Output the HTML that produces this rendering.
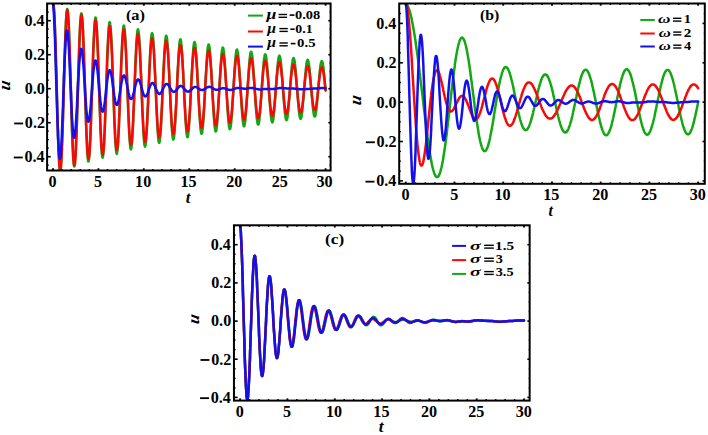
<!DOCTYPE html>
<html><head><meta charset="utf-8"><style>
html,body{margin:0;padding:0;background:#fff;width:708px;height:435px;overflow:hidden}
svg{display:block;font-family:"Liberation Serif",serif}
</style></head><body>
<svg width="708" height="435" viewBox="0 0 708 435">
<defs>
<clipPath id="clipa"><rect x="47.1" y="3.5" width="283.5" height="167.0"/></clipPath>
<clipPath id="clipb"><rect x="399.2" y="3.5" width="305.59999999999997" height="180.3"/></clipPath>
<clipPath id="clipc"><rect x="233.95" y="225.3" width="295.7" height="175.3"/></clipPath>
</defs>
<rect width="708" height="435" fill="#fff"/>
<g clip-path="url(#clipa)">
<polyline points="53.0,3.7 53.1,3.5 53.3,3.8 53.5,4.8 53.7,6.2 53.9,8.2 54.0,10.8 54.2,13.8 54.4,17.3 54.6,21.2 54.8,25.6 55.0,30.4 55.1,35.6 55.3,41.1 55.5,46.9 55.7,53.0 55.9,59.3 56.0,65.7 56.2,72.4 56.4,79.1 56.6,85.8 56.8,92.6 57.0,99.3 57.1,105.9 57.3,112.5 57.5,118.8 57.7,125.0 57.9,130.8 58.0,136.5 58.2,141.8 58.4,146.7 58.6,151.2 58.8,155.4 59.0,159.1 59.1,162.3 59.3,165.0 59.5,167.3 59.7,169.0 59.9,170.2 60.0,170.8 60.2,171.0 60.4,170.5 60.6,169.6 60.8,168.1 61.0,166.1 61.1,163.6 61.3,160.7 61.5,157.2 61.7,153.3 61.9,149.0 62.0,144.3 62.2,139.3 62.4,133.9 62.6,128.3 62.8,122.4 63.0,116.3 63.1,110.0 63.3,103.6 63.5,97.1 63.7,90.5 63.9,84.0 64.0,77.5 64.2,71.1 64.4,64.8 64.6,58.6 64.8,52.7 65.0,47.0 65.1,41.6 65.3,36.5 65.5,31.8 65.7,27.5 65.9,23.5 66.0,20.0 66.2,16.9 66.4,14.3 66.6,12.2 66.8,10.7 67.0,9.6 67.1,9.0 67.3,9.0 67.5,9.4 67.7,10.4 67.9,11.9 68.0,13.9 68.2,16.4 68.4,19.4 68.6,22.8 68.8,26.6 69.0,30.9 69.1,35.5 69.3,40.4 69.5,45.7 69.7,51.2 69.9,57.0 70.0,63.0 70.2,69.1 70.4,75.3 70.6,81.7 70.8,88.0 71.0,94.4 71.1,100.7 71.3,106.9 71.5,113.0 71.7,119.0 71.9,124.7 72.0,130.2 72.2,135.4 72.4,140.3 72.6,144.9 72.8,149.1 73.0,152.9 73.1,156.2 73.3,159.2 73.5,161.6 73.7,163.6 73.9,165.1 74.0,166.1 74.2,166.6 74.4,166.6 74.6,166.1 74.8,165.0 75.0,163.5 75.1,161.5 75.3,159.1 75.5,156.1 75.7,152.8 75.9,149.0 76.0,144.9 76.2,140.3 76.4,135.5 76.6,130.4 76.8,125.0 77.0,119.3 77.1,113.5 77.3,107.6 77.5,101.5 77.7,95.3 77.9,89.1 78.0,83.0 78.2,76.8 78.4,70.8 78.6,64.9 78.8,59.1 79.0,53.6 79.1,48.3 79.3,43.2 79.5,38.5 79.7,34.1 79.9,30.1 80.0,26.4 80.2,23.2 80.4,20.4 80.6,18.1 80.8,16.2 81.0,14.8 81.1,13.8 81.3,13.4 81.5,13.5 81.7,14.0 81.9,15.0 82.0,16.6 82.2,18.5 82.4,21.0 82.6,23.8 82.8,27.1 83.0,30.8 83.1,34.9 83.3,39.3 83.5,44.0 83.7,49.0 83.9,54.3 84.0,59.7 84.2,65.4 84.4,71.2 84.6,77.1 84.8,83.0 85.0,89.0 85.1,95.0 85.3,100.9 85.5,106.7 85.7,112.5 85.9,118.0 86.0,123.3 86.2,128.4 86.4,133.3 86.6,137.8 86.8,142.0 87.0,145.9 87.1,149.4 87.3,152.4 87.5,155.1 87.7,157.3 87.9,159.1 88.0,160.4 88.2,161.2 88.4,161.5 88.6,161.4 88.8,160.8 89.0,159.8 89.1,158.2 89.3,156.2 89.5,153.8 89.7,151.0 89.9,147.7 90.0,144.1 90.2,140.1 90.4,135.8 90.6,131.1 90.8,126.2 91.0,121.1 91.1,115.8 91.3,110.3 91.5,104.6 91.7,98.9 91.9,93.1 92.1,87.3 92.2,81.5 92.4,75.7 92.6,70.0 92.8,64.5 93.0,59.2 93.1,54.0 93.3,49.1 93.5,44.4 93.7,40.0 93.9,36.0 94.1,32.3 94.2,28.9 94.4,26.0 94.6,23.5 94.8,21.4 95.0,19.7 95.1,18.5 95.3,17.7 95.5,17.5 95.7,17.6 95.9,18.3 96.1,19.4 96.2,20.9 96.4,22.9 96.6,25.3 96.8,28.1 97.0,31.3 97.1,34.9 97.3,38.8 97.5,43.1 97.7,47.6 97.9,52.4 98.1,57.4 98.2,62.6 98.4,68.0 98.6,73.5 98.8,79.0 99.0,84.7 99.1,90.4 99.3,96.0 99.5,101.6 99.7,107.1 99.9,112.4 100.1,117.6 100.2,122.6 100.4,127.4 100.6,131.9 100.8,136.1 101.0,140.0 101.1,143.6 101.3,146.8 101.5,149.6 101.7,152.1 101.9,154.1 102.1,155.6 102.2,156.8 102.4,157.5 102.6,157.7 102.8,157.5 103.0,156.8 103.1,155.7 103.3,154.2 103.5,152.2 103.7,149.9 103.9,147.1 104.1,144.0 104.2,140.5 104.4,136.7 104.6,132.5 104.8,128.1 105.0,123.5 105.1,118.6 105.3,113.5 105.5,108.3 105.7,103.0 105.9,97.6 106.1,92.1 106.2,86.6 106.4,81.2 106.6,75.8 106.8,70.5 107.0,65.3 107.1,60.3 107.3,55.5 107.5,50.9 107.7,46.5 107.9,42.5 108.1,38.7 108.2,35.3 108.4,32.3 108.6,29.6 108.8,27.3 109.0,25.4 109.1,24.0 109.3,22.9 109.5,22.3 109.7,22.1 109.9,22.4 110.1,23.1 110.2,24.2 110.4,25.8 110.6,27.7 110.8,30.1 111.0,32.8 111.1,35.9 111.3,39.3 111.5,43.1 111.7,47.1 111.9,51.5 112.1,56.0 112.2,60.8 112.4,65.7 112.6,70.8 112.8,76.0 113.0,81.2 113.1,86.5 113.3,91.9 113.5,97.2 113.7,102.4 113.9,107.5 114.1,112.5 114.2,117.4 114.4,122.0 114.6,126.4 114.8,130.6 115.0,134.5 115.1,138.1 115.3,141.4 115.5,144.3 115.7,146.8 115.9,149.0 116.1,150.8 116.2,152.2 116.4,153.1 116.6,153.7 116.8,153.8 117.0,153.5 117.1,152.7 117.3,151.6 117.5,150.0 117.7,148.1 117.9,145.7 118.1,143.0 118.2,140.0 118.4,136.6 118.6,132.9 118.8,128.9 119.0,124.7 119.1,120.3 119.3,115.6 119.5,110.8 119.7,105.8 119.9,100.8 120.1,95.6 120.2,90.5 120.4,85.3 120.6,80.1 120.8,75.1 121.0,70.1 121.1,65.2 121.3,60.5 121.5,56.0 121.7,51.7 121.9,47.7 122.1,43.9 122.2,40.5 122.4,37.3 122.6,34.5 122.8,32.1 123.0,30.0 123.1,28.3 123.3,27.0 123.5,26.1 123.7,25.6 123.9,25.5 124.1,25.9 124.2,26.6 124.4,27.7 124.6,29.3 124.8,31.2 125.0,33.5 125.1,36.1 125.3,39.1 125.5,42.4 125.7,46.0 125.9,49.9 126.1,54.0 126.2,58.3 126.4,62.9 126.6,67.6 126.8,72.4 127.0,77.3 127.1,82.2 127.3,87.3 127.5,92.3 127.7,97.2 127.9,102.1 128.1,107.0 128.2,111.6 128.4,116.2 128.6,120.5 128.8,124.6 129.0,128.5 129.1,132.1 129.3,135.4 129.5,138.5 129.7,141.1 129.9,143.5 130.1,145.4 130.2,147.0 130.4,148.2 130.6,149.1 130.8,149.5 131.0,149.5 131.2,149.1 131.3,148.4 131.5,147.2 131.7,145.7 131.9,143.7 132.1,141.5 132.2,138.9 132.4,135.9 132.6,132.7 132.8,129.2 133.0,125.4 133.2,121.4 133.3,117.1 133.5,112.7 133.7,108.2 133.9,103.5 134.1,98.7 134.2,93.9 134.4,89.0 134.6,84.2 134.8,79.3 135.0,74.6 135.2,69.9 135.3,65.4 135.5,61.1 135.7,56.9 135.9,52.9 136.1,49.2 136.2,45.7 136.4,42.5 136.6,39.7 136.8,37.1 137.0,34.9 137.2,33.0 137.3,31.5 137.5,30.4 137.7,29.7 137.9,29.3 138.1,29.4 138.2,29.8 138.4,30.6 138.6,31.8 138.8,33.3 139.0,35.2 139.2,37.5 139.3,40.1 139.5,43.0 139.7,46.2 139.9,49.6 140.1,53.3 140.2,57.3 140.4,61.4 140.6,65.7 140.8,70.2 141.0,74.8 141.2,79.4 141.3,84.1 141.5,88.9 141.7,93.6 141.9,98.3 142.1,102.9 142.2,107.4 142.4,111.8 142.6,116.0 142.8,120.1 143.0,123.9 143.2,127.5 143.3,130.9 143.5,133.9 143.7,136.7 143.9,139.2 144.1,141.3 144.2,143.1 144.4,144.5 144.6,145.6 144.8,146.2 145.0,146.6 145.2,146.5 145.3,146.1 145.5,145.3 145.7,144.1 145.9,142.5 146.1,140.7 146.2,138.5 146.4,135.9 146.6,133.1 146.8,130.0 147.0,126.6 147.2,123.0 147.3,119.1 147.5,115.1 147.7,110.9 147.9,106.6 148.1,102.1 148.2,97.6 148.4,93.1 148.6,88.5 148.8,83.9 149.0,79.4 149.2,74.9 149.3,70.5 149.5,66.3 149.7,62.2 149.9,58.3 150.1,54.6 150.2,51.1 150.4,47.9 150.6,45.0 150.8,42.3 151.0,40.0 151.2,38.0 151.3,36.3 151.5,34.9 151.7,33.9 151.9,33.3 152.1,33.1 152.2,33.2 152.4,33.6 152.6,34.5 152.8,35.6 153.0,37.2 153.2,39.0 153.3,41.2 153.5,43.7 153.7,46.5 153.9,49.5 154.1,52.8 154.2,56.4 154.4,60.1 154.6,64.0 154.8,68.1 155.0,72.3 155.2,76.6 155.3,81.0 155.5,85.4 155.7,89.9 155.9,94.3 156.1,98.7 156.2,103.0 156.4,107.2 156.6,111.3 156.8,115.2 157.0,119.0 157.2,122.5 157.3,125.9 157.5,128.9 157.7,131.8 157.9,134.3 158.1,136.5 158.2,138.4 158.4,140.0 158.6,141.3 158.8,142.2 159.0,142.7 159.2,142.9 159.3,142.8 159.5,142.2 159.7,141.4 159.9,140.2 160.1,138.7 160.2,136.8 160.4,134.6 160.6,132.2 160.8,129.4 161.0,126.4 161.2,123.2 161.3,119.7 161.5,116.0 161.7,112.2 161.9,108.2 162.1,104.1 162.2,99.9 162.4,95.6 162.6,91.3 162.8,86.9 163.0,82.6 163.2,78.4 163.3,74.2 163.5,70.1 163.7,66.1 163.9,62.3 164.1,58.7 164.2,55.2 164.4,52.0 164.6,49.0 164.8,46.3 165.0,43.9 165.2,41.8 165.3,39.9 165.5,38.4 165.7,37.2 165.9,36.4 166.1,35.9 166.2,35.7 166.4,35.9 166.6,36.4 166.8,37.3 167.0,38.5 167.2,40.0 167.3,41.8 167.5,43.9 167.7,46.4 167.9,49.0 168.1,52.0 168.3,55.2 168.4,58.5 168.6,62.1 168.8,65.9 169.0,69.7 169.2,73.7 169.3,77.8 169.5,82.0 169.7,86.2 169.9,90.4 170.1,94.5 170.3,98.7 170.4,102.7 170.6,106.7 170.8,110.5 171.0,114.2 171.2,117.7 171.3,121.0 171.5,124.1 171.7,127.0 171.9,129.6 172.1,131.9 172.3,134.0 172.4,135.7 172.6,137.1 172.8,138.3 173.0,139.1 173.2,139.5 173.3,139.6 173.5,139.4 173.7,138.9 173.9,138.0 174.1,136.8 174.3,135.3 174.4,133.5 174.6,131.4 174.8,129.1 175.0,126.5 175.2,123.6 175.3,120.5 175.5,117.2 175.7,113.7 175.9,110.1 176.1,106.3 176.3,102.4 176.4,98.5 176.6,94.4 176.8,90.4 177.0,86.3 177.2,82.3 177.3,78.3 177.5,74.4 177.7,70.6 177.9,66.9 178.1,63.3 178.3,60.0 178.4,56.8 178.6,53.8 178.8,51.1 179.0,48.6 179.2,46.4 179.3,44.5 179.5,42.8 179.7,41.5 179.9,40.4 180.1,39.7 180.3,39.3 180.4,39.3 180.6,39.5 180.8,40.1 181.0,41.0 181.2,42.2 181.3,43.7 181.5,45.5 181.7,47.6 181.9,49.9 182.1,52.5 182.3,55.3 182.4,58.4 182.6,61.6 182.8,65.0 183.0,68.6 183.2,72.3 183.3,76.1 183.5,79.9 183.7,83.9 183.9,87.8 184.1,91.8 184.3,95.7 184.4,99.6 184.6,103.4 184.8,107.1 185.0,110.6 185.2,114.1 185.3,117.3 185.5,120.4 185.7,123.3 185.9,125.9 186.1,128.3 186.3,130.4 186.4,132.3 186.6,133.9 186.8,135.1 187.0,136.1 187.2,136.8 187.3,137.1 187.5,137.2 187.7,136.9 187.9,136.3 188.1,135.4 188.3,134.2 188.4,132.7 188.6,130.9 188.8,128.9 189.0,126.6 189.2,124.1 189.3,121.3 189.5,118.3 189.7,115.1 189.9,111.8 190.1,108.3 190.3,104.8 190.4,101.1 190.6,97.3 190.8,93.5 191.0,89.6 191.2,85.8 191.3,82.0 191.5,78.2 191.7,74.6 191.9,71.0 192.1,67.5 192.3,64.2 192.4,61.0 192.6,58.1 192.8,55.3 193.0,52.8 193.2,50.5 193.3,48.4 193.5,46.6 193.7,45.1 193.9,43.9 194.1,43.0 194.3,42.4 194.4,42.1 194.6,42.1 194.8,42.4 195.0,43.0 195.2,43.8 195.3,45.0 195.5,46.5 195.7,48.2 195.9,50.2 196.1,52.5 196.3,55.0 196.4,57.7 196.6,60.6 196.8,63.6 197.0,66.9 197.2,70.2 197.3,73.7 197.5,77.3 197.7,80.9 197.9,84.6 198.1,88.3 198.3,92.0 198.4,95.7 198.6,99.4 198.8,102.9 199.0,106.4 199.2,109.7 199.3,112.9 199.5,115.9 199.7,118.7 199.9,121.4 200.1,123.8 200.3,126.0 200.4,127.9 200.6,129.6 200.8,131.0 201.0,132.1 201.2,133.0 201.3,133.5 201.5,133.8 201.7,133.8 201.9,133.4 202.1,132.8 202.3,131.9 202.4,130.7 202.6,129.2 202.8,127.5 203.0,125.5 203.2,123.3 203.3,120.8 203.5,118.2 203.7,115.3 203.9,112.3 204.1,109.2 204.3,105.9 204.4,102.5 204.6,99.0 204.8,95.4 205.0,91.8 205.2,88.2 205.3,84.6 205.5,81.0 205.7,77.5 205.9,74.1 206.1,70.7 206.3,67.5 206.4,64.4 206.6,61.5 206.8,58.7 207.0,56.2 207.2,53.9 207.4,51.8 207.5,49.9 207.7,48.3 207.9,47.0 208.1,45.9 208.3,45.1 208.4,44.6 208.6,44.4 208.8,44.5 209.0,44.8 209.2,45.5 209.4,46.4 209.5,47.6 209.7,49.0 209.9,50.7 210.1,52.7 210.3,54.9 210.4,57.3 210.6,59.9 210.8,62.7 211.0,65.6 211.2,68.7 211.4,71.9 211.5,75.2 211.7,78.7 211.9,82.1 212.1,85.6 212.3,89.1 212.4,92.6 212.6,96.1 212.8,99.5 213.0,102.9 213.2,106.1 213.4,109.2 213.5,112.2 213.7,115.0 213.9,117.7 214.1,120.2 214.3,122.4 214.4,124.4 214.6,126.2 214.8,127.8 215.0,129.0 215.2,130.1 215.4,130.8 215.5,131.3 215.7,131.5 215.9,131.4 216.1,131.0 216.3,130.4 216.4,129.5 216.6,128.3 216.8,126.9 217.0,125.2 217.2,123.3 217.4,121.2 217.5,118.8 217.7,116.3 217.9,113.6 218.1,110.7 218.3,107.7 218.4,104.6 218.6,101.4 218.8,98.1 219.0,94.7 219.2,91.4 219.4,88.0 219.5,84.6 219.7,81.2 219.9,77.9 220.1,74.7 220.3,71.6 220.4,68.6 220.6,65.7 220.8,63.0 221.0,60.5 221.2,58.1 221.4,56.0 221.5,54.1 221.7,52.4 221.9,50.9 222.1,49.7 222.3,48.8 222.4,48.1 222.6,47.7 222.8,47.5 223.0,47.6 223.2,48.0 223.4,48.7 223.5,49.6 223.7,50.8 223.9,52.2 224.1,53.9 224.3,55.8 224.4,57.9 224.6,60.2 224.8,62.7 225.0,65.3 225.2,68.1 225.4,71.1 225.5,74.1 225.7,77.3 225.9,80.5 226.1,83.7 226.3,87.0 226.4,90.3 226.6,93.6 226.8,96.9 227.0,100.0 227.2,103.2 227.4,106.2 227.5,109.1 227.7,111.8 227.9,114.5 228.1,116.9 228.3,119.2 228.4,121.2 228.6,123.1 228.8,124.7 229.0,126.1 229.2,127.2 229.4,128.1 229.5,128.7 229.7,129.1 229.9,129.2 230.1,129.0 230.3,128.6 230.4,127.9 230.6,127.0 230.8,125.8 231.0,124.4 231.2,122.7 231.4,120.9 231.5,118.8 231.7,116.5 231.9,114.1 232.1,111.5 232.3,108.8 232.4,105.9 232.6,102.9 232.8,99.8 233.0,96.7 233.2,93.5 233.4,90.3 233.5,87.1 233.7,83.9 233.9,80.7 234.1,77.6 234.3,74.6 234.4,71.7 234.6,68.9 234.8,66.2 235.0,63.6 235.2,61.3 235.4,59.1 235.5,57.1 235.7,55.3 235.9,53.8 236.1,52.4 236.3,51.3 236.4,50.5 236.6,49.9 236.8,49.6 237.0,49.5 237.2,49.6 237.4,50.1 237.5,50.7 237.7,51.6 237.9,52.8 238.1,54.2 238.3,55.8 238.4,57.6 238.6,59.6 238.8,61.8 239.0,64.2 239.2,66.7 239.4,69.4 239.5,72.2 239.7,75.1 239.9,78.0 240.1,81.1 240.3,84.2 240.4,87.3 240.6,90.4 240.8,93.5 241.0,96.5 241.2,99.5 241.4,102.4 241.5,105.2 241.7,107.9 241.9,110.5 242.1,112.9 242.3,115.2 242.4,117.3 242.6,119.2 242.8,120.9 243.0,122.4 243.2,123.6 243.4,124.6 243.5,125.4 243.7,126.0 243.9,126.3 244.1,126.3 244.3,126.1 244.4,125.7 244.6,125.0 244.8,124.1 245.0,122.9 245.2,121.5 245.4,119.9 245.5,118.1 245.7,116.2 245.9,114.0 246.1,111.7 246.3,109.2 246.5,106.6 246.6,103.9 246.8,101.1 247.0,98.2 247.2,95.2 247.4,92.2 247.5,89.2 247.7,86.2 247.9,83.2 248.1,80.3 248.3,77.4 248.5,74.5 248.6,71.8 248.8,69.2 249.0,66.7 249.2,64.4 249.4,62.2 249.5,60.2 249.7,58.4 249.9,56.8 250.1,55.4 250.3,54.2 250.5,53.3 250.6,52.5 250.8,52.1 251.0,51.8 251.2,51.8 251.4,52.0 251.5,52.5 251.7,53.2 251.9,54.1 252.1,55.3 252.3,56.7 252.5,58.2 252.6,60.0 252.8,62.0 253.0,64.1 253.2,66.4 253.4,68.8 253.5,71.4 253.7,74.0 253.9,76.8 254.1,79.6 254.3,82.5 254.5,85.4 254.6,88.4 254.8,91.3 255.0,94.2 255.2,97.1 255.4,99.9 255.5,102.7 255.7,105.3 255.9,107.8 256.1,110.2 256.3,112.5 256.5,114.6 256.6,116.5 256.8,118.3 257.0,119.8 257.2,121.2 257.4,122.3 257.5,123.3 257.7,124.0 257.9,124.4 258.1,124.6 258.3,124.6 258.5,124.4 258.6,123.9 258.8,123.3 259.0,122.3 259.2,121.2 259.4,119.9 259.5,118.3 259.7,116.6 259.9,114.7 260.1,112.6 260.3,110.4 260.5,108.0 260.6,105.5 260.8,103.0 261.0,100.3 261.2,97.6 261.4,94.8 261.5,91.9 261.7,89.1 261.9,86.2 262.1,83.4 262.3,80.7 262.5,77.9 262.6,75.3 262.8,72.8 263.0,70.3 263.2,68.0 263.4,65.8 263.5,63.8 263.7,62.0 263.9,60.3 264.1,58.8 264.3,57.5 264.5,56.4 264.6,55.6 264.8,54.9 265.0,54.5 265.2,54.3 265.4,54.4 265.5,54.6 265.7,55.1 265.9,55.8 266.1,56.7 266.3,57.8 266.5,59.1 266.6,60.7 266.8,62.4 267.0,64.2 267.2,66.3 267.4,68.4 267.5,70.7 267.7,73.1 267.9,75.7 268.1,78.3 268.3,80.9 268.5,83.6 268.6,86.4 268.8,89.1 269.0,91.9 269.2,94.6 269.4,97.3 269.5,99.9 269.7,102.4 269.9,104.9 270.1,107.2 270.3,109.5 270.5,111.5 270.6,113.5 270.8,115.2 271.0,116.8 271.2,118.2 271.4,119.4 271.5,120.4 271.7,121.2 271.9,121.8 272.1,122.2 272.3,122.4 272.5,122.3 272.6,122.0 272.8,121.5 273.0,120.8 273.2,119.9 273.4,118.7 273.5,117.4 273.7,115.9 273.9,114.2 274.1,112.4 274.3,110.4 274.5,108.2 274.6,106.0 274.8,103.6 275.0,101.1 275.2,98.6 275.4,96.0 275.5,93.3 275.7,90.6 275.9,88.0 276.1,85.3 276.3,82.6 276.5,80.0 276.6,77.5 276.8,75.0 277.0,72.6 277.2,70.3 277.4,68.2 277.5,66.1 277.7,64.3 277.9,62.6 278.1,61.0 278.3,59.7 278.5,58.5 278.6,57.5 278.8,56.8 279.0,56.2 279.2,55.9 279.4,55.7 279.5,55.8 279.7,56.1 279.9,56.6 280.1,57.3 280.3,58.2 280.5,59.3 280.6,60.6 280.8,62.1 281.0,63.7 281.2,65.5 281.4,67.5 281.5,69.6 281.7,71.8 281.9,74.1 282.1,76.5 282.3,78.9 282.5,81.5 282.6,84.0 282.8,86.6 283.0,89.2 283.2,91.8 283.4,94.4 283.6,96.9 283.7,99.4 283.9,101.8 284.1,104.1 284.3,106.3 284.5,108.3 284.6,110.3 284.8,112.1 285.0,113.7 285.2,115.2 285.4,116.5 285.6,117.6 285.7,118.5 285.9,119.2 286.1,119.8 286.3,120.1 286.5,120.2 286.6,120.1 286.8,119.8 287.0,119.3 287.2,118.6 287.4,117.7 287.6,116.6 287.7,115.3 287.9,113.9 288.1,112.3 288.3,110.5 288.5,108.6 288.6,106.6 288.8,104.5 289.0,102.2 289.2,99.9 289.4,97.5 289.6,95.0 289.7,92.6 289.9,90.0 290.1,87.5 290.3,85.0 290.5,82.6 290.6,80.1 290.8,77.7 291.0,75.4 291.2,73.2 291.4,71.1 291.6,69.2 291.7,67.3 291.9,65.6 292.1,64.0 292.3,62.6 292.5,61.4 292.6,60.4 292.8,59.5 293.0,58.8 293.2,58.4 293.4,58.1 293.6,58.0 293.7,58.2 293.9,58.5 294.1,59.0 294.3,59.8 294.5,60.7 294.6,61.8 294.8,63.0 295.0,64.5 295.2,66.1 295.4,67.8 295.6,69.7 295.7,71.7 295.9,73.8 296.1,76.0 296.3,78.2 296.5,80.6 296.6,83.0 296.8,85.4 297.0,87.9 297.2,90.3 297.4,92.8 297.6,95.2 297.7,97.6 297.9,99.9 298.1,102.1 298.3,104.2 298.5,106.3 298.6,108.2 298.8,110.0 299.0,111.7 299.2,113.2 299.4,114.5 299.6,115.7 299.7,116.7 299.9,117.5 300.1,118.2 300.3,118.6 300.5,118.8 300.6,118.9 300.8,118.8 301.0,118.4 301.2,117.9 301.4,117.2 301.6,116.3 301.7,115.2 301.9,114.0 302.1,112.6 302.3,111.0 302.5,109.3 302.6,107.5 302.8,105.5 303.0,103.5 303.2,101.3 303.4,99.1 303.6,96.8 303.7,94.5 303.9,92.1 304.1,89.8 304.3,87.4 304.5,85.0 304.6,82.7 304.8,80.4 305.0,78.1 305.2,76.0 305.4,73.9 305.6,71.9 305.7,70.1 305.9,68.3 306.1,66.7 306.3,65.3 306.5,64.0 306.6,62.9 306.8,61.9 307.0,61.1 307.2,60.5 307.4,60.1 307.6,59.9 307.7,59.8 307.9,60.0 308.1,60.3 308.3,60.9 308.5,61.6 308.6,62.4 308.8,63.5 309.0,64.7 309.2,66.1 309.4,67.6 309.6,69.2 309.7,71.0 309.9,72.9 310.1,74.9 310.3,77.0 310.5,79.1 310.6,81.3 310.8,83.6 311.0,85.9 311.2,88.2 311.4,90.5 311.6,92.7 311.7,95.0 311.9,97.2 312.1,99.3 312.3,101.4 312.5,103.4 312.6,105.3 312.8,107.1 313.0,108.7 313.2,110.2 313.4,111.6 313.6,112.8 313.7,113.9 313.9,114.8 314.1,115.5 314.3,116.1 314.5,116.4 314.6,116.6 314.8,116.6 315.0,116.4 315.2,116.1 315.4,115.5 315.6,114.8 315.7,113.9 315.9,112.8 316.1,111.6 316.3,110.3 316.5,108.8 316.6,107.1 316.8,105.4 317.0,103.5 317.2,101.6 317.4,99.5 317.6,97.4 317.7,95.3 317.9,93.1 318.1,90.8 318.3,88.6 318.5,86.4 318.6,84.1 318.8,82.0 319.0,79.8 319.2,77.7 319.4,75.7 319.6,73.8 319.7,71.9 319.9,70.2 320.1,68.6 320.3,67.2 320.5,65.8 320.6,64.7 320.8,63.6 321.0,62.8 321.2,62.1 321.4,61.6 321.6,61.3 321.7,61.1 321.9,61.1 322.1,61.3 322.3,61.7 322.5,62.2 322.7,62.9 322.8,63.8 323.0,64.9 323.2,66.1 323.4,67.4 323.6,68.9 323.7,70.5 323.9,72.2 324.1,74.0 324.3,75.9 324.5,77.9 324.7,79.9 324.8,82.0 325.0,84.2 325.2,86.4 325.4,88.5 325.6,90.7" fill="none" stroke="#12a812" stroke-width="2.5" stroke-linejoin="round" stroke-linecap="round"/>
<polyline points="53.0,3.7 53.1,3.3 53.3,3.5 53.5,4.2 53.7,5.5 53.9,7.4 54.0,9.7 54.2,12.6 54.4,15.9 54.6,19.7 54.8,24.0 55.0,28.7 55.1,33.7 55.3,39.1 55.5,44.8 55.7,50.8 55.9,57.0 56.0,63.4 56.2,70.0 56.4,76.7 56.6,83.4 56.8,90.1 57.0,96.9 57.1,103.5 57.3,110.1 57.5,116.5 57.7,122.7 57.9,128.6 58.0,134.3 58.2,139.7 58.4,144.7 58.6,149.4 58.8,153.6 59.0,157.5 59.1,160.8 59.3,163.7 59.5,166.1 59.7,168.0 59.9,169.3 60.0,170.2 60.2,170.5 60.4,170.2 60.6,169.5 60.8,168.2 61.0,166.4 61.1,164.0 61.3,161.2 61.5,158.0 61.7,154.3 61.9,150.1 62.0,145.6 62.2,140.7 62.4,135.5 62.6,130.0 62.8,124.2 63.0,118.2 63.1,112.0 63.3,105.7 63.5,99.3 63.7,92.8 63.9,86.4 64.0,79.9 64.2,73.5 64.4,67.2 64.6,61.1 64.8,55.2 65.0,49.5 65.1,44.1 65.3,39.0 65.5,34.2 65.7,29.7 65.9,25.7 66.0,22.1 66.2,19.0 66.4,16.3 66.6,14.0 66.8,12.3 67.0,11.1 67.1,10.4 67.3,10.2 67.5,10.5 67.7,11.3 67.9,12.6 68.0,14.5 68.2,16.8 68.4,19.6 68.6,22.8 68.8,26.4 69.0,30.5 69.1,34.9 69.3,39.7 69.5,44.8 69.7,50.2 69.9,55.8 70.0,61.6 70.2,67.6 70.4,73.7 70.6,79.9 70.8,86.1 71.0,92.4 71.1,98.6 71.3,104.8 71.5,110.8 71.7,116.7 71.9,122.4 72.0,127.9 72.2,133.1 72.4,138.0 72.6,142.6 72.8,146.8 73.0,150.6 73.1,154.1 73.3,157.1 73.5,159.6 73.7,161.7 73.9,163.3 74.0,164.4 74.2,165.1 74.4,165.2 74.6,164.8 74.8,164.0 75.0,162.6 75.1,160.8 75.3,158.5 75.5,155.8 75.7,152.6 75.9,149.0 76.0,145.1 76.2,140.7 76.4,136.1 76.6,131.1 76.8,125.9 77.0,120.5 77.1,114.8 77.3,109.0 77.5,103.1 77.7,97.1 77.9,91.1 78.0,85.0 78.2,79.0 78.4,73.1 78.6,67.3 78.8,61.6 79.0,56.1 79.1,50.9 79.3,45.9 79.5,41.2 79.7,36.8 79.9,32.7 80.0,29.1 80.2,25.8 80.4,22.9 80.6,20.5 80.8,18.5 81.0,17.0 81.1,16.0 81.3,15.4 81.5,15.3 81.7,15.7 81.9,16.6 82.0,17.9 82.2,19.7 82.4,21.9 82.6,24.6 82.8,27.7 83.0,31.2 83.1,35.0 83.3,39.2 83.5,43.7 83.7,48.5 83.9,53.5 84.0,58.7 84.2,64.2 84.4,69.8 84.6,75.4 84.8,81.2 85.0,87.0 85.1,92.8 85.3,98.6 85.5,104.3 85.7,109.8 85.9,115.3 86.0,120.5 86.2,125.5 86.4,130.3 86.6,134.8 86.8,138.9 87.0,142.8 87.1,146.2 87.3,149.3 87.5,152.0 87.7,154.3 87.9,156.1 88.0,157.5 88.2,158.4 88.4,158.9 88.6,158.9 88.8,158.4 89.0,157.5 89.1,156.2 89.3,154.4 89.5,152.1 89.7,149.5 89.9,146.5 90.0,143.1 90.2,139.3 90.4,135.2 90.6,130.8 90.8,126.2 91.0,121.3 91.1,116.2 91.3,110.9 91.5,105.5 91.7,100.0 91.9,94.5 92.1,88.9 92.2,83.3 92.4,77.7 92.6,72.2 92.8,66.9 93.0,61.7 93.1,56.6 93.3,51.8 93.5,47.3 93.7,43.0 93.9,39.0 94.1,35.4 94.2,32.1 94.4,29.1 94.6,26.6 94.8,24.5 95.0,22.8 95.1,21.5 95.3,20.7 95.5,20.3 95.7,20.3 95.9,20.8 96.1,21.8 96.2,23.2 96.4,24.9 96.6,27.2 96.8,29.8 97.0,32.7 97.1,36.1 97.3,39.8 97.5,43.7 97.7,48.0 97.9,52.5 98.1,57.3 98.2,62.2 98.4,67.4 98.6,72.6 98.8,77.9 99.0,83.3 99.1,88.8 99.3,94.2 99.5,99.5 99.7,104.8 99.9,110.0 100.1,115.0 100.2,119.8 100.4,124.5 100.6,128.8 100.8,133.0 101.0,136.8 101.1,140.3 101.3,143.4 101.5,146.2 101.7,148.6 101.9,150.7 102.1,152.3 102.2,153.5 102.4,154.3 102.6,154.6 102.8,154.5 103.0,154.0 103.1,153.1 103.3,151.7 103.5,150.0 103.7,147.8 103.9,145.3 104.1,142.4 104.2,139.1 104.4,135.6 104.6,131.7 104.8,127.6 105.0,123.2 105.1,118.6 105.3,113.9 105.5,108.9 105.7,103.9 105.9,98.8 106.1,93.6 106.2,88.4 106.4,83.2 106.6,78.1 106.8,73.0 107.0,68.0 107.1,63.2 107.3,58.6 107.5,54.2 107.7,50.0 107.9,46.1 108.1,42.5 108.2,39.2 108.4,36.2 108.6,33.5 108.8,31.3 109.0,29.4 109.1,27.9 109.3,26.8 109.5,26.1 109.7,25.9 109.9,26.0 110.1,26.6 110.2,27.5 110.4,28.9 110.6,30.6 110.8,32.8 111.0,35.3 111.1,38.1 111.3,41.3 111.5,44.7 111.7,48.5 111.9,52.5 112.1,56.7 112.2,61.2 112.4,65.8 112.6,70.6 112.8,75.4 113.0,80.4 113.1,85.4 113.3,90.4 113.5,95.4 113.7,100.4 113.9,105.2 114.1,110.0 114.2,114.6 114.4,119.0 114.6,123.2 114.8,127.2 115.0,130.9 115.1,134.4 115.3,137.5 115.5,140.4 115.7,142.8 115.9,145.0 116.1,146.7 116.2,148.1 116.4,149.1 116.6,149.7 116.8,149.9 117.0,149.7 117.1,149.1 117.3,148.1 117.5,146.7 117.7,145.0 117.9,142.8 118.1,140.4 118.2,137.6 118.4,134.5 118.6,131.1 118.8,127.4 119.0,123.5 119.1,119.3 119.3,115.0 119.5,110.5 119.7,105.9 119.9,101.2 120.1,96.4 120.2,91.5 120.4,86.7 120.6,81.8 120.8,77.0 121.0,72.3 121.1,67.8 121.3,63.3 121.5,59.1 121.7,55.0 121.9,51.2 122.1,47.6 122.2,44.2 122.4,41.2 122.6,38.5 122.8,36.1 123.0,34.1 123.1,32.4 123.3,31.1 123.5,30.2 123.7,29.7 123.9,29.5 124.1,29.7 124.2,30.3 124.4,31.3 124.6,32.7 124.8,34.4 125.0,36.4 125.1,38.8 125.3,41.5 125.5,44.6 125.7,47.8 125.9,51.4 126.1,55.2 126.2,59.2 126.4,63.4 126.6,67.7 126.8,72.1 127.0,76.7 127.1,81.3 127.3,86.0 127.5,90.6 127.7,95.3 127.9,99.9 128.1,104.4 128.2,108.8 128.4,113.0 128.6,117.1 128.8,121.0 129.0,124.6 129.1,128.0 129.3,131.2 129.5,134.1 129.7,136.6 129.9,138.9 130.1,140.8 130.2,142.3 130.4,143.5 130.6,144.4 130.8,144.9 131.0,145.0 131.2,144.7 131.3,144.1 131.5,143.1 131.7,141.7 131.9,140.1 132.1,138.0 132.2,135.7 132.4,133.0 132.6,130.1 132.8,126.9 133.0,123.4 133.2,119.8 133.3,115.9 133.5,111.9 133.7,107.7 133.9,103.4 134.1,99.0 134.2,94.5 134.4,90.0 134.6,85.6 134.8,81.1 135.0,76.7 135.2,72.4 135.3,68.2 135.5,64.1 135.7,60.2 135.9,56.5 136.1,53.0 136.2,49.8 136.4,46.8 136.6,44.1 136.8,41.7 137.0,39.6 137.2,37.8 137.3,36.4 137.5,35.3 137.7,34.5 137.9,34.1 138.1,34.1 138.2,34.4 138.4,35.1 138.6,36.1 138.8,37.5 139.0,39.1 139.2,41.2 139.3,43.5 139.5,46.1 139.7,49.0 139.9,52.1 140.1,55.5 140.2,59.1 140.4,62.9 140.6,66.8 140.8,70.9 141.0,75.1 141.2,79.3 141.3,83.6 141.5,88.0 141.7,92.3 141.9,96.6 142.1,100.9 142.2,105.1 142.4,109.1 142.6,113.1 142.8,116.8 143.0,120.4 143.2,123.7 143.3,126.8 143.5,129.7 143.7,132.3 143.9,134.6 144.1,136.6 144.2,138.3 144.4,139.7 144.6,140.7 144.8,141.4 145.0,141.8 145.2,141.8 145.3,141.5 145.5,140.8 145.7,139.8 145.9,138.5 146.1,136.8 146.2,134.8 146.4,132.6 146.6,130.0 146.8,127.2 147.0,124.2 147.2,120.9 147.3,117.5 147.5,113.8 147.7,110.0 147.9,106.1 148.1,102.1 148.2,97.9 148.4,93.8 148.6,89.6 148.8,85.4 149.0,81.3 149.2,77.2 149.3,73.2 149.5,69.3 149.7,65.5 149.9,61.9 150.1,58.5 150.2,55.3 150.4,52.4 150.6,49.6 150.8,47.1 151.0,45.0 151.2,43.1 151.3,41.5 151.5,40.2 151.7,39.2 151.9,38.6 152.1,38.3 152.2,38.3 152.4,38.6 152.6,39.3 152.8,40.3 153.0,41.6 153.2,43.3 153.3,45.2 153.5,47.4 153.7,49.9 153.9,52.6 154.1,55.5 154.2,58.7 154.4,62.0 154.6,65.6 154.8,69.2 155.0,73.0 155.2,76.9 155.3,80.9 155.5,84.9 155.7,88.9 155.9,92.9 156.1,96.9 156.2,100.8 156.4,104.6 156.6,108.3 156.8,111.9 157.0,115.3 157.2,118.6 157.3,121.6 157.5,124.4 157.7,127.0 157.9,129.3 158.1,131.4 158.2,133.2 158.4,134.6 158.6,135.8 158.8,136.7 159.0,137.2 159.2,137.5 159.3,137.4 159.5,137.0 159.7,136.3 159.9,135.2 160.1,133.9 160.2,132.3 160.4,130.4 160.6,128.2 160.8,125.7 161.0,123.1 161.2,120.2 161.3,117.1 161.5,113.8 161.7,110.4 161.9,106.8 162.1,103.1 162.2,99.3 162.4,95.5 162.6,91.6 162.8,87.7 163.0,83.8 163.2,80.0 163.3,76.2 163.5,72.5 163.7,68.9 163.9,65.5 164.1,62.2 164.2,59.1 164.4,56.1 164.6,53.4 164.8,50.9 165.0,48.7 165.2,46.7 165.3,45.1 165.5,43.6 165.7,42.5 165.9,41.7 166.1,41.2 166.2,41.0 166.4,41.1 166.6,41.5 166.8,42.3 167.0,43.3 167.2,44.6 167.3,46.2 167.5,48.1 167.7,50.2 167.9,52.5 168.1,55.1 168.3,58.0 168.4,61.0 168.6,64.1 168.8,67.5 169.0,70.9 169.2,74.5 169.3,78.1 169.5,81.8 169.7,85.6 169.9,89.3 170.1,93.1 170.3,96.8 170.4,100.4 170.6,104.0 170.8,107.4 171.0,110.7 171.2,113.9 171.3,116.9 171.5,119.7 171.7,122.3 171.9,124.6 172.1,126.8 172.3,128.6 172.4,130.2 172.6,131.6 172.8,132.6 173.0,133.4 173.2,133.8 173.3,134.0 173.5,133.9 173.7,133.5 173.9,132.7 174.1,131.7 174.3,130.5 174.4,128.9 174.6,127.1 174.8,125.0 175.0,122.7 175.2,120.2 175.3,117.5 175.5,114.6 175.7,111.6 175.9,108.4 176.1,105.0 176.3,101.6 176.4,98.1 176.6,94.5 176.8,91.0 177.0,87.4 177.2,83.8 177.3,80.2 177.5,76.8 177.7,73.4 177.9,70.1 178.1,66.9 178.3,63.9 178.4,61.1 178.6,58.4 178.8,56.0 179.0,53.8 179.2,51.8 179.3,50.0 179.5,48.5 179.7,47.3 179.9,46.3 180.1,45.7 180.3,45.3 180.4,45.2 180.6,45.4 180.8,45.8 181.0,46.6 181.2,47.6 181.3,48.9 181.5,50.4 181.7,52.2 181.9,54.3 182.1,56.5 182.3,59.0 182.4,61.7 182.6,64.5 182.8,67.5 183.0,70.6 183.2,73.8 183.3,77.2 183.5,80.6 183.7,84.0 183.9,87.5 184.1,91.0 184.3,94.5 184.4,97.9 184.6,101.2 184.8,104.5 185.0,107.7 185.2,110.7 185.3,113.6 185.5,116.3 185.7,118.9 185.9,121.2 186.1,123.4 186.3,125.3 186.4,126.9 186.6,128.3 186.8,129.5 187.0,130.4 187.2,131.0 187.3,131.4 187.5,131.4 187.7,131.2 187.9,130.7 188.1,130.0 188.3,129.0 188.4,127.7 188.6,126.2 188.8,124.4 189.0,122.4 189.2,120.2 189.3,117.8 189.5,115.2 189.7,112.5 189.9,109.6 190.1,106.5 190.3,103.4 190.4,100.2 190.6,96.9 190.8,93.5 191.0,90.2 191.2,86.8 191.3,83.5 191.5,80.2 191.7,76.9 191.9,73.8 192.1,70.7 192.3,67.8 192.4,65.0 192.6,62.4 192.8,59.9 193.0,57.7 193.2,55.6 193.3,53.8 193.5,52.2 193.7,50.9 193.9,49.8 194.1,48.9 194.3,48.3 194.4,48.0 194.6,48.0 194.8,48.2 195.0,48.7 195.2,49.4 195.3,50.4 195.5,51.6 195.7,53.1 195.9,54.8 196.1,56.7 196.3,58.9 196.4,61.2 196.6,63.7 196.8,66.3 197.0,69.1 197.2,72.0 197.3,75.1 197.5,78.1 197.7,81.3 197.9,84.5 198.1,87.7 198.3,90.9 198.4,94.1 198.6,97.3 198.8,100.4 199.0,103.4 199.2,106.3 199.3,109.1 199.5,111.7 199.7,114.2 199.9,116.5 200.1,118.6 200.3,120.5 200.4,122.3 200.6,123.7 200.8,125.0 201.0,126.0 201.2,126.8 201.3,127.3 201.5,127.5 201.7,127.5 201.9,127.3 202.1,126.8 202.3,126.0 202.4,125.0 202.6,123.7 202.8,122.3 203.0,120.6 203.2,118.7 203.3,116.6 203.5,114.3 203.7,111.9 203.9,109.3 204.1,106.6 204.3,103.7 204.4,100.8 204.6,97.8 204.8,94.7 205.0,91.6 205.2,88.5 205.3,85.4 205.5,82.3 205.7,79.3 205.9,76.3 206.1,73.4 206.3,70.6 206.4,68.0 206.6,65.4 206.8,63.1 207.0,60.8 207.2,58.8 207.4,57.0 207.5,55.4 207.7,54.0 207.9,52.8 208.1,51.9 208.3,51.2 208.4,50.7 208.6,50.5 208.8,50.5 209.0,50.8 209.2,51.3 209.4,52.1 209.5,53.1 209.7,54.3 209.9,55.8 210.1,57.5 210.3,59.3 210.4,61.4 210.6,63.6 210.8,66.0 211.0,68.5 211.2,71.1 211.4,73.9 211.5,76.7 211.7,79.7 211.9,82.6 212.1,85.6 212.3,88.7 212.4,91.7 212.6,94.7 212.8,97.6 213.0,100.5 213.2,103.3 213.4,106.0 213.5,108.5 213.7,111.0 213.9,113.3 214.1,115.4 214.3,117.4 214.4,119.1 214.6,120.7 214.8,122.0 215.0,123.1 215.2,124.0 215.4,124.7 215.5,125.1 215.7,125.3 215.9,125.3 216.1,125.0 216.3,124.5 216.4,123.8 216.6,122.8 216.8,121.6 217.0,120.2 217.2,118.6 217.4,116.8 217.5,114.8 217.7,112.7 217.9,110.4 218.1,108.0 218.3,105.4 218.4,102.8 218.6,100.0 218.8,97.3 219.0,94.4 219.2,91.5 219.4,88.6 219.5,85.8 219.7,82.9 219.9,80.1 220.1,77.4 220.3,74.7 220.4,72.1 220.6,69.7 220.8,67.4 221.0,65.2 221.2,63.2 221.4,61.3 221.5,59.7 221.7,58.2 221.9,57.0 222.1,55.9 222.3,55.1 222.4,54.5 222.6,54.1 222.8,54.0 223.0,54.1 223.2,54.4 223.4,54.9 223.5,55.7 223.7,56.7 223.9,57.8 224.1,59.2 224.3,60.8 224.4,62.6 224.6,64.5 224.8,66.6 225.0,68.8 225.2,71.2 225.4,73.7 225.5,76.2 225.7,78.9 225.9,81.6 226.1,84.3 226.3,87.1 226.4,89.9 226.6,92.7 226.8,95.4 227.0,98.1 227.2,100.7 227.4,103.3 227.5,105.8 227.7,108.1 227.9,110.3 228.1,112.4 228.3,114.3 228.4,116.0 228.6,117.6 228.8,119.0 229.0,120.2 229.2,121.1 229.4,121.9 229.5,122.4 229.7,122.7 229.9,122.8 230.1,122.7 230.3,122.4 230.4,121.8 230.6,121.1 230.8,120.1 231.0,118.9 231.2,117.5 231.4,116.0 231.5,114.2 231.7,112.3 231.9,110.3 232.1,108.1 232.3,105.8 232.4,103.4 232.6,100.9 232.8,98.3 233.0,95.6 233.2,93.0 233.4,90.3 233.5,87.6 233.7,84.9 233.9,82.2 234.1,79.6 234.3,77.0 234.4,74.6 234.6,72.2 234.8,69.9 235.0,67.8 235.2,65.8 235.4,63.9 235.5,62.3 235.7,60.7 235.9,59.4 236.1,58.3 236.3,57.4 236.4,56.6 236.6,56.1 236.8,55.8 237.0,55.7 237.2,55.8 237.4,56.2 237.5,56.7 237.7,57.4 237.9,58.4 238.1,59.5 238.3,60.9 238.4,62.4 238.6,64.0 238.8,65.9 239.0,67.8 239.2,69.9 239.4,72.1 239.5,74.5 239.7,76.9 239.9,79.3 240.1,81.9 240.3,84.4 240.4,87.0 240.6,89.6 240.8,92.2 241.0,94.7 241.2,97.2 241.4,99.7 241.5,102.0 241.7,104.3 241.9,106.4 242.1,108.5 242.3,110.4 242.4,112.1 242.6,113.7 242.8,115.1 243.0,116.4 243.2,117.4 243.4,118.3 243.5,119.0 243.7,119.4 243.9,119.7 244.1,119.8 244.3,119.6 244.4,119.3 244.6,118.7 244.8,118.0 245.0,117.0 245.2,115.9 245.4,114.6 245.5,113.1 245.7,111.5 245.9,109.7 246.1,107.8 246.3,105.7 246.5,103.6 246.6,101.4 246.8,99.0 247.0,96.6 247.2,94.2 247.4,91.7 247.5,89.2 247.7,86.8 247.9,84.3 248.1,81.8 248.3,79.5 248.5,77.1 248.6,74.9 248.8,72.7 249.0,70.7 249.2,68.7 249.4,66.9 249.5,65.3 249.7,63.8 249.9,62.4 250.1,61.3 250.3,60.3 250.5,59.5 250.6,58.9 250.8,58.5 251.0,58.3 251.2,58.3 251.4,58.5 251.5,58.8 251.7,59.4 251.9,60.2 252.1,61.1 252.3,62.3 252.5,63.6 252.6,65.0 252.8,66.6 253.0,68.4 253.2,70.3 253.4,72.3 253.5,74.4 253.7,76.6 253.9,78.8 254.1,81.2 254.3,83.5 254.5,86.0 254.6,88.4 254.8,90.8 255.0,93.2 255.2,95.6 255.4,97.9 255.5,100.2 255.7,102.3 255.9,104.4 256.1,106.4 256.3,108.3 256.5,110.0 256.6,111.6 256.8,113.1 257.0,114.4 257.2,115.5 257.4,116.4 257.5,117.2 257.7,117.8 257.9,118.2 258.1,118.4 258.3,118.4 258.5,118.2 258.6,117.8 258.8,117.3 259.0,116.5 259.2,115.6 259.4,114.5 259.5,113.3 259.7,111.9 259.9,110.3 260.1,108.6 260.3,106.8 260.5,104.9 260.6,102.9 260.8,100.7 261.0,98.6 261.2,96.3 261.4,94.0 261.5,91.7 261.7,89.4 261.9,87.1 262.1,84.8 262.3,82.5 262.5,80.3 262.6,78.1 262.8,76.0 263.0,74.0 263.2,72.1 263.4,70.4 263.5,68.7 263.7,67.2 263.9,65.8 264.1,64.6 264.3,63.5 264.5,62.7 264.6,61.9 264.8,61.4 265.0,61.0 265.2,60.9 265.4,60.9 265.5,61.1 265.7,61.5 265.9,62.0 266.1,62.7 266.3,63.6 266.5,64.7 266.6,65.9 266.8,67.3 267.0,68.8 267.2,70.4 267.4,72.2 267.5,74.1 267.7,76.0 267.9,78.0 268.1,80.1 268.3,82.3 268.5,84.5 268.6,86.7 268.8,88.9 269.0,91.2 269.2,93.4 269.4,95.5 269.5,97.6 269.7,99.7 269.9,101.7 270.1,103.6 270.3,105.4 270.5,107.1 270.6,108.6 270.8,110.0 271.0,111.3 271.2,112.5 271.4,113.4 271.5,114.3 271.7,114.9 271.9,115.4 272.1,115.7 272.3,115.8 272.5,115.7 272.6,115.5 272.8,115.1 273.0,114.5 273.2,113.8 273.4,112.9 273.5,111.8 273.7,110.6 273.9,109.2 274.1,107.7 274.3,106.1 274.5,104.4 274.6,102.5 274.8,100.6 275.0,98.6 275.2,96.6 275.4,94.5 275.5,92.3 275.7,90.2 275.9,88.0 276.1,85.8 276.3,83.7 276.5,81.6 276.6,79.5 276.8,77.5 277.0,75.6 277.2,73.8 277.4,72.0 277.5,70.4 277.7,68.9 277.9,67.5 278.1,66.3 278.3,65.2 278.5,64.2 278.6,63.5 278.8,62.8 279.0,62.4 279.2,62.1 279.4,62.0 279.5,62.1 279.7,62.3 279.9,62.7 280.1,63.3 280.3,64.0 280.5,64.9 280.6,65.9 280.8,67.1 281.0,68.4 281.2,69.8 281.4,71.4 281.5,73.1 281.7,74.8 281.9,76.7 282.1,78.6 282.3,80.6 282.5,82.6 282.6,84.7 282.8,86.8 283.0,88.8 283.2,90.9 283.4,93.0 283.6,95.0 283.7,97.0 283.9,98.9 284.1,100.7 284.3,102.5 284.5,104.2 284.6,105.7 284.8,107.2 285.0,108.5 285.2,109.7 285.4,110.7 285.6,111.6 285.7,112.4 285.9,112.9 286.1,113.4 286.3,113.6 286.5,113.7 286.6,113.7 286.8,113.4 287.0,113.0 287.2,112.5 287.4,111.8 287.6,110.9 287.7,109.9 287.9,108.8 288.1,107.5 288.3,106.1 288.5,104.6 288.6,103.0 288.8,101.3 289.0,99.5 289.2,97.7 289.4,95.8 289.6,93.8 289.7,91.9 289.9,89.9 290.1,87.9 290.3,85.9 290.5,84.0 290.6,82.0 290.8,80.1 291.0,78.3 291.2,76.6 291.4,74.9 291.6,73.3 291.7,71.9 291.9,70.5 292.1,69.3 292.3,68.2 292.5,67.2 292.6,66.4 292.8,65.7 293.0,65.2 293.2,64.9 293.4,64.6 293.6,64.6 293.7,64.7 293.9,65.0 294.1,65.4 294.3,66.0 294.5,66.7 294.6,67.6 294.8,68.6 295.0,69.7 295.2,71.0 295.4,72.4 295.6,73.8 295.7,75.4 295.9,77.1 296.1,78.8 296.3,80.6 296.5,82.5 296.6,84.4 296.8,86.3 297.0,88.2 297.2,90.2 297.4,92.1 297.6,94.0 297.7,95.9 297.9,97.7 298.1,99.5 298.3,101.2 298.5,102.8 298.6,104.3 298.8,105.7 299.0,107.0 299.2,108.2 299.4,109.2 299.6,110.2 299.7,111.0 299.9,111.6 300.1,112.1 300.3,112.4 300.5,112.6 300.6,112.7 300.8,112.5 301.0,112.3 301.2,111.9 301.4,111.3 301.6,110.6 301.7,109.7 301.9,108.7 302.1,107.6 302.3,106.4 302.5,105.1 302.6,103.6 302.8,102.1 303.0,100.5 303.2,98.8 303.4,97.0 303.6,95.2 303.7,93.4 303.9,91.6 304.1,89.7 304.3,87.8 304.5,85.9 304.6,84.1 304.8,82.3 305.0,80.6 305.2,78.9 305.4,77.2 305.6,75.7 305.7,74.2 305.9,72.8 306.1,71.6 306.3,70.5 306.5,69.4 306.6,68.5 306.8,67.8 307.0,67.2 307.2,66.7 307.4,66.4 307.6,66.2 307.7,66.2 307.9,66.3 308.1,66.5 308.3,66.9 308.5,67.5 308.6,68.2 308.8,69.0 309.0,69.9 309.2,71.0 309.4,72.2 309.6,73.5 309.7,74.8 309.9,76.3 310.1,77.8 310.3,79.5 310.5,81.1 310.6,82.8 310.8,84.6 311.0,86.4 311.2,88.1 311.4,89.9 311.6,91.7 311.7,93.4 311.9,95.1 312.1,96.8 312.3,98.4 312.5,100.0 312.6,101.4 312.8,102.8 313.0,104.1 313.2,105.2 313.4,106.3 313.6,107.2 313.7,108.1 313.9,108.7 314.1,109.3 314.3,109.7 314.5,110.0 314.6,110.1 314.8,110.1 315.0,110.0 315.2,109.7 315.4,109.3 315.6,108.7 315.7,108.0 315.9,107.2 316.1,106.2 316.3,105.2 316.5,104.0 316.6,102.7 316.8,101.4 317.0,99.9 317.2,98.4 317.4,96.8 317.6,95.2 317.7,93.5 317.9,91.8 318.1,90.1 318.3,88.4 318.5,86.6 318.6,84.9 318.8,83.2 319.0,81.6 319.2,80.0 319.4,78.4 319.6,76.9 319.7,75.5 319.9,74.2 320.1,73.0 320.3,71.9 320.5,70.8 320.6,70.0 320.8,69.2 321.0,68.5 321.2,68.0 321.4,67.6 321.6,67.4 321.7,67.2 321.9,67.3 322.1,67.4 322.3,67.7 322.5,68.2 322.7,68.7 322.8,69.4 323.0,70.2 323.2,71.2 323.4,72.2 323.6,73.3 323.7,74.6 323.9,75.9 324.1,77.3 324.3,78.8 324.5,80.3 324.7,81.9 324.8,83.5 325.0,85.2 325.2,86.9 325.4,88.6 325.6,90.2" fill="none" stroke="#f90808" stroke-width="2.5" stroke-linejoin="round" stroke-linecap="round"/>
<polyline points="53.0,3.7 53.1,4.5 53.3,5.8 53.5,7.7 53.7,10.1 53.9,13.0 54.0,16.3 54.2,20.0 54.4,24.2 54.6,28.7 54.8,33.6 55.0,38.7 55.1,44.2 55.3,49.9 55.5,55.7 55.7,61.7 55.9,67.9 56.0,74.1 56.2,80.3 56.4,86.5 56.6,92.7 56.8,98.8 57.0,104.8 57.1,110.6 57.3,116.2 57.5,121.6 57.7,126.7 57.9,131.5 58.0,136.0 58.2,140.1 58.4,143.9 58.6,147.3 58.8,150.2 59.0,152.8 59.1,154.9 59.3,156.5 59.5,157.7 59.7,158.4 59.9,158.7 60.0,158.6 60.2,157.9 60.4,156.9 60.6,155.4 60.8,153.5 61.0,151.2 61.1,148.5 61.3,145.4 61.5,142.0 61.7,138.3 61.9,134.3 62.0,130.1 62.2,125.6 62.4,120.9 62.6,116.1 62.8,111.2 63.0,106.1 63.1,101.0 63.3,95.8 63.5,90.7 63.7,85.5 63.9,80.5 64.0,75.5 64.2,70.7 64.4,66.1 64.6,61.6 64.8,57.3 65.0,53.3 65.1,49.6 65.3,46.1 65.5,43.0 65.7,40.2 65.9,37.7 66.0,35.6 66.2,33.8 66.4,32.4 66.6,31.4 66.8,30.7 67.0,30.5 67.1,30.6 67.3,31.1 67.5,31.9 67.7,33.1 67.9,34.7 68.0,36.6 68.2,38.8 68.4,41.3 68.6,44.1 68.8,47.2 69.0,50.5 69.1,54.0 69.3,57.7 69.5,61.6 69.7,65.6 69.9,69.7 70.0,73.9 70.2,78.2 70.4,82.5 70.6,86.8 70.8,91.1 71.0,95.3 71.1,99.4 71.3,103.5 71.5,107.4 71.7,111.1 71.9,114.7 72.0,118.1 72.2,121.2 72.4,124.2 72.6,126.8 72.8,129.2 73.0,131.3 73.1,133.2 73.3,134.7 73.5,135.9 73.7,136.8 73.9,137.4 74.0,137.7 74.2,137.6 74.4,137.3 74.6,136.6 74.8,135.7 75.0,134.4 75.1,132.9 75.3,131.1 75.5,129.1 75.7,126.8 75.9,124.3 76.0,121.6 76.2,118.7 76.4,115.6 76.6,112.4 76.8,109.1 77.0,105.7 77.1,102.2 77.3,98.7 77.5,95.1 77.7,91.6 77.9,88.0 78.0,84.5 78.2,81.1 78.4,77.7 78.6,74.4 78.8,71.3 79.0,68.3 79.1,65.5 79.3,62.8 79.5,60.4 79.7,58.1 79.9,56.1 80.0,54.3 80.2,52.7 80.4,51.4 80.6,50.4 80.8,49.6 81.0,49.0 81.1,48.7 81.3,48.7 81.5,49.0 81.7,49.5 81.9,50.2 82.0,51.2 82.2,52.4 82.4,53.8 82.6,55.5 82.8,57.3 83.0,59.4 83.1,61.6 83.3,63.9 83.5,66.4 83.7,69.1 83.9,71.8 84.0,74.6 84.2,77.4 84.4,80.3 84.6,83.3 84.8,86.2 85.0,89.1 85.1,92.0 85.3,94.9 85.5,97.7 85.7,100.4 85.9,103.0 86.0,105.4 86.2,107.8 86.4,110.0 86.6,112.0 86.8,113.9 87.0,115.6 87.1,117.1 87.3,118.4 87.5,119.5 87.7,120.3 87.9,121.0 88.0,121.5 88.2,121.7 88.4,121.7 88.6,121.5 88.8,121.1 89.0,120.5 89.1,119.7 89.3,118.7 89.5,117.5 89.7,116.1 89.9,114.6 90.0,112.9 90.2,111.1 90.4,109.1 90.6,107.0 90.8,104.9 91.0,102.6 91.1,100.3 91.3,97.9 91.5,95.4 91.7,93.0 91.9,90.5 92.1,88.1 92.2,85.7 92.4,83.3 92.6,80.9 92.8,78.7 93.0,76.5 93.1,74.4 93.3,72.5 93.5,70.6 93.7,68.9 93.9,67.3 94.1,65.9 94.2,64.6 94.4,63.5 94.6,62.5 94.8,61.8 95.0,61.2 95.1,60.8 95.3,60.6 95.5,60.5 95.7,60.6 95.9,61.0 96.1,61.4 96.2,62.1 96.4,62.9 96.6,63.9 96.8,65.0 97.0,66.2 97.1,67.6 97.3,69.1 97.5,70.7 97.7,72.5 97.9,74.3 98.1,76.1 98.2,78.1 98.4,80.1 98.6,82.1 98.8,84.1 99.0,86.2 99.1,88.2 99.3,90.2 99.5,92.2 99.7,94.2 99.9,96.1 100.1,97.9 100.2,99.6 100.4,101.3 100.6,102.9 100.8,104.3 101.0,105.7 101.1,106.9 101.3,108.0 101.5,109.0 101.7,109.8 101.9,110.4 102.1,111.0 102.2,111.3 102.4,111.6 102.6,111.7 102.8,111.6 103.0,111.4 103.1,111.0 103.3,110.5 103.5,109.9 103.7,109.1 103.9,108.2 104.1,107.2 104.2,106.1 104.4,104.9 104.6,103.6 104.8,102.2 105.0,100.7 105.1,99.2 105.3,97.6 105.5,96.0 105.7,94.4 105.9,92.7 106.1,91.0 106.2,89.4 106.4,87.7 106.6,86.1 106.8,84.5 107.0,82.9 107.1,81.4 107.3,80.0 107.5,78.6 107.7,77.3 107.9,76.1 108.1,75.0 108.2,74.0 108.4,73.1 108.6,72.3 108.8,71.6 109.0,71.1 109.1,70.7 109.3,70.3 109.5,70.2 109.7,70.1 109.9,70.2 110.1,70.3 110.2,70.6 110.4,71.1 110.6,71.6 110.8,72.2 111.0,73.0 111.1,73.8 111.3,74.7 111.5,75.7 111.7,76.8 111.9,78.0 112.1,79.2 112.2,80.5 112.4,81.8 112.6,83.1 112.8,84.5 113.0,85.9 113.1,87.3 113.3,88.7 113.5,90.1 113.7,91.5 113.9,92.8 114.1,94.1 114.2,95.4 114.4,96.6 114.6,97.7 114.8,98.8 115.0,99.8 115.1,100.7 115.3,101.6 115.5,102.3 115.7,103.0 115.9,103.6 116.1,104.1 116.2,104.4 116.4,104.7 116.6,104.9 116.8,104.9 117.0,104.9 117.1,104.7 117.3,104.5 117.5,104.2 117.7,103.7 117.9,103.2 118.1,102.6 118.2,101.9 118.4,101.1 118.6,100.3 118.8,99.4 119.0,98.4 119.1,97.4 119.3,96.3 119.5,95.2 119.7,94.1 119.9,92.9 120.1,91.8 120.2,90.6 120.4,89.4 120.6,88.3 120.8,87.1 121.0,86.0 121.1,84.9 121.3,83.8 121.5,82.8 121.7,81.8 121.9,80.9 122.1,80.0 122.2,79.2 122.4,78.5 122.6,77.8 122.8,77.2 123.0,76.7 123.1,76.3 123.3,75.9 123.5,75.7 123.7,75.5 123.9,75.4 124.1,75.4 124.2,75.5 124.4,75.7 124.6,75.9 124.8,76.2 125.0,76.6 125.1,77.1 125.3,77.6 125.5,78.3 125.7,78.9 125.9,79.6 126.1,80.4 126.2,81.2 126.4,82.1 126.6,83.0 126.8,83.9 127.0,84.8 127.1,85.8 127.3,86.7 127.5,87.7 127.7,88.6 127.9,89.6 128.1,90.5 128.2,91.4 128.4,92.2 128.6,93.1 128.8,93.9 129.0,94.6 129.1,95.3 129.3,96.0 129.5,96.6 129.7,97.1 129.9,97.6 130.1,98.0 130.2,98.4 130.4,98.7 130.6,98.9 130.8,99.0 131.0,99.1 131.2,99.1 131.3,99.0 131.5,98.9 131.7,98.6 131.9,98.4 132.1,98.0 132.2,97.6 132.4,97.2 132.6,96.7 132.8,96.1 133.0,95.5 133.2,94.9 133.3,94.2 133.5,93.5 133.7,92.8 133.9,92.0 134.1,91.2 134.2,90.5 134.4,89.7 134.6,88.9 134.8,88.1 135.0,87.3 135.2,86.5 135.3,85.8 135.5,85.1 135.7,84.4 135.9,83.7 136.1,83.1 136.2,82.5 136.4,81.9 136.6,81.5 136.8,81.0 137.0,80.6 137.2,80.3 137.3,80.0 137.5,79.8 137.7,79.6 137.9,79.5 138.1,79.4 138.2,79.4 138.4,79.5 138.6,79.6 138.8,79.8 139.0,80.0 139.2,80.3 139.3,80.7 139.5,81.0 139.7,81.5 139.9,81.9 140.1,82.5 140.2,83.0 140.4,83.6 140.6,84.2 140.8,84.8 141.0,85.5 141.2,86.1 141.3,86.8 141.5,87.5 141.7,88.1 141.9,88.8 142.1,89.5 142.2,90.2 142.4,90.8 142.6,91.4 142.8,92.0 143.0,92.6 143.2,93.2 143.3,93.7 143.5,94.2 143.7,94.6 143.9,95.0 144.1,95.4 144.2,95.7 144.4,95.9 144.6,96.2 144.8,96.3 145.0,96.4 145.2,96.5 145.3,96.5 145.5,96.5 145.7,96.4 145.9,96.3 146.1,96.2 146.2,96.0 146.4,95.7 146.6,95.4 146.8,95.1 147.0,94.7 147.2,94.3 147.3,93.9 147.5,93.4 147.7,93.0 147.9,92.5 148.1,91.9 148.2,91.4 148.4,90.9 148.6,90.3 148.8,89.8 149.0,89.2 149.2,88.7 149.3,88.2 149.5,87.6 149.7,87.1 149.9,86.7 150.1,86.2 150.2,85.7 150.4,85.3 150.6,84.9 150.8,84.6 151.0,84.2 151.2,83.9 151.3,83.7 151.5,83.5 151.7,83.3 151.9,83.2 152.1,83.1 152.2,83.0 152.4,83.0 152.6,83.0 152.8,83.1 153.0,83.1 153.2,83.3 153.3,83.5 153.5,83.7 153.7,83.9 153.9,84.2 154.1,84.5 154.2,84.8 154.4,85.1 154.6,85.5 154.8,85.9 155.0,86.3 155.2,86.7 155.3,87.2 155.5,87.6 155.7,88.0 155.9,88.5 156.1,88.9 156.2,89.4 156.4,89.8 156.6,90.2 156.8,90.6 157.0,91.0 157.2,91.4 157.3,91.8 157.5,92.1 157.7,92.4 157.9,92.7 158.1,93.0 158.2,93.2 158.4,93.4 158.6,93.6 158.8,93.7 159.0,93.8 159.2,93.9 159.3,93.9 159.5,93.9 159.7,93.9 159.9,93.8 160.1,93.7 160.2,93.6 160.4,93.4 160.6,93.2 160.8,93.0 161.0,92.8 161.2,92.5 161.3,92.2 161.5,91.9 161.7,91.6 161.9,91.2 162.1,90.9 162.2,90.5 162.4,90.1 162.6,89.7 162.8,89.4 163.0,89.0 163.2,88.6 163.3,88.2 163.5,87.8 163.7,87.4 163.9,87.1 164.1,86.7 164.2,86.4 164.4,86.0 164.6,85.7 164.8,85.4 165.0,85.2 165.2,84.9 165.3,84.7 165.5,84.5 165.7,84.4 165.9,84.2 166.1,84.1 166.2,84.0 166.4,84.0 166.6,84.0 166.8,84.0 167.0,84.0 167.2,84.0 167.3,84.1 167.5,84.2 167.7,84.4 167.9,84.5 168.1,84.7 168.3,84.9 168.4,85.1 168.6,85.4 168.8,85.6 169.0,85.9 169.2,86.2 169.3,86.5 169.5,86.8 169.7,87.1 169.9,87.4 170.1,87.7 170.3,88.0 170.4,88.3 170.6,88.7 170.8,89.0 171.0,89.3 171.2,89.5 171.3,89.8 171.5,90.1 171.7,90.3 171.9,90.6 172.1,90.8 172.3,91.0 172.4,91.2 172.6,91.3 172.8,91.5 173.0,91.6 173.2,91.7 173.3,91.8 173.5,91.8 173.7,91.8 173.9,91.9 174.1,91.8 174.3,91.8 174.4,91.7 174.6,91.7 174.8,91.6 175.0,91.4 175.2,91.3 175.3,91.1 175.5,91.0 175.7,90.8 175.9,90.6 176.1,90.4 176.3,90.2 176.4,89.9 176.6,89.7 176.8,89.4 177.0,89.2 177.2,89.0 177.3,88.7 177.5,88.5 177.7,88.2 177.9,88.0 178.1,87.8 178.3,87.5 178.4,87.3 178.6,87.1 178.8,86.9 179.0,86.8 179.2,86.6 179.3,86.4 179.5,86.3 179.7,86.2 179.9,86.1 180.1,86.0 180.3,86.0 180.4,85.9 180.6,85.9 180.8,85.9 181.0,85.9 181.2,85.9 181.3,86.0 181.5,86.1 181.7,86.2 181.9,86.3 182.1,86.4 182.3,86.5 182.4,86.7 182.6,86.8 182.8,87.0 183.0,87.2 183.2,87.4 183.3,87.6 183.5,87.8 183.7,88.0 183.9,88.3 184.1,88.5 184.3,88.7 184.4,88.9 184.6,89.2 184.8,89.4 185.0,89.6 185.2,89.8 185.3,90.0 185.5,90.2 185.7,90.4 185.9,90.6 186.1,90.8 186.3,90.9 186.4,91.1 186.6,91.2 186.8,91.3 187.0,91.4 187.2,91.5 187.3,91.6 187.5,91.6 187.7,91.6 187.9,91.7 188.1,91.7 188.3,91.7 188.4,91.6 188.6,91.6 188.8,91.5 189.0,91.4 189.2,91.4 189.3,91.3 189.5,91.1 189.7,91.0 189.9,90.9 190.1,90.7 190.3,90.6 190.4,90.4 190.6,90.2 190.8,90.1 191.0,89.9 191.2,89.7 191.3,89.5 191.5,89.3 191.7,89.1 191.9,89.0 192.1,88.8 192.3,88.6 192.4,88.4 192.6,88.2 192.8,88.1 193.0,87.9 193.2,87.8 193.3,87.6 193.5,87.5 193.7,87.4 193.9,87.3 194.1,87.2 194.3,87.1 194.4,87.1 194.6,87.0 194.8,87.0 195.0,86.9 195.2,86.9 195.3,86.9 195.5,86.9 195.7,86.9 195.9,87.0 196.1,87.0 196.3,87.1 196.4,87.1 196.6,87.2 196.8,87.3 197.0,87.4 197.2,87.5 197.3,87.6 197.5,87.7 197.7,87.8 197.9,88.0 198.1,88.1 198.3,88.2 198.4,88.4 198.6,88.5 198.8,88.6 199.0,88.8 199.2,88.9 199.3,89.0 199.5,89.1 199.7,89.3 199.9,89.4 200.1,89.5 200.3,89.6 200.4,89.7 200.6,89.8 200.8,89.8 201.0,89.9 201.2,89.9 201.3,90.0 201.5,90.0 201.7,90.0 201.9,90.1 202.1,90.1 202.3,90.1 202.4,90.0 202.6,90.0 202.8,90.0 203.0,89.9 203.2,89.9 203.3,89.8 203.5,89.7 203.7,89.6 203.9,89.5 204.1,89.4 204.3,89.3 204.4,89.2 204.6,89.1 204.8,89.0 205.0,88.9 205.2,88.7 205.3,88.6 205.5,88.5 205.7,88.3 205.9,88.2 206.1,88.1 206.3,88.0 206.4,87.8 206.6,87.7 206.8,87.6 207.0,87.5 207.2,87.4 207.4,87.3 207.5,87.2 207.7,87.1 207.9,87.1 208.1,87.0 208.3,86.9 208.4,86.9 208.6,86.9 208.8,86.8 209.0,86.8 209.2,86.8 209.4,86.8 209.5,86.8 209.7,86.8 209.9,86.9 210.1,86.9 210.3,86.9 210.4,87.0 210.6,87.0 210.8,87.1 211.0,87.2 211.2,87.3 211.4,87.4 211.5,87.5 211.7,87.6 211.9,87.7 212.1,87.8 212.3,87.9 212.4,88.0 212.6,88.1 212.8,88.2 213.0,88.3 213.2,88.5 213.4,88.6 213.5,88.7 213.7,88.8 213.9,88.9 214.1,89.0 214.3,89.1 214.4,89.2 214.6,89.3 214.8,89.4 215.0,89.4 215.2,89.5 215.4,89.6 215.5,89.6 215.7,89.7 215.9,89.7 216.1,89.8 216.3,89.8 216.4,89.8 216.6,89.8 216.8,89.8 217.0,89.8 217.2,89.8 217.4,89.8 217.5,89.8 217.7,89.7 217.9,89.7 218.1,89.7 218.3,89.6 218.4,89.6 218.6,89.5 218.8,89.5 219.0,89.4 219.2,89.3 219.4,89.3 219.5,89.2 219.7,89.1 219.9,89.1 220.1,89.0 220.3,88.9 220.4,88.8 220.6,88.8 220.8,88.7 221.0,88.6 221.2,88.6 221.4,88.5 221.5,88.5 221.7,88.4 221.9,88.4 222.1,88.3 222.3,88.3 222.4,88.3 222.6,88.2 222.8,88.2 223.0,88.2 223.2,88.2 223.4,88.2 223.5,88.2 223.7,88.2 223.9,88.2 224.1,88.2 224.3,88.3 224.4,88.3 224.6,88.3 224.8,88.4 225.0,88.4 225.2,88.5 225.4,88.5 225.5,88.6 225.7,88.6 225.9,88.7 226.1,88.8 226.3,88.8 226.4,88.9 226.6,89.0 226.8,89.0 227.0,89.1 227.2,89.2 227.4,89.3 227.5,89.3 227.7,89.4 227.9,89.4 228.1,89.5 228.3,89.6 228.4,89.6 228.6,89.7 228.8,89.7 229.0,89.8 229.2,89.8 229.4,89.8 229.5,89.9 229.7,89.9 229.9,89.9 230.1,89.9 230.3,89.9 230.4,89.9 230.6,89.9 230.8,89.9 231.0,89.9 231.2,89.9 231.4,89.8 231.5,89.8 231.7,89.8 231.9,89.7 232.1,89.7 232.3,89.6 232.4,89.6 232.6,89.5 232.8,89.5 233.0,89.4 233.2,89.3 233.4,89.3 233.5,89.2 233.7,89.1 233.9,89.1 234.1,89.0 234.3,88.9 234.4,88.8 234.6,88.8 234.8,88.7 235.0,88.6 235.2,88.5 235.4,88.5 235.5,88.4 235.7,88.4 235.9,88.3 236.1,88.2 236.3,88.2 236.4,88.1 236.6,88.1 236.8,88.0 237.0,88.0 237.2,88.0 237.4,87.9 237.5,87.9 237.7,87.9 237.9,87.9 238.1,87.9 238.3,87.9 238.4,87.9 238.6,87.9 238.8,87.9 239.0,87.9 239.2,87.9 239.4,87.9 239.5,87.9 239.7,88.0 239.9,88.0 240.1,88.0 240.3,88.0 240.4,88.1 240.6,88.1 240.8,88.1 241.0,88.2 241.2,88.2 241.4,88.3 241.5,88.3 241.7,88.3 241.9,88.4 242.1,88.4 242.3,88.4 242.4,88.5 242.6,88.5 242.8,88.5 243.0,88.6 243.2,88.6 243.4,88.6 243.5,88.7 243.7,88.7 243.9,88.7 244.1,88.7 244.3,88.7 244.4,88.7 244.6,88.7 244.8,88.7 245.0,88.7 245.2,88.7 245.4,88.7 245.5,88.7 245.7,88.7 245.9,88.7 246.1,88.7 246.3,88.6 246.5,88.6 246.6,88.6 246.8,88.6 247.0,88.5 247.2,88.5 247.4,88.5 247.5,88.4 247.7,88.4 247.9,88.4 248.1,88.3 248.3,88.3 248.5,88.3 248.6,88.2 248.8,88.2 249.0,88.2 249.2,88.1 249.4,88.1 249.5,88.1 249.7,88.1 249.9,88.0 250.1,88.0 250.3,88.0 250.5,88.0 250.6,88.0 250.8,88.0 251.0,88.0 251.2,88.0 251.4,88.0 251.5,88.0 251.7,88.0 251.9,88.0 252.1,88.0 252.3,88.0 252.5,88.0 252.6,88.0 252.8,88.1 253.0,88.1 253.2,88.1 253.4,88.2 253.5,88.2 253.7,88.2 253.9,88.3 254.1,88.3 254.3,88.4 254.5,88.4 254.6,88.4 254.8,88.5 255.0,88.5 255.2,88.6 255.4,88.6 255.5,88.7 255.7,88.7 255.9,88.8 256.1,88.8 256.3,88.9 256.5,88.9 256.6,89.0 256.8,89.0 257.0,89.1 257.2,89.1 257.4,89.1 257.5,89.2 257.7,89.2 257.9,89.2 258.1,89.3 258.3,89.3 258.5,89.3 258.6,89.3 258.8,89.4 259.0,89.4 259.2,89.4 259.4,89.4 259.5,89.4 259.7,89.4 259.9,89.4 260.1,89.4 260.3,89.4 260.5,89.4 260.6,89.4 260.8,89.4 261.0,89.4 261.2,89.4 261.4,89.4 261.5,89.4 261.7,89.3 261.9,89.3 262.1,89.3 262.3,89.3 262.5,89.3 262.6,89.2 262.8,89.2 263.0,89.2 263.2,89.2 263.4,89.1 263.5,89.1 263.7,89.1 263.9,89.1 264.1,89.1 264.3,89.0 264.5,89.0 264.6,89.0 264.8,89.0 265.0,89.0 265.2,88.9 265.4,88.9 265.5,88.9 265.7,88.9 265.9,88.9 266.1,88.9 266.3,88.9 266.5,88.9 266.6,88.9 266.8,88.9 267.0,88.9 267.2,88.9 267.4,88.9 267.5,88.9 267.7,88.9 267.9,88.9 268.1,88.9 268.3,88.9 268.5,88.9 268.6,89.0 268.8,89.0 269.0,89.0 269.2,89.0 269.4,89.0 269.5,89.0 269.7,89.0 269.9,89.0 270.1,89.0 270.3,89.1 270.5,89.1 270.6,89.1 270.8,89.1 271.0,89.1 271.2,89.1 271.4,89.1 271.5,89.1 271.7,89.1 271.9,89.1 272.1,89.1 272.3,89.1 272.5,89.1 272.6,89.1 272.8,89.1 273.0,89.1 273.2,89.1 273.4,89.0 273.5,89.0 273.7,89.0 273.9,89.0 274.1,89.0 274.3,88.9 274.5,88.9 274.6,88.9 274.8,88.9 275.0,88.8 275.2,88.8 275.4,88.8 275.5,88.7 275.7,88.7 275.9,88.7 276.1,88.6 276.3,88.6 276.5,88.6 276.6,88.5 276.8,88.5 277.0,88.5 277.2,88.4 277.4,88.4 277.5,88.4 277.7,88.4 277.9,88.3 278.1,88.3 278.3,88.3 278.5,88.2 278.6,88.2 278.8,88.2 279.0,88.2 279.2,88.1 279.4,88.1 279.5,88.1 279.7,88.1 279.9,88.1 280.1,88.1 280.3,88.0 280.5,88.0 280.6,88.0 280.8,88.0 281.0,88.0 281.2,88.0 281.4,88.0 281.5,88.0 281.7,88.0 281.9,88.0 282.1,88.0 282.3,88.0 282.5,88.0 282.6,88.1 282.8,88.1 283.0,88.1 283.2,88.1 283.4,88.1 283.6,88.1 283.7,88.1 283.9,88.1 284.1,88.2 284.3,88.2 284.5,88.2 284.6,88.2 284.8,88.2 285.0,88.3 285.2,88.3 285.4,88.3 285.6,88.3 285.7,88.3 285.9,88.3 286.1,88.4 286.3,88.4 286.5,88.4 286.6,88.4 286.8,88.4 287.0,88.4 287.2,88.4 287.4,88.4 287.6,88.5 287.7,88.5 287.9,88.5 288.1,88.5 288.3,88.5 288.5,88.5 288.6,88.5 288.8,88.5 289.0,88.5 289.2,88.5 289.4,88.5 289.6,88.5 289.7,88.5 289.9,88.5 290.1,88.5 290.3,88.5 290.5,88.5 290.6,88.5 290.8,88.5 291.0,88.5 291.2,88.5 291.4,88.5 291.6,88.5 291.7,88.5 291.9,88.5 292.1,88.5 292.3,88.6 292.5,88.6 292.6,88.6 292.8,88.6 293.0,88.6 293.2,88.6 293.4,88.6 293.6,88.6 293.7,88.6 293.9,88.6 294.1,88.6 294.3,88.6 294.5,88.7 294.6,88.7 294.8,88.7 295.0,88.7 295.2,88.7 295.4,88.7 295.6,88.8 295.7,88.8 295.9,88.8 296.1,88.8 296.3,88.8 296.5,88.9 296.6,88.9 296.8,88.9 297.0,88.9 297.2,88.9 297.4,89.0 297.6,89.0 297.7,89.0 297.9,89.0 298.1,89.1 298.3,89.1 298.5,89.1 298.6,89.1 298.8,89.1 299.0,89.2 299.2,89.2 299.4,89.2 299.6,89.2 299.7,89.2 299.9,89.2 300.1,89.3 300.3,89.3 300.5,89.3 300.6,89.3 300.8,89.3 301.0,89.3 301.2,89.3 301.4,89.3 301.6,89.3 301.7,89.3 301.9,89.3 302.1,89.3 302.3,89.3 302.5,89.3 302.6,89.3 302.8,89.3 303.0,89.3 303.2,89.3 303.4,89.3 303.6,89.3 303.7,89.3 303.9,89.3 304.1,89.3 304.3,89.3 304.5,89.3 304.6,89.2 304.8,89.2 305.0,89.2 305.2,89.2 305.4,89.2 305.6,89.2 305.7,89.2 305.9,89.1 306.1,89.1 306.3,89.1 306.5,89.1 306.6,89.1 306.8,89.1 307.0,89.0 307.2,89.0 307.4,89.0 307.6,89.0 307.7,89.0 307.9,89.0 308.1,88.9 308.3,88.9 308.5,88.9 308.6,88.9 308.8,88.9 309.0,88.9 309.2,88.9 309.4,88.8 309.6,88.8 309.7,88.8 309.9,88.8 310.1,88.8 310.3,88.8 310.5,88.8 310.6,88.8 310.8,88.8 311.0,88.7 311.2,88.7 311.4,88.7 311.6,88.7 311.7,88.7 311.9,88.7 312.1,88.7 312.3,88.7 312.5,88.7 312.6,88.7 312.8,88.7 313.0,88.7 313.2,88.6 313.4,88.6 313.6,88.6 313.7,88.6 313.9,88.6 314.1,88.6 314.3,88.6 314.5,88.6 314.6,88.6 314.8,88.6 315.0,88.5 315.2,88.5 315.4,88.5 315.6,88.5 315.7,88.5 315.9,88.5 316.1,88.5 316.3,88.5 316.5,88.5 316.6,88.4 316.8,88.4 317.0,88.4 317.2,88.4 317.4,88.4 317.6,88.4 317.7,88.4 317.9,88.3 318.1,88.3 318.3,88.3 318.5,88.3 318.6,88.3 318.8,88.3 319.0,88.3 319.2,88.2 319.4,88.2 319.6,88.2 319.7,88.2 319.9,88.2 320.1,88.2 320.3,88.2 320.5,88.2 320.6,88.2 320.8,88.1 321.0,88.1 321.2,88.1 321.4,88.1 321.6,88.1 321.7,88.1 321.9,88.1 322.1,88.1 322.3,88.1 322.5,88.1 322.7,88.1 322.8,88.1 323.0,88.1 323.2,88.1 323.4,88.1 323.6,88.1 323.7,88.1 323.9,88.1 324.1,88.1 324.3,88.2 324.5,88.2 324.7,88.2 324.8,88.2 325.0,88.2 325.2,88.2 325.4,88.2 325.6,88.2" fill="none" stroke="#1410ec" stroke-width="2.5" stroke-linejoin="round" stroke-linecap="round"/>
</g>
<g clip-path="url(#clipb)">
<polyline points="405.8,3.7 406.0,3.8 406.2,3.9 406.4,4.0 406.6,4.2 406.8,4.4 407.0,4.7 407.2,4.9 407.4,5.2 407.6,5.6 407.8,5.9 407.9,6.3 408.1,6.7 408.3,7.2 408.5,7.7 408.7,8.2 408.9,8.7 409.1,9.3 409.3,9.9 409.5,10.5 409.7,11.2 409.9,11.9 410.1,12.6 410.3,13.3 410.5,14.1 410.7,14.9 410.9,15.7 411.1,16.5 411.3,17.4 411.5,18.2 411.7,19.1 411.8,20.1 412.0,21.0 412.2,22.0 412.4,23.0 412.6,24.0 412.8,25.1 413.0,26.1 413.2,27.2 413.4,28.3 413.6,29.4 413.8,30.6 414.0,31.7 414.2,32.9 414.4,34.1 414.6,35.3 414.8,36.6 415.0,37.8 415.2,39.1 415.4,40.4 415.6,41.7 415.7,43.0 415.9,44.4 416.1,45.7 416.3,47.1 416.5,48.5 416.7,49.9 416.9,51.3 417.1,52.7 417.3,54.2 417.5,55.7 417.7,57.1 417.9,58.6 418.1,60.1 418.3,61.6 418.5,63.1 418.7,64.6 418.9,66.2 419.1,67.7 419.3,69.3 419.5,70.9 419.6,72.4 419.8,74.0 420.0,75.6 420.2,77.2 420.4,78.8 420.6,80.4 420.8,82.0 421.0,83.6 421.2,85.3 421.4,86.9 421.6,88.5 421.8,90.2 422.0,91.8 422.2,93.4 422.4,95.1 422.6,96.7 422.8,98.3 423.0,100.0 423.2,101.6 423.4,103.3 423.5,104.9 423.7,106.5 423.9,108.2 424.1,109.8 424.3,111.4 424.5,113.0 424.7,114.6 424.9,116.2 425.1,117.8 425.3,119.4 425.5,121.0 425.7,122.6 425.9,124.1 426.1,125.7 426.3,127.2 426.5,128.8 426.7,130.3 426.9,131.8 427.1,133.3 427.3,134.7 427.4,136.2 427.6,137.7 427.8,139.1 428.0,140.5 428.2,141.9 428.4,143.3 428.6,144.6 428.8,146.0 429.0,147.3 429.2,148.6 429.4,149.9 429.6,151.1 429.8,152.4 430.0,153.6 430.2,154.8 430.4,155.9 430.6,157.1 430.8,158.2 431.0,159.3 431.2,160.3 431.3,161.3 431.5,162.4 431.7,163.3 431.9,164.3 432.1,165.2 432.3,166.1 432.5,166.9 432.7,167.8 432.9,168.5 433.1,169.3 433.3,170.0 433.5,170.7 433.7,171.4 433.9,172.0 434.1,172.6 434.3,173.2 434.5,173.7 434.7,174.2 434.9,174.6 435.1,175.0 435.2,175.4 435.4,175.8 435.6,176.1 435.8,176.3 436.0,176.6 436.2,176.7 436.4,176.9 436.6,177.0 436.8,177.1 437.0,177.1 437.2,177.1 437.4,177.1 437.6,177.0 437.8,176.9 438.0,176.7 438.2,176.5 438.4,176.3 438.6,176.0 438.8,175.7 439.0,175.3 439.2,175.0 439.3,174.5 439.5,174.1 439.7,173.5 439.9,173.0 440.1,172.4 440.3,171.8 440.5,171.1 440.7,170.4 440.9,169.7 441.1,168.9 441.3,168.1 441.5,167.3 441.7,166.4 441.9,165.5 442.1,164.5 442.3,163.6 442.5,162.6 442.7,161.5 442.9,160.4 443.1,159.3 443.2,158.2 443.4,157.0 443.6,155.8 443.8,154.6 444.0,153.3 444.2,152.0 444.4,150.7 444.6,149.3 444.8,148.0 445.0,146.6 445.2,145.2 445.4,143.7 445.6,142.2 445.8,140.8 446.0,139.2 446.2,137.7 446.4,136.2 446.6,134.6 446.8,133.0 447.0,131.4 447.1,129.8 447.3,128.2 447.5,126.5 447.7,124.9 447.9,123.2 448.1,121.5 448.3,119.8 448.5,118.1 448.7,116.4 448.9,114.7 449.1,113.0 449.3,111.3 449.5,109.6 449.7,107.8 449.9,106.1 450.1,104.4 450.3,102.6 450.5,100.9 450.7,99.2 450.9,97.5 451.0,95.8 451.2,94.1 451.4,92.4 451.6,90.7 451.8,89.0 452.0,87.3 452.2,85.7 452.4,84.0 452.6,82.4 452.8,80.8 453.0,79.2 453.2,77.6 453.4,76.0 453.6,74.5 453.8,73.0 454.0,71.5 454.2,70.0 454.4,68.5 454.6,67.1 454.8,65.7 454.9,64.3 455.1,62.9 455.3,61.6 455.5,60.3 455.7,59.0 455.9,57.8 456.1,56.6 456.3,55.4 456.5,54.2 456.7,53.1 456.9,52.0 457.1,51.0 457.3,50.0 457.5,49.0 457.7,48.1 457.9,47.2 458.1,46.3 458.3,45.5 458.5,44.7 458.7,43.9 458.8,43.2 459.0,42.6 459.2,41.9 459.4,41.4 459.6,40.8 459.8,40.3 460.0,39.8 460.2,39.4 460.4,39.1 460.6,38.7 460.8,38.4 461.0,38.2 461.2,38.0 461.4,37.8 461.6,37.7 461.8,37.6 462.0,37.6 462.2,37.6 462.4,37.7 462.6,37.8 462.7,37.9 462.9,38.1 463.1,38.3 463.3,38.6 463.5,38.9 463.7,39.2 463.9,39.6 464.1,40.1 464.3,40.6 464.5,41.1 464.7,41.6 464.9,42.2 465.1,42.9 465.3,43.5 465.5,44.3 465.7,45.0 465.9,45.8 466.1,46.6 466.3,47.5 466.5,48.4 466.6,49.3 466.8,50.3 467.0,51.3 467.2,52.3 467.4,53.4 467.6,54.4 467.8,55.6 468.0,56.7 468.2,57.9 468.4,59.1 468.6,60.3 468.8,61.6 469.0,62.9 469.2,64.2 469.4,65.5 469.6,66.8 469.8,68.2 470.0,69.6 470.2,71.0 470.4,72.4 470.5,73.8 470.7,75.3 470.9,76.7 471.1,78.2 471.3,79.7 471.5,81.2 471.7,82.7 471.9,84.2 472.1,85.7 472.3,87.3 472.5,88.8 472.7,90.3 472.9,91.9 473.1,93.4 473.3,95.0 473.5,96.5 473.7,98.0 473.9,99.6 474.1,101.1 474.3,102.6 474.5,104.1 474.6,105.7 474.8,107.2 475.0,108.6 475.2,110.1 475.4,111.6 475.6,113.1 475.8,114.5 476.0,115.9 476.2,117.3 476.4,118.7 476.6,120.1 476.8,121.4 477.0,122.8 477.2,124.1 477.4,125.4 477.6,126.7 477.8,127.9 478.0,129.1 478.2,130.3 478.4,131.5 478.5,132.6 478.7,133.7 478.9,134.8 479.1,135.9 479.3,136.9 479.5,137.9 479.7,138.8 479.9,139.8 480.1,140.7 480.3,141.5 480.5,142.4 480.7,143.1 480.9,143.9 481.1,144.6 481.3,145.3 481.5,146.0 481.7,146.6 481.9,147.1 482.1,147.7 482.3,148.2 482.4,148.6 482.6,149.1 482.8,149.5 483.0,149.8 483.2,150.1 483.4,150.4 483.6,150.6 483.8,150.8 484.0,151.0 484.2,151.1 484.4,151.1 484.6,151.2 484.8,151.2 485.0,151.1 485.2,151.1 485.4,150.9 485.6,150.8 485.8,150.6 486.0,150.4 486.2,150.1 486.3,149.8 486.5,149.4 486.7,149.1 486.9,148.7 487.1,148.2 487.3,147.7 487.5,147.2 487.7,146.7 487.9,146.1 488.1,145.5 488.3,144.8 488.5,144.1 488.7,143.4 488.9,142.7 489.1,141.9 489.3,141.1 489.5,140.3 489.7,139.4 489.9,138.6 490.1,137.7 490.2,136.7 490.4,135.8 490.6,134.8 490.8,133.8 491.0,132.8 491.2,131.8 491.4,130.7 491.6,129.7 491.8,128.6 492.0,127.5 492.2,126.3 492.4,125.2 492.6,124.1 492.8,122.9 493.0,121.7 493.2,120.6 493.4,119.4 493.6,118.2 493.8,117.0 494.0,115.8 494.1,114.6 494.3,113.3 494.5,112.1 494.7,110.9 494.9,109.7 495.1,108.5 495.3,107.2 495.5,106.0 495.7,104.8 495.9,103.6 496.1,102.4 496.3,101.2 496.5,100.0 496.7,98.8 496.9,97.6 497.1,96.5 497.3,95.3 497.5,94.2 497.7,93.0 497.9,91.9 498.0,90.8 498.2,89.8 498.4,88.7 498.6,87.6 498.8,86.6 499.0,85.6 499.2,84.6 499.4,83.6 499.6,82.7 499.8,81.8 500.0,80.9 500.2,80.0 500.4,79.1 500.6,78.3 500.8,77.5 501.0,76.7 501.2,76.0 501.4,75.2 501.6,74.6 501.8,73.9 501.9,73.2 502.1,72.6 502.3,72.1 502.5,71.5 502.7,71.0 502.9,70.5 503.1,70.0 503.3,69.6 503.5,69.2 503.7,68.9 503.9,68.5 504.1,68.2 504.3,68.0 504.5,67.7 504.7,67.5 504.9,67.4 505.1,67.2 505.3,67.1 505.5,67.1 505.7,67.0 505.9,67.0 506.0,67.0 506.2,67.1 506.4,67.2 506.6,67.3 506.8,67.5 507.0,67.7 507.2,67.9 507.4,68.1 507.6,68.4 507.8,68.7 508.0,69.0 508.2,69.4 508.4,69.8 508.6,70.2 508.8,70.7 509.0,71.1 509.2,71.6 509.4,72.2 509.6,72.7 509.8,73.3 509.9,73.9 510.1,74.6 510.3,75.2 510.5,75.9 510.7,76.6 510.9,77.3 511.1,78.0 511.3,78.8 511.5,79.6 511.7,80.3 511.9,81.2 512.1,82.0 512.3,82.8 512.5,83.7 512.7,84.6 512.9,85.4 513.1,86.3 513.3,87.2 513.5,88.2 513.7,89.1 513.8,90.0 514.0,91.0 514.2,91.9 514.4,92.9 514.6,93.8 514.8,94.8 515.0,95.7 515.2,96.7 515.4,97.7 515.6,98.7 515.8,99.6 516.0,100.6 516.2,101.6 516.4,102.5 516.6,103.5 516.8,104.4 517.0,105.4 517.2,106.3 517.4,107.3 517.6,108.2 517.7,109.1 517.9,110.0 518.1,110.9 518.3,111.8 518.5,112.6 518.7,113.5 518.9,114.3 519.1,115.2 519.3,116.0 519.5,116.8 519.7,117.5 519.9,118.3 520.1,119.0 520.3,119.8 520.5,120.5 520.7,121.1 520.9,121.8 521.1,122.4 521.3,123.1 521.5,123.7 521.6,124.2 521.8,124.8 522.0,125.3 522.2,125.8 522.4,126.3 522.6,126.7 522.8,127.1 523.0,127.5 523.2,127.9 523.4,128.2 523.6,128.5 523.8,128.8 524.0,129.1 524.2,129.3 524.4,129.5 524.6,129.7 524.8,129.9 525.0,130.0 525.2,130.1 525.4,130.1 525.5,130.2 525.7,130.2 525.9,130.1 526.1,130.1 526.3,130.0 526.5,129.9 526.7,129.8 526.9,129.6 527.1,129.4 527.3,129.2 527.5,129.0 527.7,128.7 527.9,128.4 528.1,128.1 528.3,127.8 528.5,127.4 528.7,127.0 528.9,126.6 529.1,126.1 529.3,125.6 529.4,125.2 529.6,124.6 529.8,124.1 530.0,123.6 530.2,123.0 530.4,122.4 530.6,121.8 530.8,121.1 531.0,120.5 531.2,119.8 531.4,119.1 531.6,118.4 531.8,117.7 532.0,116.9 532.2,116.2 532.4,115.4 532.6,114.6 532.8,113.9 533.0,113.1 533.2,112.2 533.3,111.4 533.5,110.6 533.7,109.8 533.9,108.9 534.1,108.1 534.3,107.2 534.5,106.4 534.7,105.5 534.9,104.6 535.1,103.8 535.3,102.9 535.5,102.0 535.7,101.1 535.9,100.3 536.1,99.4 536.3,98.5 536.5,97.7 536.7,96.8 536.9,96.0 537.1,95.1 537.3,94.3 537.4,93.5 537.6,92.6 537.8,91.8 538.0,91.0 538.2,90.2 538.4,89.5 538.6,88.7 538.8,88.0 539.0,87.2 539.2,86.5 539.4,85.8 539.6,85.1 539.8,84.4 540.0,83.8 540.2,83.1 540.4,82.5 540.6,81.9 540.8,81.3 541.0,80.8 541.2,80.2 541.3,79.7 541.5,79.2 541.7,78.7 541.9,78.3 542.1,77.8 542.3,77.4 542.5,77.0 542.7,76.7 542.9,76.4 543.1,76.1 543.3,75.8 543.5,75.5 543.7,75.3 543.9,75.1 544.1,74.9 544.3,74.8 544.5,74.6 544.7,74.5 544.9,74.5 545.1,74.4 545.2,74.4 545.4,74.4 545.6,74.5 545.8,74.5 546.0,74.6 546.2,74.7 546.4,74.9 546.6,75.0 546.8,75.2 547.0,75.5 547.2,75.7 547.4,76.0 547.6,76.3 547.8,76.6 548.0,77.0 548.2,77.4 548.4,77.8 548.6,78.2 548.8,78.6 549.0,79.1 549.1,79.6 549.3,80.1 549.5,80.7 549.7,81.2 549.9,81.8 550.1,82.4 550.3,83.0 550.5,83.7 550.7,84.3 550.9,85.0 551.1,85.7 551.3,86.4 551.5,87.1 551.7,87.9 551.9,88.7 552.1,89.4 552.3,90.2 552.5,91.0 552.7,91.8 552.9,92.6 553.0,93.5 553.2,94.3 553.4,95.1 553.6,96.0 553.8,96.9 554.0,97.7 554.2,98.6 554.4,99.5 554.6,100.4 554.8,101.3 555.0,102.1 555.2,103.0 555.4,103.9 555.6,104.8 555.8,105.7 556.0,106.6 556.2,107.5 556.4,108.4 556.6,109.2 556.8,110.1 556.9,111.0 557.1,111.8 557.3,112.7 557.5,113.5 557.7,114.3 557.9,115.2 558.1,116.0 558.3,116.8 558.5,117.5 558.7,118.3 558.9,119.1 559.1,119.8 559.3,120.6 559.5,121.3 559.7,122.0 559.9,122.6 560.1,123.3 560.3,123.9 560.5,124.6 560.7,125.2 560.8,125.7 561.0,126.3 561.2,126.8 561.4,127.4 561.6,127.9 561.8,128.3 562.0,128.8 562.2,129.2 562.4,129.6 562.6,130.0 562.8,130.3 563.0,130.6 563.2,130.9 563.4,131.2 563.6,131.5 563.8,131.7 564.0,131.9 564.2,132.0 564.4,132.2 564.6,132.3 564.7,132.4 564.9,132.4 565.1,132.5 565.3,132.5 565.5,132.4 565.7,132.4 565.9,132.3 566.1,132.2 566.3,132.0 566.5,131.9 566.7,131.7 566.9,131.5 567.1,131.2 567.3,130.9 567.5,130.6 567.7,130.3 567.9,130.0 568.1,129.6 568.3,129.2 568.5,128.7 568.7,128.3 568.8,127.8 569.0,127.3 569.2,126.8 569.4,126.2 569.6,125.7 569.8,125.1 570.0,124.4 570.2,123.8 570.4,123.1 570.6,122.5 570.8,121.8 571.0,121.1 571.2,120.3 571.4,119.6 571.6,118.8 571.8,118.0 572.0,117.2 572.2,116.4 572.4,115.6 572.6,114.7 572.7,113.9 572.9,113.0 573.1,112.2 573.3,111.3 573.5,110.4 573.7,109.5 573.9,108.6 574.1,107.6 574.3,106.7 574.5,105.8 574.7,104.9 574.9,103.9 575.1,103.0 575.3,102.0 575.5,101.1 575.7,100.1 575.9,99.2 576.1,98.3 576.3,97.3 576.5,96.4 576.6,95.5 576.8,94.5 577.0,93.6 577.2,92.7 577.4,91.8 577.6,90.9 577.8,90.0 578.0,89.1 578.2,88.3 578.4,87.4 578.6,86.6 578.8,85.7 579.0,84.9 579.2,84.1 579.4,83.3 579.6,82.6 579.8,81.8 580.0,81.1 580.2,80.4 580.4,79.7 580.5,79.0 580.7,78.3 580.9,77.7 581.1,77.1 581.3,76.5 581.5,75.9 581.7,75.3 581.9,74.8 582.1,74.3 582.3,73.8 582.5,73.4 582.7,72.9 582.9,72.5 583.1,72.2 583.3,71.8 583.5,71.5 583.7,71.2 583.9,70.9 584.1,70.7 584.3,70.5 584.4,70.3 584.6,70.1 584.8,70.0 585.0,69.9 585.2,69.8 585.4,69.8 585.6,69.8 585.8,69.8 586.0,69.8 586.2,69.9 586.4,70.0 586.6,70.1 586.8,70.3 587.0,70.5 587.2,70.7 587.4,70.9 587.6,71.2 587.8,71.5 588.0,71.8 588.2,72.1 588.3,72.5 588.5,72.9 588.7,73.4 588.9,73.8 589.1,74.3 589.3,74.8 589.5,75.3 589.7,75.9 589.9,76.5 590.1,77.1 590.3,77.7 590.5,78.4 590.7,79.0 590.9,79.7 591.1,80.4 591.3,81.2 591.5,81.9 591.7,82.7 591.9,83.5 592.1,84.3 592.2,85.1 592.4,85.9 592.6,86.8 592.8,87.6 593.0,88.5 593.2,89.4 593.4,90.3 593.6,91.2 593.8,92.1 594.0,93.1 594.2,94.0 594.4,94.9 594.6,95.9 594.8,96.9 595.0,97.8 595.2,98.8 595.4,99.8 595.6,100.7 595.8,101.7 596.0,102.7 596.1,103.7 596.3,104.6 596.5,105.6 596.7,106.6 596.9,107.6 597.1,108.5 597.3,109.5 597.5,110.4 597.7,111.4 597.9,112.3 598.1,113.2 598.3,114.2 598.5,115.1 598.7,116.0 598.9,116.9 599.1,117.7 599.3,118.6 599.5,119.4 599.7,120.3 599.9,121.1 600.0,121.9 600.2,122.7 600.4,123.4 600.6,124.2 600.8,124.9 601.0,125.6 601.2,126.3 601.4,127.0 601.6,127.6 601.8,128.2 602.0,128.8 602.2,129.4 602.4,129.9 602.6,130.5 602.8,131.0 603.0,131.4 603.2,131.9 603.4,132.3 603.6,132.7 603.8,133.1 604.0,133.4 604.1,133.7 604.3,134.0 604.5,134.3 604.7,134.5 604.9,134.7 605.1,134.9 605.3,135.0 605.5,135.1 605.7,135.2 605.9,135.3 606.1,135.3 606.3,135.3 606.5,135.2 606.7,135.2 606.9,135.1 607.1,135.0 607.3,134.8 607.5,134.6 607.7,134.4 607.9,134.2 608.0,133.9 608.2,133.6 608.4,133.3 608.6,133.0 608.8,132.6 609.0,132.2 609.2,131.8 609.4,131.3 609.6,130.8 609.8,130.3 610.0,129.8 610.2,129.2 610.4,128.7 610.6,128.0 610.8,127.4 611.0,126.8 611.2,126.1 611.4,125.4 611.6,124.7 611.8,124.0 611.9,123.2 612.1,122.4 612.3,121.6 612.5,120.8 612.7,120.0 612.9,119.2 613.1,118.3 613.3,117.5 613.5,116.6 613.7,115.7 613.9,114.8 614.1,113.8 614.3,112.9 614.5,112.0 614.7,111.0 614.9,110.1 615.1,109.1 615.3,108.1 615.5,107.2 615.7,106.2 615.8,105.2 616.0,104.2 616.2,103.2 616.4,102.3 616.6,101.3 616.8,100.3 617.0,99.3 617.2,98.3 617.4,97.3 617.6,96.4 617.8,95.4 618.0,94.4 618.2,93.5 618.4,92.5 618.6,91.6 618.8,90.7 619.0,89.7 619.2,88.8 619.4,87.9 619.6,87.1 619.7,86.2 619.9,85.3 620.1,84.5 620.3,83.7 620.5,82.9 620.7,82.1 620.9,81.3 621.1,80.5 621.3,79.8 621.5,79.1 621.7,78.4 621.9,77.7 622.1,77.1 622.3,76.4 622.5,75.8 622.7,75.3 622.9,74.7 623.1,74.2 623.3,73.7 623.5,73.2 623.6,72.7 623.8,72.3 624.0,71.9 624.2,71.5 624.4,71.1 624.6,70.8 624.8,70.5 625.0,70.3 625.2,70.0 625.4,69.8 625.6,69.6 625.8,69.5 626.0,69.4 626.2,69.3 626.4,69.2 626.6,69.2 626.8,69.2 627.0,69.2 627.2,69.3 627.4,69.3 627.5,69.5 627.7,69.6 627.9,69.8 628.1,70.0 628.3,70.2 628.5,70.5 628.7,70.7 628.9,71.1 629.1,71.4 629.3,71.8 629.5,72.2 629.7,72.6 629.9,73.0 630.1,73.5 630.3,74.0 630.5,74.5 630.7,75.1 630.9,75.7 631.1,76.3 631.3,76.9 631.4,77.5 631.6,78.2 631.8,78.9 632.0,79.6 632.2,80.3 632.4,81.1 632.6,81.8 632.8,82.6 633.0,83.4 633.2,84.2 633.4,85.1 633.6,85.9 633.8,86.8 634.0,87.7 634.2,88.5 634.4,89.4 634.6,90.4 634.8,91.3 635.0,92.2 635.2,93.2 635.4,94.1 635.5,95.1 635.7,96.0 635.9,97.0 636.1,98.0 636.3,98.9 636.5,99.9 636.7,100.9 636.9,101.9 637.1,102.9 637.3,103.8 637.5,104.8 637.7,105.8 637.9,106.8 638.1,107.7 638.3,108.7 638.5,109.7 638.7,110.6 638.9,111.5 639.1,112.5 639.3,113.4 639.4,114.3 639.6,115.2 639.8,116.1 640.0,117.0 640.2,117.9 640.4,118.7 640.6,119.5 640.8,120.4 641.0,121.2 641.2,121.9 641.4,122.7 641.6,123.5 641.8,124.2 642.0,124.9 642.2,125.6 642.4,126.3 642.6,126.9 642.8,127.5 643.0,128.1 643.2,128.7 643.3,129.3 643.5,129.8 643.7,130.3 643.9,130.8 644.1,131.2 644.3,131.7 644.5,132.1 644.7,132.4 644.9,132.8 645.1,133.1 645.3,133.4 645.5,133.6 645.7,133.9 645.9,134.1 646.1,134.3 646.3,134.4 646.5,134.5 646.7,134.6 646.9,134.7 647.1,134.7 647.2,134.7 647.4,134.7 647.6,134.6 647.8,134.5 648.0,134.4 648.2,134.3 648.4,134.1 648.6,133.9 648.8,133.7 649.0,133.4 649.2,133.1 649.4,132.8 649.6,132.5 649.8,132.1 650.0,131.7 650.2,131.3 650.4,130.8 650.6,130.3 650.8,129.8 651.0,129.3 651.1,128.8 651.3,128.2 651.5,127.6 651.7,127.0 651.9,126.3 652.1,125.7 652.3,125.0 652.5,124.3 652.7,123.6 652.9,122.8 653.1,122.1 653.3,121.3 653.5,120.5 653.7,119.7 653.9,118.8 654.1,118.0 654.3,117.1 654.5,116.3 654.7,115.4 654.9,114.5 655.0,113.6 655.2,112.7 655.4,111.7 655.6,110.8 655.8,109.8 656.0,108.9 656.2,107.9 656.4,107.0 656.6,106.0 656.8,105.0 657.0,104.1 657.2,103.1 657.4,102.1 657.6,101.2 657.8,100.2 658.0,99.2 658.2,98.2 658.4,97.3 658.6,96.3 658.8,95.4 658.9,94.4 659.1,93.5 659.3,92.6 659.5,91.6 659.7,90.7 659.9,89.8 660.1,88.9 660.3,88.0 660.5,87.2 660.7,86.3 660.9,85.5 661.1,84.7 661.3,83.8 661.5,83.1 661.7,82.3 661.9,81.5 662.1,80.8 662.3,80.1 662.5,79.4 662.7,78.7 662.8,78.0 663.0,77.4 663.2,76.8 663.4,76.2 663.6,75.6 663.8,75.1 664.0,74.6 664.2,74.1 664.4,73.6 664.6,73.2 664.8,72.8 665.0,72.4 665.2,72.0 665.4,71.7 665.6,71.4 665.8,71.1 666.0,70.9 666.2,70.6 666.4,70.4 666.6,70.3 666.8,70.1 666.9,70.0 667.1,70.0 667.3,69.9 667.5,69.9 667.7,69.9 667.9,69.9 668.1,70.0 668.3,70.1 668.5,70.2 668.7,70.4 668.9,70.6 669.1,70.8 669.3,71.0 669.5,71.3 669.7,71.6 669.9,71.9 670.1,72.2 670.3,72.6 670.5,73.0 670.7,73.5 670.8,73.9 671.0,74.4 671.2,74.9 671.4,75.4 671.6,76.0 671.8,76.6 672.0,77.2 672.2,77.8 672.4,78.4 672.6,79.1 672.8,79.8 673.0,80.5 673.2,81.2 673.4,82.0 673.6,82.8 673.8,83.5 674.0,84.3 674.2,85.2 674.4,86.0 674.6,86.8 674.7,87.7 674.9,88.6 675.1,89.4 675.3,90.3 675.5,91.3 675.7,92.2 675.9,93.1 676.1,94.0 676.3,95.0 676.5,95.9 676.7,96.9 676.9,97.8 677.1,98.8 677.3,99.8 677.5,100.7 677.7,101.7 677.9,102.7 678.1,103.6 678.3,104.6 678.5,105.6 678.6,106.5 678.8,107.5 679.0,108.4 679.2,109.4 679.4,110.3 679.6,111.2 679.8,112.2 680.0,113.1 680.2,114.0 680.4,114.9 680.6,115.8 680.8,116.6 681.0,117.5 681.2,118.3 681.4,119.2 681.6,120.0 681.8,120.8 682.0,121.6 682.2,122.3 682.4,123.1 682.5,123.8 682.7,124.5 682.9,125.2 683.1,125.9 683.3,126.5 683.5,127.1 683.7,127.7 683.9,128.3 684.1,128.8 684.3,129.4 684.5,129.9 684.7,130.4 684.9,130.8 685.1,131.2 685.3,131.6 685.5,132.0 685.7,132.4 685.9,132.7 686.1,133.0 686.3,133.2 686.4,133.5 686.6,133.7 686.8,133.9 687.0,134.0 687.2,134.1 687.4,134.2 687.6,134.3 687.8,134.3 688.0,134.3 688.2,134.3 688.4,134.3 688.6,134.2 688.8,134.1 689.0,133.9 689.2,133.8 689.4,133.6 689.6,133.3 689.8,133.1 690.0,132.8 690.2,132.5 690.3,132.2 690.5,131.8 690.7,131.4 690.9,131.0 691.1,130.6 691.3,130.1 691.5,129.6 691.7,129.1 691.9,128.5 692.1,128.0 692.3,127.4 692.5,126.8 692.7,126.1 692.9,125.5 693.1,124.8 693.3,124.1 693.5,123.4 693.7,122.7 693.9,121.9 694.1,121.1 694.2,120.3 694.4,119.5 694.6,118.7 694.8,117.9 695.0,117.0 695.2,116.2 695.4,115.3 695.6,114.4 695.8,113.5 696.0,112.6 696.2,111.7 696.4,110.7 696.6,109.8 696.8,108.8 697.0,107.9 697.2,106.9 697.4,106.0 697.6,105.0 697.8,104.1 698.0,103.1 698.1,102.1" fill="none" stroke="#12a812" stroke-width="2.5" stroke-linejoin="round" stroke-linecap="round"/>
<polyline points="405.8,3.7 406.0,3.7 406.2,3.9 406.4,4.2 406.6,4.7 406.8,5.3 407.0,6.1 407.2,7.0 407.4,8.1 407.6,9.3 407.8,10.6 407.9,12.0 408.1,13.6 408.3,15.3 408.5,17.1 408.7,19.1 408.9,21.1 409.1,23.2 409.3,25.5 409.5,27.8 409.7,30.3 409.9,32.8 410.1,35.4 410.3,38.1 410.5,40.8 410.7,43.6 410.9,46.5 411.1,49.5 411.3,52.4 411.5,55.5 411.7,58.5 411.8,61.7 412.0,64.8 412.2,68.0 412.4,71.1 412.6,74.3 412.8,77.5 413.0,80.7 413.2,84.0 413.4,87.2 413.6,90.3 413.8,93.5 414.0,96.7 414.2,99.8 414.4,102.9 414.6,105.9 414.8,109.0 415.0,111.9 415.2,114.9 415.4,117.7 415.6,120.6 415.7,123.3 415.9,126.0 416.1,128.6 416.3,131.2 416.5,133.7 416.7,136.1 416.9,138.4 417.1,140.6 417.3,142.8 417.5,144.9 417.7,146.8 417.9,148.7 418.1,150.5 418.3,152.2 418.5,153.8 418.7,155.3 418.9,156.7 419.1,158.0 419.3,159.2 419.5,160.3 419.6,161.3 419.8,162.2 420.0,163.0 420.2,163.7 420.4,164.3 420.6,164.7 420.8,165.1 421.0,165.4 421.2,165.6 421.4,165.6 421.6,165.6 421.8,165.5 422.0,165.3 422.2,165.0 422.4,164.6 422.6,164.1 422.8,163.5 423.0,162.9 423.2,162.1 423.4,161.3 423.5,160.4 423.7,159.4 423.9,158.3 424.1,157.2 424.3,156.0 424.5,154.7 424.7,153.4 424.9,152.0 425.1,150.6 425.3,149.1 425.5,147.5 425.7,145.9 425.9,144.3 426.1,142.6 426.3,140.9 426.5,139.1 426.7,137.4 426.9,135.5 427.1,133.7 427.3,131.9 427.4,130.0 427.6,128.1 427.8,126.2 428.0,124.3 428.2,122.4 428.4,120.5 428.6,118.6 428.8,116.7 429.0,114.8 429.2,112.9 429.4,111.0 429.6,109.1 429.8,107.3 430.0,105.5 430.2,103.7 430.4,102.0 430.6,100.2 430.8,98.5 431.0,96.9 431.2,95.2 431.3,93.6 431.5,92.1 431.7,90.6 431.9,89.1 432.1,87.7 432.3,86.4 432.5,85.0 432.7,83.8 432.9,82.6 433.1,81.4 433.3,80.3 433.5,79.3 433.7,78.3 433.9,77.3 434.1,76.5 434.3,75.6 434.5,74.9 434.7,74.2 434.9,73.5 435.1,72.9 435.2,72.4 435.4,71.9 435.6,71.5 435.8,71.2 436.0,70.9 436.2,70.7 436.4,70.5 436.6,70.4 436.8,70.3 437.0,70.3 437.2,70.3 437.4,70.4 437.6,70.6 437.8,70.7 438.0,71.0 438.2,71.3 438.4,71.6 438.6,72.0 438.8,72.4 439.0,72.9 439.2,73.4 439.3,73.9 439.5,74.5 439.7,75.1 439.9,75.8 440.1,76.4 440.3,77.1 440.5,77.9 440.7,78.6 440.9,79.4 441.1,80.2 441.3,81.0 441.5,81.9 441.7,82.7 441.9,83.6 442.1,84.5 442.3,85.4 442.5,86.2 442.7,87.2 442.9,88.1 443.1,89.0 443.2,89.9 443.4,90.8 443.6,91.7 443.8,92.6 444.0,93.5 444.2,94.4 444.4,95.2 444.6,96.1 444.8,97.0 445.0,97.8 445.2,98.6 445.4,99.4 445.6,100.2 445.8,101.0 446.0,101.7 446.2,102.4 446.4,103.1 446.6,103.8 446.8,104.5 447.0,105.1 447.1,105.7 447.3,106.2 447.5,106.8 447.7,107.3 447.9,107.8 448.1,108.2 448.3,108.7 448.5,109.1 448.7,109.4 448.9,109.8 449.1,110.1 449.3,110.3 449.5,110.6 449.7,110.8 449.9,111.0 450.1,111.1 450.3,111.2 450.5,111.3 450.7,111.4 450.9,111.4 451.0,111.4 451.2,111.4 451.4,111.3 451.6,111.3 451.8,111.1 452.0,111.0 452.2,110.9 452.4,110.7 452.6,110.5 452.8,110.3 453.0,110.0 453.2,109.8 453.4,109.5 453.6,109.2 453.8,108.9 454.0,108.5 454.2,108.2 454.4,107.8 454.6,107.5 454.8,107.1 454.9,106.7 455.1,106.3 455.3,105.9 455.5,105.5 455.7,105.1 455.9,104.6 456.1,104.2 456.3,103.8 456.5,103.4 456.7,103.0 456.9,102.5 457.1,102.1 457.3,101.7 457.5,101.3 457.7,100.9 457.9,100.5 458.1,100.2 458.3,99.8 458.5,99.4 458.7,99.1 458.8,98.8 459.0,98.4 459.2,98.1 459.4,97.9 459.6,97.6 459.8,97.3 460.0,97.1 460.2,96.9 460.4,96.7 460.6,96.5 460.8,96.3 461.0,96.2 461.2,96.1 461.4,96.0 461.6,95.9 461.8,95.9 462.0,95.8 462.2,95.8 462.4,95.8 462.6,95.9 462.7,95.9 462.9,96.0 463.1,96.1 463.3,96.3 463.5,96.4 463.7,96.6 463.9,96.8 464.1,97.0 464.3,97.2 464.5,97.5 464.7,97.7 464.9,98.0 465.1,98.4 465.3,98.7 465.5,99.0 465.7,99.4 465.9,99.8 466.1,100.2 466.3,100.6 466.5,101.0 466.6,101.5 466.8,101.9 467.0,102.4 467.2,102.9 467.4,103.3 467.6,103.8 467.8,104.3 468.0,104.8 468.2,105.3 468.4,105.9 468.6,106.4 468.8,106.9 469.0,107.4 469.2,108.0 469.4,108.5 469.6,109.0 469.8,109.5 470.0,110.0 470.2,110.6 470.4,111.1 470.5,111.6 470.7,112.1 470.9,112.5 471.1,113.0 471.3,113.5 471.5,113.9 471.7,114.4 471.9,114.8 472.1,115.2 472.3,115.6 472.5,116.0 472.7,116.3 472.9,116.7 473.1,117.0 473.3,117.3 473.5,117.6 473.7,117.8 473.9,118.1 474.1,118.3 474.3,118.5 474.5,118.7 474.6,118.8 474.8,118.9 475.0,119.0 475.2,119.1 475.4,119.2 475.6,119.2 475.8,119.2 476.0,119.2 476.2,119.1 476.4,119.0 476.6,118.9 476.8,118.8 477.0,118.6 477.2,118.5 477.4,118.2 477.6,118.0 477.8,117.7 478.0,117.4 478.2,117.1 478.4,116.8 478.5,116.4 478.7,116.0 478.9,115.6 479.1,115.2 479.3,114.7 479.5,114.3 479.7,113.8 479.9,113.2 480.1,112.7 480.3,112.1 480.5,111.5 480.7,110.9 480.9,110.3 481.1,109.7 481.3,109.0 481.5,108.4 481.7,107.7 481.9,107.0 482.1,106.3 482.3,105.6 482.4,104.9 482.6,104.2 482.8,103.4 483.0,102.7 483.2,101.9 483.4,101.2 483.6,100.4 483.8,99.6 484.0,98.9 484.2,98.1 484.4,97.3 484.6,96.6 484.8,95.8 485.0,95.1 485.2,94.3 485.4,93.6 485.6,92.8 485.8,92.1 486.0,91.4 486.2,90.7 486.3,90.0 486.5,89.3 486.7,88.6 486.9,88.0 487.1,87.3 487.3,86.7 487.5,86.1 487.7,85.5 487.9,84.9 488.1,84.4 488.3,83.9 488.5,83.4 488.7,82.9 488.9,82.4 489.1,82.0 489.3,81.5 489.5,81.2 489.7,80.8 489.9,80.4 490.1,80.1 490.2,79.8 490.4,79.6 490.6,79.3 490.8,79.1 491.0,79.0 491.2,78.8 491.4,78.7 491.6,78.6 491.8,78.5 492.0,78.5 492.2,78.5 492.4,78.5 492.6,78.6 492.8,78.7 493.0,78.8 493.2,78.9 493.4,79.1 493.6,79.3 493.8,79.5 494.0,79.8 494.1,80.0 494.3,80.3 494.5,80.7 494.7,81.0 494.9,81.4 495.1,81.8 495.3,82.3 495.5,82.8 495.7,83.2 495.9,83.8 496.1,84.3 496.3,84.8 496.5,85.4 496.7,86.0 496.9,86.6 497.1,87.3 497.3,87.9 497.5,88.6 497.7,89.3 497.9,90.0 498.0,90.7 498.2,91.4 498.4,92.2 498.6,92.9 498.8,93.7 499.0,94.5 499.2,95.3 499.4,96.1 499.6,96.9 499.8,97.7 500.0,98.5 500.2,99.3 500.4,100.1 500.6,100.9 500.8,101.8 501.0,102.6 501.2,103.4 501.4,104.2 501.6,105.0 501.8,105.9 501.9,106.7 502.1,107.5 502.3,108.3 502.5,109.0 502.7,109.8 502.9,110.6 503.1,111.3 503.3,112.1 503.5,112.8 503.7,113.5 503.9,114.2 504.1,114.9 504.3,115.6 504.5,116.3 504.7,116.9 504.9,117.5 505.1,118.1 505.3,118.7 505.5,119.3 505.7,119.8 505.9,120.4 506.0,120.9 506.2,121.3 506.4,121.8 506.6,122.2 506.8,122.6 507.0,123.0 507.2,123.4 507.4,123.7 507.6,124.0 507.8,124.3 508.0,124.6 508.2,124.8 508.4,125.0 508.6,125.2 508.8,125.4 509.0,125.5 509.2,125.6 509.4,125.7 509.6,125.8 509.8,125.8 509.9,125.8 510.1,125.8 510.3,125.7 510.5,125.7 510.7,125.6 510.9,125.4 511.1,125.3 511.3,125.1 511.5,124.9 511.7,124.7 511.9,124.4 512.1,124.2 512.3,123.9 512.5,123.6 512.7,123.2 512.9,122.9 513.1,122.5 513.3,122.1 513.5,121.7 513.7,121.2 513.8,120.8 514.0,120.3 514.2,119.8 514.4,119.3 514.6,118.7 514.8,118.2 515.0,117.6 515.2,117.1 515.4,116.5 515.6,115.9 515.8,115.3 516.0,114.6 516.2,114.0 516.4,113.4 516.6,112.7 516.8,112.1 517.0,111.4 517.2,110.7 517.4,110.0 517.6,109.3 517.7,108.7 517.9,108.0 518.1,107.3 518.3,106.6 518.5,105.9 518.7,105.2 518.9,104.4 519.1,103.7 519.3,103.0 519.5,102.3 519.7,101.7 519.9,101.0 520.1,100.3 520.3,99.6 520.5,98.9 520.7,98.2 520.9,97.6 521.1,96.9 521.3,96.3 521.5,95.6 521.6,95.0 521.8,94.4 522.0,93.8 522.2,93.2 522.4,92.6 522.6,92.0 522.8,91.5 523.0,90.9 523.2,90.4 523.4,89.9 523.6,89.4 523.8,88.9 524.0,88.4 524.2,88.0 524.4,87.5 524.6,87.1 524.8,86.7 525.0,86.3 525.2,85.9 525.4,85.6 525.5,85.2 525.7,84.9 525.9,84.6 526.1,84.3 526.3,84.1 526.5,83.8 526.7,83.6 526.9,83.4 527.1,83.2 527.3,83.0 527.5,82.9 527.7,82.7 527.9,82.6 528.1,82.5 528.3,82.5 528.5,82.4 528.7,82.4 528.9,82.4 529.1,82.4 529.3,82.4 529.4,82.4 529.6,82.5 529.8,82.6 530.0,82.6 530.2,82.8 530.4,82.9 530.6,83.0 530.8,83.2 531.0,83.4 531.2,83.6 531.4,83.8 531.6,84.0 531.8,84.3 532.0,84.5 532.2,84.8 532.4,85.1 532.6,85.4 532.8,85.7 533.0,86.0 533.2,86.4 533.3,86.7 533.5,87.1 533.7,87.5 533.9,87.8 534.1,88.2 534.3,88.7 534.5,89.1 534.7,89.5 534.9,89.9 535.1,90.4 535.3,90.9 535.5,91.3 535.7,91.8 535.9,92.3 536.1,92.7 536.3,93.2 536.5,93.7 536.7,94.2 536.9,94.7 537.1,95.3 537.3,95.8 537.4,96.3 537.6,96.8 537.8,97.3 538.0,97.8 538.2,98.4 538.4,98.9 538.6,99.4 538.8,100.0 539.0,100.5 539.2,101.0 539.4,101.5 539.6,102.1 539.8,102.6 540.0,103.1 540.2,103.6 540.4,104.1 540.6,104.6 540.8,105.1 541.0,105.6 541.2,106.1 541.3,106.6 541.5,107.1 541.7,107.6 541.9,108.0 542.1,108.5 542.3,109.0 542.5,109.4 542.7,109.8 542.9,110.3 543.1,110.7 543.3,111.1 543.5,111.5 543.7,111.9 543.9,112.3 544.1,112.7 544.3,113.1 544.5,113.4 544.7,113.8 544.9,114.1 545.1,114.4 545.2,114.8 545.4,115.1 545.6,115.4 545.8,115.6 546.0,115.9 546.2,116.2 546.4,116.4 546.6,116.7 546.8,116.9 547.0,117.1 547.2,117.3 547.4,117.5 547.6,117.6 547.8,117.8 548.0,117.9 548.2,118.1 548.4,118.2 548.6,118.3 548.8,118.4 549.0,118.5 549.1,118.5 549.3,118.6 549.5,118.6 549.7,118.6 549.9,118.7 550.1,118.7 550.3,118.6 550.5,118.6 550.7,118.6 550.9,118.5 551.1,118.5 551.3,118.4 551.5,118.3 551.7,118.2 551.9,118.1 552.1,117.9 552.3,117.8 552.5,117.6 552.7,117.5 552.9,117.3 553.0,117.1 553.2,116.9 553.4,116.7 553.6,116.5 553.8,116.2 554.0,116.0 554.2,115.7 554.4,115.4 554.6,115.2 554.8,114.9 555.0,114.6 555.2,114.3 555.4,113.9 555.6,113.6 555.8,113.3 556.0,112.9 556.2,112.6 556.4,112.2 556.6,111.8 556.8,111.4 556.9,111.1 557.1,110.7 557.3,110.3 557.5,109.9 557.7,109.4 557.9,109.0 558.1,108.6 558.3,108.2 558.5,107.7 558.7,107.3 558.9,106.9 559.1,106.4 559.3,106.0 559.5,105.5 559.7,105.0 559.9,104.6 560.1,104.1 560.3,103.7 560.5,103.2 560.7,102.7 560.8,102.3 561.0,101.8 561.2,101.3 561.4,100.8 561.6,100.4 561.8,99.9 562.0,99.4 562.2,99.0 562.4,98.5 562.6,98.1 562.8,97.6 563.0,97.2 563.2,96.7 563.4,96.3 563.6,95.8 563.8,95.4 564.0,95.0 564.2,94.5 564.4,94.1 564.6,93.7 564.7,93.3 564.9,92.9 565.1,92.5 565.3,92.1 565.5,91.8 565.7,91.4 565.9,91.0 566.1,90.7 566.3,90.3 566.5,90.0 566.7,89.7 566.9,89.4 567.1,89.1 567.3,88.8 567.5,88.5 567.7,88.2 567.9,88.0 568.1,87.7 568.3,87.5 568.5,87.3 568.7,87.1 568.8,86.9 569.0,86.7 569.2,86.5 569.4,86.3 569.6,86.2 569.8,86.1 570.0,85.9 570.2,85.8 570.4,85.8 570.6,85.7 570.8,85.6 571.0,85.6 571.2,85.5 571.4,85.5 571.6,85.5 571.8,85.5 572.0,85.5 572.2,85.6 572.4,85.6 572.6,85.7 572.7,85.8 572.9,85.9 573.1,86.0 573.3,86.1 573.5,86.2 573.7,86.4 573.9,86.5 574.1,86.7 574.3,86.9 574.5,87.1 574.7,87.3 574.9,87.6 575.1,87.8 575.3,88.1 575.5,88.3 575.7,88.6 575.9,88.9 576.1,89.2 576.3,89.5 576.5,89.9 576.6,90.2 576.8,90.6 577.0,90.9 577.2,91.3 577.4,91.7 577.6,92.1 577.8,92.5 578.0,92.9 578.2,93.4 578.4,93.8 578.6,94.2 578.8,94.7 579.0,95.1 579.2,95.6 579.4,96.1 579.6,96.5 579.8,97.0 580.0,97.5 580.2,98.0 580.4,98.5 580.5,99.0 580.7,99.5 580.9,100.0 581.1,100.5 581.3,101.0 581.5,101.5 581.7,102.1 581.9,102.6 582.1,103.1 582.3,103.6 582.5,104.1 582.7,104.6 582.9,105.2 583.1,105.7 583.3,106.2 583.5,106.7 583.7,107.2 583.9,107.7 584.1,108.2 584.3,108.7 584.4,109.2 584.6,109.6 584.8,110.1 585.0,110.6 585.2,111.0 585.4,111.5 585.6,111.9 585.8,112.4 586.0,112.8 586.2,113.2 586.4,113.6 586.6,114.0 586.8,114.4 587.0,114.8 587.2,115.2 587.4,115.5 587.6,115.9 587.8,116.2 588.0,116.5 588.2,116.8 588.3,117.1 588.5,117.4 588.7,117.7 588.9,117.9 589.1,118.2 589.3,118.4 589.5,118.6 589.7,118.8 589.9,119.0 590.1,119.2 590.3,119.3 590.5,119.4 590.7,119.6 590.9,119.7 591.1,119.7 591.3,119.8 591.5,119.9 591.7,119.9 591.9,119.9 592.1,119.9 592.2,119.9 592.4,119.9 592.6,119.9 592.8,119.8 593.0,119.7 593.2,119.6 593.4,119.5 593.6,119.4 593.8,119.3 594.0,119.1 594.2,118.9 594.4,118.8 594.6,118.5 594.8,118.3 595.0,118.1 595.2,117.8 595.4,117.6 595.6,117.3 595.8,117.0 596.0,116.7 596.1,116.4 596.3,116.1 596.5,115.7 596.7,115.4 596.9,115.0 597.1,114.6 597.3,114.2 597.5,113.8 597.7,113.4 597.9,113.0 598.1,112.5 598.3,112.1 598.5,111.6 598.7,111.1 598.9,110.7 599.1,110.2 599.3,109.7 599.5,109.2 599.7,108.7 599.9,108.2 600.0,107.7 600.2,107.1 600.4,106.6 600.6,106.1 600.8,105.5 601.0,105.0 601.2,104.5 601.4,103.9 601.6,103.4 601.8,102.8 602.0,102.3 602.2,101.7 602.4,101.2 602.6,100.6 602.8,100.1 603.0,99.5 603.2,99.0 603.4,98.4 603.6,97.9 603.8,97.4 604.0,96.8 604.1,96.3 604.3,95.8 604.5,95.3 604.7,94.8 604.9,94.3 605.1,93.8 605.3,93.3 605.5,92.8 605.7,92.4 605.9,91.9 606.1,91.4 606.3,91.0 606.5,90.6 606.7,90.1 606.9,89.7 607.1,89.3 607.3,89.0 607.5,88.6 607.7,88.2 607.9,87.9 608.0,87.5 608.2,87.2 608.4,86.9 608.6,86.6 608.8,86.3 609.0,86.1 609.2,85.8 609.4,85.6 609.6,85.4 609.8,85.1 610.0,85.0 610.2,84.8 610.4,84.6 610.6,84.5 610.8,84.4 611.0,84.3 611.2,84.2 611.4,84.1 611.6,84.0 611.8,84.0 611.9,84.0 612.1,84.0 612.3,84.0 612.5,84.0 612.7,84.0 612.9,84.1 613.1,84.2 613.3,84.3 613.5,84.4 613.7,84.5 613.9,84.6 614.1,84.8 614.3,85.0 614.5,85.1 614.7,85.3 614.9,85.6 615.1,85.8 615.3,86.1 615.5,86.3 615.7,86.6 615.8,86.9 616.0,87.2 616.2,87.5 616.4,87.9 616.6,88.2 616.8,88.6 617.0,88.9 617.2,89.3 617.4,89.7 617.6,90.1 617.8,90.5 618.0,91.0 618.2,91.4 618.4,91.9 618.6,92.3 618.8,92.8 619.0,93.3 619.2,93.8 619.4,94.2 619.6,94.7 619.7,95.2 619.9,95.8 620.1,96.3 620.3,96.8 620.5,97.3 620.7,97.9 620.9,98.4 621.1,98.9 621.3,99.5 621.5,100.0 621.7,100.6 621.9,101.1 622.1,101.7 622.3,102.2 622.5,102.8 622.7,103.3 622.9,103.9 623.1,104.4 623.3,104.9 623.5,105.5 623.6,106.0 623.8,106.5 624.0,107.1 624.2,107.6 624.4,108.1 624.6,108.6 624.8,109.1 625.0,109.6 625.2,110.1 625.4,110.6 625.6,111.1 625.8,111.6 626.0,112.0 626.2,112.5 626.4,112.9 626.6,113.3 626.8,113.8 627.0,114.2 627.2,114.6 627.4,115.0 627.5,115.3 627.7,115.7 627.9,116.1 628.1,116.4 628.3,116.7 628.5,117.0 628.7,117.3 628.9,117.6 629.1,117.9 629.3,118.1 629.5,118.4 629.7,118.6 629.9,118.8 630.1,119.0 630.3,119.2 630.5,119.4 630.7,119.5 630.9,119.7 631.1,119.8 631.3,119.9 631.4,120.0 631.6,120.0 631.8,120.1 632.0,120.1 632.2,120.1 632.4,120.1 632.6,120.1 632.8,120.1 633.0,120.1 633.2,120.0 633.4,119.9 633.6,119.8 633.8,119.7 634.0,119.6 634.2,119.5 634.4,119.3 634.6,119.1 634.8,119.0 635.0,118.8 635.2,118.5 635.4,118.3 635.5,118.1 635.7,117.8 635.9,117.5 636.1,117.2 636.3,116.9 636.5,116.6 636.7,116.3 636.9,116.0 637.1,115.6 637.3,115.2 637.5,114.9 637.7,114.5 637.9,114.1 638.1,113.7 638.3,113.2 638.5,112.8 638.7,112.4 638.9,111.9 639.1,111.5 639.3,111.0 639.4,110.5 639.6,110.1 639.8,109.6 640.0,109.1 640.2,108.6 640.4,108.1 640.6,107.6 640.8,107.1 641.0,106.5 641.2,106.0 641.4,105.5 641.6,105.0 641.8,104.4 642.0,103.9 642.2,103.4 642.4,102.8 642.6,102.3 642.8,101.8 643.0,101.2 643.2,100.7 643.3,100.2 643.5,99.6 643.7,99.1 643.9,98.6 644.1,98.0 644.3,97.5 644.5,97.0 644.7,96.5 644.9,96.0 645.1,95.5 645.3,95.0 645.5,94.5 645.7,94.0 645.9,93.6 646.1,93.1 646.3,92.7 646.5,92.2 646.7,91.8 646.9,91.3 647.1,90.9 647.2,90.5 647.4,90.1 647.6,89.7 647.8,89.4 648.0,89.0 648.2,88.6 648.4,88.3 648.6,88.0 648.8,87.7 649.0,87.4 649.2,87.1 649.4,86.8 649.6,86.5 649.8,86.3 650.0,86.1 650.2,85.8 650.4,85.6 650.6,85.5 650.8,85.3 651.0,85.1 651.1,85.0 651.3,84.9 651.5,84.7 651.7,84.6 651.9,84.6 652.1,84.5 652.3,84.5 652.5,84.4 652.7,84.4 652.9,84.4 653.1,84.4 653.3,84.4 653.5,84.5 653.7,84.6 653.9,84.6 654.1,84.7 654.3,84.8 654.5,85.0 654.7,85.1 654.9,85.3 655.0,85.4 655.2,85.6 655.4,85.8 655.6,86.0 655.8,86.3 656.0,86.5 656.2,86.8 656.4,87.0 656.6,87.3 656.8,87.6 657.0,87.9 657.2,88.2 657.4,88.6 657.6,88.9 657.8,89.3 658.0,89.7 658.2,90.0 658.4,90.4 658.6,90.8 658.8,91.2 658.9,91.7 659.1,92.1 659.3,92.5 659.5,93.0 659.7,93.5 659.9,93.9 660.1,94.4 660.3,94.9 660.5,95.4 660.7,95.9 660.9,96.4 661.1,96.9 661.3,97.4 661.5,97.9 661.7,98.4 661.9,98.9 662.1,99.4 662.3,100.0 662.5,100.5 662.7,101.0 662.8,101.5 663.0,102.1 663.2,102.6 663.4,103.1 663.6,103.7 663.8,104.2 664.0,104.7 664.2,105.2 664.4,105.8 664.6,106.3 664.8,106.8 665.0,107.3 665.2,107.8 665.4,108.3 665.6,108.8 665.8,109.3 666.0,109.8 666.2,110.2 666.4,110.7 666.6,111.2 666.8,111.6 666.9,112.1 667.1,112.5 667.3,112.9 667.5,113.3 667.7,113.7 667.9,114.1 668.1,114.5 668.3,114.9 668.5,115.3 668.7,115.6 668.9,116.0 669.1,116.3 669.3,116.6 669.5,116.9 669.7,117.2 669.9,117.5 670.1,117.7 670.3,118.0 670.5,118.2 670.7,118.4 670.8,118.6 671.0,118.8 671.2,119.0 671.4,119.1 671.6,119.3 671.8,119.4 672.0,119.5 672.2,119.6 672.4,119.7 672.6,119.8 672.8,119.8 673.0,119.8 673.2,119.9 673.4,119.9 673.6,119.8 673.8,119.8 674.0,119.8 674.2,119.7 674.4,119.6 674.6,119.5 674.7,119.4 674.9,119.3 675.1,119.2 675.3,119.0 675.5,118.8 675.7,118.7 675.9,118.5 676.1,118.2 676.3,118.0 676.5,117.8 676.7,117.5 676.9,117.2 677.1,117.0 677.3,116.7 677.5,116.3 677.7,116.0 677.9,115.7 678.1,115.3 678.3,115.0 678.5,114.6 678.6,114.2 678.8,113.8 679.0,113.4 679.2,113.0 679.4,112.6 679.6,112.2 679.8,111.7 680.0,111.3 680.2,110.8 680.4,110.3 680.6,109.9 680.8,109.4 681.0,108.9 681.2,108.4 681.4,107.9 681.6,107.4 681.8,106.9 682.0,106.4 682.2,105.8 682.4,105.3 682.5,104.8 682.7,104.3 682.9,103.7 683.1,103.2 683.3,102.7 683.5,102.1 683.7,101.6 683.9,101.1 684.1,100.6 684.3,100.0 684.5,99.5 684.7,99.0 684.9,98.5 685.1,97.9 685.3,97.4 685.5,96.9 685.7,96.4 685.9,95.9 686.1,95.4 686.3,94.9 686.4,94.4 686.6,94.0 686.8,93.5 687.0,93.0 687.2,92.6 687.4,92.1 687.6,91.7 687.8,91.3 688.0,90.8 688.2,90.4 688.4,90.0 688.6,89.7 688.8,89.3 689.0,88.9 689.2,88.6 689.4,88.2 689.6,87.9 689.8,87.6 690.0,87.3 690.2,87.0 690.3,86.7 690.5,86.5 690.7,86.2 690.9,86.0 691.1,85.8 691.3,85.6 691.5,85.4 691.7,85.2 691.9,85.1 692.1,84.9 692.3,84.8 692.5,84.7 692.7,84.6 692.9,84.5 693.1,84.5 693.3,84.4 693.5,84.4 693.7,84.4 693.9,84.4 694.1,84.4 694.2,84.4 694.4,84.5 694.6,84.5 694.8,84.6 695.0,84.7 695.2,84.8 695.4,85.0 695.6,85.1 695.8,85.3 696.0,85.4 696.2,85.6 696.4,85.8 696.6,86.1 696.8,86.3 697.0,86.5 697.2,86.8 697.4,87.1 697.6,87.4 697.8,87.7 698.0,88.0 698.1,88.3" fill="none" stroke="#f90808" stroke-width="2.5" stroke-linejoin="round" stroke-linecap="round"/>
<polyline points="405.8,3.7 406.0,4.7 406.2,6.2 406.4,8.4 406.6,11.2 406.8,14.5 407.0,18.3 407.2,22.7 407.4,27.5 407.6,32.7 407.8,38.3 407.9,44.3 408.1,50.6 408.3,57.2 408.5,64.0 408.7,70.9 408.9,78.0 409.1,85.2 409.3,92.4 409.5,99.7 409.7,106.8 409.9,113.9 410.1,120.8 410.3,127.5 410.5,134.0 410.7,140.2 410.9,146.1 411.1,151.7 411.3,156.9 411.5,161.7 411.7,166.0 411.8,169.9 412.0,173.4 412.2,176.3 412.4,178.7 412.6,180.6 412.8,182.0 413.0,182.9 413.2,183.2 413.4,183.0 413.6,182.3 413.8,181.1 414.0,179.3 414.2,177.1 414.4,174.4 414.6,171.3 414.8,167.8 415.0,163.9 415.2,159.6 415.4,155.0 415.6,150.1 415.7,144.9 415.9,139.5 416.1,133.9 416.3,128.1 416.5,122.3 416.7,116.3 416.9,110.4 417.1,104.4 417.3,98.5 417.5,92.6 417.7,86.9 417.9,81.3 418.1,75.9 418.3,70.8 418.5,65.9 418.7,61.2 418.9,56.9 419.1,52.9 419.3,49.2 419.5,46.0 419.6,43.1 419.8,40.6 420.0,38.6 420.2,37.0 420.4,35.8 420.6,35.0 420.8,34.7 421.0,34.9 421.2,35.4 421.4,36.4 421.6,37.8 421.8,39.6 422.0,41.8 422.2,44.4 422.4,47.3 422.6,50.5 422.8,54.1 423.0,57.9 423.2,62.0 423.4,66.3 423.5,70.8 423.7,75.4 423.9,80.2 424.1,85.1 424.3,90.0 424.5,95.0 424.7,100.0 424.9,104.9 425.1,109.8 425.3,114.6 425.5,119.3 425.7,123.8 425.9,128.1 426.1,132.3 426.3,136.2 426.5,139.8 426.7,143.2 426.9,146.3 427.1,149.1 427.3,151.5 427.4,153.6 427.6,155.4 427.8,156.8 428.0,157.9 428.2,158.5 428.4,158.9 428.6,158.8 428.8,158.4 429.0,157.6 429.2,156.5 429.4,155.1 429.6,153.3 429.8,151.3 430.0,148.9 430.2,146.2 430.4,143.3 430.6,140.2 430.8,136.9 431.0,133.3 431.2,129.6 431.3,125.8 431.5,121.9 431.7,117.8 431.9,113.7 432.1,109.6 432.3,105.5 432.5,101.4 432.7,97.3 432.9,93.3 433.1,89.4 433.3,85.6 433.5,82.0 433.7,78.5 433.9,75.3 434.1,72.2 434.3,69.3 434.5,66.7 434.7,64.4 434.9,62.3 435.1,60.5 435.2,59.0 435.4,57.8 435.6,56.8 435.8,56.2 436.0,55.9 436.2,55.9 436.4,56.1 436.6,56.7 436.8,57.6 437.0,58.7 437.2,60.1 437.4,61.8 437.6,63.7 437.8,65.9 438.0,68.2 438.2,70.8 438.4,73.5 438.6,76.4 438.8,79.4 439.0,82.6 439.2,85.8 439.3,89.1 439.5,92.5 439.7,95.9 439.9,99.3 440.1,102.7 440.3,106.0 440.5,109.3 440.7,112.5 440.9,115.6 441.1,118.7 441.3,121.5 441.5,124.2 441.7,126.8 441.9,129.1 442.1,131.3 442.3,133.2 442.5,135.0 442.7,136.5 442.9,137.7 443.1,138.8 443.2,139.5 443.4,140.1 443.6,140.3 443.8,140.4 444.0,140.1 444.2,139.7 444.4,139.0 444.6,138.0 444.8,136.9 445.0,135.5 445.2,133.9 445.4,132.1 445.6,130.2 445.8,128.0 446.0,125.8 446.2,123.4 446.4,120.8 446.6,118.2 446.8,115.5 447.0,112.8 447.1,110.0 447.3,107.1 447.5,104.3 447.7,101.4 447.9,98.6 448.1,95.9 448.3,93.2 448.5,90.6 448.7,88.0 448.9,85.6 449.1,83.3 449.3,81.2 449.5,79.2 449.7,77.4 449.9,75.7 450.1,74.2 450.3,73.0 450.5,71.9 450.7,71.0 450.9,70.3 451.0,69.8 451.2,69.6 451.4,69.5 451.6,69.7 451.8,70.0 452.0,70.6 452.2,71.3 452.4,72.3 452.6,73.4 452.8,74.7 453.0,76.1 453.2,77.8 453.4,79.5 453.6,81.4 453.8,83.4 454.0,85.4 454.2,87.6 454.4,89.8 454.6,92.1 454.8,94.5 454.9,96.8 455.1,99.2 455.3,101.6 455.5,103.9 455.7,106.2 455.9,108.5 456.1,110.7 456.3,112.8 456.5,114.8 456.7,116.8 456.9,118.6 457.1,120.3 457.3,121.8 457.5,123.2 457.7,124.5 457.9,125.6 458.1,126.5 458.3,127.3 458.5,127.9 458.7,128.4 458.8,128.6 459.0,128.7 459.2,128.6 459.4,128.4 459.6,128.0 459.8,127.4 460.0,126.7 460.2,125.8 460.4,124.8 460.6,123.6 460.8,122.3 461.0,120.9 461.2,119.4 461.4,117.8 461.6,116.1 461.8,114.3 462.0,112.5 462.2,110.6 462.4,108.7 462.6,106.8 462.7,104.9 462.9,102.9 463.1,101.0 463.3,99.1 463.5,97.3 463.7,95.4 463.9,93.7 464.1,92.0 464.3,90.5 464.5,89.0 464.7,87.6 464.9,86.3 465.1,85.1 465.3,84.1 465.5,83.2 465.7,82.4 465.9,81.8 466.1,81.3 466.3,80.9 466.5,80.7 466.6,80.6 466.8,80.7 467.0,80.9 467.2,81.2 467.4,81.7 467.6,82.3 467.8,83.1 468.0,83.9 468.2,84.9 468.4,86.0 468.6,87.1 468.8,88.4 469.0,89.7 469.2,91.2 469.4,92.6 469.6,94.1 469.8,95.7 470.0,97.3 470.2,98.9 470.4,100.5 470.5,102.2 470.7,103.8 470.9,105.3 471.1,106.9 471.3,108.4 471.5,109.9 471.7,111.3 471.9,112.6 472.1,113.8 472.3,115.0 472.5,116.1 472.7,117.1 472.9,117.9 473.1,118.7 473.3,119.4 473.5,119.9 473.7,120.4 473.9,120.7 474.1,120.9 474.3,120.9 474.5,120.9 474.6,120.7 474.8,120.4 475.0,120.0 475.2,119.5 475.4,118.9 475.6,118.2 475.8,117.4 476.0,116.5 476.2,115.6 476.4,114.5 476.6,113.4 476.8,112.2 477.0,111.0 477.2,109.7 477.4,108.4 477.6,107.1 477.8,105.7 478.0,104.4 478.2,103.0 478.4,101.6 478.5,100.3 478.7,99.0 478.9,97.7 479.1,96.5 479.3,95.3 479.5,94.1 479.7,93.1 479.9,92.1 480.1,91.1 480.3,90.3 480.5,89.5 480.7,88.8 480.9,88.3 481.1,87.8 481.3,87.4 481.5,87.1 481.7,86.9 481.9,86.8 482.1,86.8 482.3,86.9 482.4,87.1 482.6,87.3 482.8,87.7 483.0,88.2 483.2,88.7 483.4,89.4 483.6,90.1 483.8,90.8 484.0,91.7 484.2,92.6 484.4,93.5 484.6,94.5 484.8,95.5 485.0,96.6 485.2,97.6 485.4,98.7 485.6,99.8 485.8,100.9 486.0,102.0 486.2,103.1 486.3,104.2 486.5,105.2 486.7,106.3 486.9,107.2 487.1,108.1 487.3,109.0 487.5,109.8 487.7,110.6 487.9,111.3 488.1,111.9 488.3,112.5 488.5,112.9 488.7,113.3 488.9,113.7 489.1,113.9 489.3,114.1 489.5,114.1 489.7,114.1 489.9,114.1 490.1,113.9 490.2,113.7 490.4,113.3 490.6,113.0 490.8,112.5 491.0,112.0 491.2,111.4 491.4,110.8 491.6,110.1 491.8,109.3 492.0,108.5 492.2,107.7 492.4,106.9 492.6,106.0 492.8,105.1 493.0,104.2 493.2,103.3 493.4,102.3 493.6,101.4 493.8,100.5 494.0,99.6 494.1,98.8 494.3,97.9 494.5,97.1 494.7,96.4 494.9,95.6 495.1,95.0 495.3,94.3 495.5,93.8 495.7,93.2 495.9,92.8 496.1,92.4 496.3,92.1 496.5,91.8 496.7,91.6 496.9,91.5 497.1,91.4 497.3,91.4 497.5,91.5 497.7,91.6 497.9,91.8 498.0,92.1 498.2,92.4 498.4,92.8 498.6,93.3 498.8,93.8 499.0,94.3 499.2,94.9 499.4,95.6 499.6,96.2 499.8,96.9 500.0,97.6 500.2,98.4 500.4,99.2 500.6,99.9 500.8,100.7 501.0,101.5 501.2,102.3 501.4,103.1 501.6,103.8 501.8,104.6 501.9,105.3 502.1,106.0 502.3,106.7 502.5,107.3 502.7,107.9 502.9,108.5 503.1,109.0 503.3,109.4 503.5,109.9 503.7,110.2 503.9,110.5 504.1,110.8 504.3,111.0 504.5,111.1 504.7,111.2 504.9,111.2 505.1,111.2 505.3,111.1 505.5,111.0 505.7,110.8 505.9,110.5 506.0,110.3 506.2,109.9 506.4,109.5 506.6,109.1 506.8,108.7 507.0,108.2 507.2,107.6 507.4,107.1 507.6,106.5 507.8,105.9 508.0,105.3 508.2,104.7 508.4,104.0 508.6,103.4 508.8,102.8 509.0,102.2 509.2,101.5 509.4,100.9 509.6,100.3 509.8,99.8 509.9,99.2 510.1,98.7 510.3,98.2 510.5,97.8 510.7,97.4 510.9,97.0 511.1,96.7 511.3,96.4 511.5,96.1 511.7,95.9 511.9,95.7 512.1,95.6 512.3,95.5 512.5,95.5 512.7,95.5 512.9,95.6 513.1,95.7 513.3,95.9 513.5,96.1 513.7,96.3 513.8,96.6 514.0,96.9 514.2,97.2 514.4,97.6 514.6,98.0 514.8,98.5 515.0,98.9 515.2,99.4 515.4,99.9 515.6,100.4 515.8,100.9 516.0,101.4 516.2,101.9 516.4,102.4 516.6,102.9 516.8,103.4 517.0,103.9 517.2,104.4 517.4,104.9 517.6,105.3 517.7,105.7 517.9,106.1 518.1,106.5 518.3,106.8 518.5,107.1 518.7,107.4 518.9,107.6 519.1,107.8 519.3,107.9 519.5,108.1 519.7,108.1 519.9,108.2 520.1,108.2 520.3,108.1 520.5,108.1 520.7,108.0 520.9,107.8 521.1,107.6 521.3,107.4 521.5,107.2 521.6,106.9 521.8,106.6 522.0,106.2 522.2,105.9 522.4,105.5 522.6,105.1 522.8,104.7 523.0,104.3 523.2,103.8 523.4,103.4 523.6,102.9 523.8,102.5 524.0,102.0 524.2,101.5 524.4,101.1 524.6,100.7 524.8,100.2 525.0,99.8 525.2,99.4 525.4,99.1 525.5,98.7 525.7,98.4 525.9,98.1 526.1,97.8 526.3,97.5 526.5,97.3 526.7,97.1 526.9,97.0 527.1,96.8 527.3,96.7 527.5,96.7 527.7,96.7 527.9,96.7 528.1,96.7 528.3,96.8 528.5,96.9 528.7,97.0 528.9,97.1 529.1,97.3 529.3,97.5 529.4,97.8 529.6,98.0 529.8,98.3 530.0,98.6 530.2,98.9 530.4,99.2 530.6,99.6 530.8,99.9 531.0,100.3 531.2,100.6 531.4,101.0 531.6,101.4 531.8,101.7 532.0,102.1 532.2,102.5 532.4,102.8 532.6,103.1 532.8,103.5 533.0,103.8 533.2,104.1 533.3,104.3 533.5,104.6 533.7,104.8 533.9,105.0 534.1,105.2 534.3,105.4 534.5,105.5 534.7,105.6 534.9,105.7 535.1,105.8 535.3,105.8 535.5,105.8 535.7,105.8 535.9,105.7 536.1,105.7 536.3,105.6 536.5,105.5 536.7,105.3 536.9,105.2 537.1,105.0 537.3,104.8 537.4,104.6 537.6,104.3 537.8,104.1 538.0,103.8 538.2,103.6 538.4,103.3 538.6,103.0 538.8,102.7 539.0,102.4 539.2,102.2 539.4,101.9 539.6,101.6 539.8,101.3 540.0,101.1 540.2,100.8 540.4,100.6 540.6,100.3 540.8,100.1 541.0,99.9 541.2,99.7 541.3,99.5 541.5,99.4 541.7,99.3 541.9,99.1 542.1,99.1 542.3,99.0 542.5,98.9 542.7,98.9 542.9,98.9 543.1,98.9 543.3,99.0 543.5,99.0 543.7,99.1 543.9,99.2 544.1,99.3 544.3,99.5 544.5,99.6 544.7,99.8 544.9,100.0 545.1,100.2 545.2,100.4 545.4,100.6 545.6,100.9 545.8,101.1 546.0,101.4 546.2,101.6 546.4,101.9 546.6,102.2 546.8,102.4 547.0,102.7 547.2,102.9 547.4,103.2 547.6,103.4 547.8,103.7 548.0,103.9 548.2,104.1 548.4,104.3 548.6,104.5 548.8,104.7 549.0,104.9 549.1,105.0 549.3,105.2 549.5,105.3 549.7,105.4 549.9,105.5 550.1,105.5 550.3,105.6 550.5,105.6 550.7,105.6 550.9,105.6 551.1,105.5 551.3,105.5 551.5,105.4 551.7,105.3 551.9,105.2 552.1,105.1 552.3,105.0 552.5,104.8 552.7,104.7 552.9,104.5 553.0,104.3 553.2,104.1 553.4,103.9 553.6,103.7 553.8,103.5 554.0,103.3 554.2,103.1 554.4,102.9 554.6,102.7 554.8,102.4 555.0,102.2 555.2,102.0 555.4,101.8 555.6,101.6 555.8,101.4 556.0,101.3 556.2,101.1 556.4,100.9 556.6,100.8 556.8,100.7 556.9,100.5 557.1,100.4 557.3,100.3 557.5,100.2 557.7,100.2 557.9,100.1 558.1,100.1 558.3,100.1 558.5,100.1 558.7,100.1 558.9,100.1 559.1,100.2 559.3,100.2 559.5,100.3 559.7,100.3 559.9,100.4 560.1,100.5 560.3,100.6 560.5,100.8 560.7,100.9 560.8,101.0 561.0,101.2 561.2,101.3 561.4,101.5 561.6,101.6 561.8,101.8 562.0,101.9 562.2,102.1 562.4,102.2 562.6,102.4 562.8,102.5 563.0,102.7 563.2,102.8 563.4,102.9 563.6,103.1 563.8,103.2 564.0,103.3 564.2,103.4 564.4,103.5 564.6,103.5 564.7,103.6 564.9,103.6 565.1,103.7 565.3,103.7 565.5,103.7 565.7,103.7 565.9,103.7 566.1,103.7 566.3,103.7 566.5,103.6 566.7,103.6 566.9,103.5 567.1,103.4 567.3,103.3 567.5,103.2 567.7,103.1 567.9,103.0 568.1,102.9 568.3,102.8 568.5,102.6 568.7,102.5 568.8,102.3 569.0,102.2 569.2,102.0 569.4,101.9 569.6,101.7 569.8,101.6 570.0,101.4 570.2,101.3 570.4,101.2 570.6,101.0 570.8,100.9 571.0,100.8 571.2,100.6 571.4,100.5 571.6,100.4 571.8,100.3 572.0,100.3 572.2,100.2 572.4,100.1 572.6,100.1 572.7,100.0 572.9,100.0 573.1,100.0 573.3,99.9 573.5,99.9 573.7,100.0 573.9,100.0 574.1,100.0 574.3,100.1 574.5,100.1 574.7,100.2 574.9,100.2 575.1,100.3 575.3,100.4 575.5,100.5 575.7,100.6 575.9,100.7 576.1,100.8 576.3,101.0 576.5,101.1 576.6,101.2 576.8,101.3 577.0,101.5 577.2,101.6 577.4,101.7 577.6,101.9 577.8,102.0 578.0,102.1 578.2,102.2 578.4,102.4 578.6,102.5 578.8,102.6 579.0,102.7 579.2,102.8 579.4,102.9 579.6,103.0 579.8,103.1 580.0,103.2 580.2,103.2 580.4,103.3 580.5,103.3 580.7,103.4 580.9,103.4 581.1,103.4 581.3,103.4 581.5,103.4 581.7,103.4 581.9,103.4 582.1,103.4 582.3,103.4 582.5,103.4 582.7,103.3 582.9,103.3 583.1,103.2 583.3,103.2 583.5,103.1 583.7,103.0 583.9,103.0 584.1,102.9 584.3,102.8 584.4,102.7 584.6,102.6 584.8,102.6 585.0,102.5 585.2,102.4 585.4,102.3 585.6,102.2 585.8,102.2 586.0,102.1 586.2,102.0 586.4,101.9 586.6,101.9 586.8,101.8 587.0,101.8 587.2,101.7 587.4,101.7 587.6,101.6 587.8,101.6 588.0,101.6 588.2,101.6 588.3,101.6 588.5,101.6 588.7,101.6 588.9,101.6 589.1,101.6 589.3,101.6 589.5,101.6 589.7,101.7 589.9,101.7 590.1,101.8 590.3,101.8 590.5,101.9 590.7,101.9 590.9,102.0 591.1,102.1 591.3,102.2 591.5,102.2 591.7,102.3 591.9,102.4 592.1,102.5 592.2,102.5 592.4,102.6 592.6,102.7 592.8,102.8 593.0,102.9 593.2,102.9 593.4,103.0 593.6,103.1 593.8,103.2 594.0,103.2 594.2,103.3 594.4,103.3 594.6,103.4 594.8,103.4 595.0,103.5 595.2,103.5 595.4,103.5 595.6,103.5 595.8,103.6 596.0,103.6 596.1,103.6 596.3,103.6 596.5,103.5 596.7,103.5 596.9,103.5 597.1,103.5 597.3,103.4 597.5,103.4 597.7,103.3 597.9,103.3 598.1,103.2 598.3,103.2 598.5,103.1 598.7,103.0 598.9,103.0 599.1,102.9 599.3,102.8 599.5,102.7 599.7,102.6 599.9,102.6 600.0,102.5 600.2,102.4 600.4,102.3 600.6,102.2 600.8,102.1 601.0,102.1 601.2,102.0 601.4,101.9 601.6,101.8 601.8,101.7 602.0,101.7 602.2,101.6 602.4,101.6 602.6,101.5 602.8,101.4 603.0,101.4 603.2,101.4 603.4,101.3 603.6,101.3 603.8,101.3 604.0,101.2 604.1,101.2 604.3,101.2 604.5,101.2 604.7,101.2 604.9,101.2 605.1,101.2 605.3,101.2 605.5,101.2 605.7,101.2 605.9,101.3 606.1,101.3 606.3,101.3 606.5,101.4 606.7,101.4 606.9,101.4 607.1,101.5 607.3,101.5 607.5,101.6 607.7,101.6 607.9,101.6 608.0,101.7 608.2,101.7 608.4,101.8 608.6,101.8 608.8,101.9 609.0,101.9 609.2,101.9 609.4,102.0 609.6,102.0 609.8,102.0 610.0,102.1 610.2,102.1 610.4,102.1 610.6,102.1 610.8,102.2 611.0,102.2 611.2,102.2 611.4,102.2 611.6,102.2 611.8,102.2 611.9,102.2 612.1,102.2 612.3,102.2 612.5,102.1 612.7,102.1 612.9,102.1 613.1,102.1 613.3,102.1 613.5,102.0 613.7,102.0 613.9,102.0 614.1,101.9 614.3,101.9 614.5,101.8 614.7,101.8 614.9,101.8 615.1,101.7 615.3,101.7 615.5,101.7 615.7,101.6 615.8,101.6 616.0,101.5 616.2,101.5 616.4,101.5 616.6,101.4 616.8,101.4 617.0,101.4 617.2,101.4 617.4,101.3 617.6,101.3 617.8,101.3 618.0,101.3 618.2,101.3 618.4,101.3 618.6,101.3 618.8,101.3 619.0,101.3 619.2,101.3 619.4,101.3 619.6,101.3 619.7,101.4 619.9,101.4 620.1,101.4 620.3,101.4 620.5,101.5 620.7,101.5 620.9,101.6 621.1,101.6 621.3,101.7 621.5,101.7 621.7,101.8 621.9,101.8 622.1,101.9 622.3,101.9 622.5,102.0 622.7,102.0 622.9,102.1 623.1,102.1 623.3,102.2 623.5,102.3 623.6,102.3 623.8,102.4 624.0,102.4 624.2,102.5 624.4,102.5 624.6,102.6 624.8,102.6 625.0,102.7 625.2,102.7 625.4,102.7 625.6,102.8 625.8,102.8 626.0,102.8 626.2,102.9 626.4,102.9 626.6,102.9 626.8,102.9 627.0,103.0 627.2,103.0 627.4,103.0 627.5,103.0 627.7,103.0 627.9,103.0 628.1,103.0 628.3,103.0 628.5,103.0 628.7,103.0 628.9,103.0 629.1,102.9 629.3,102.9 629.5,102.9 629.7,102.9 629.9,102.9 630.1,102.8 630.3,102.8 630.5,102.8 630.7,102.8 630.9,102.7 631.1,102.7 631.3,102.7 631.4,102.7 631.6,102.6 631.8,102.6 632.0,102.6 632.2,102.6 632.4,102.5 632.6,102.5 632.8,102.5 633.0,102.5 633.2,102.5 633.4,102.4 633.6,102.4 633.8,102.4 634.0,102.4 634.2,102.4 634.4,102.4 634.6,102.4 634.8,102.4 635.0,102.4 635.2,102.4 635.4,102.4 635.5,102.4 635.7,102.4 635.9,102.4 636.1,102.4 636.3,102.4 636.5,102.4 636.7,102.4 636.9,102.4 637.1,102.4 637.3,102.5 637.5,102.5 637.7,102.5 637.9,102.5 638.1,102.5 638.3,102.5 638.5,102.5 638.7,102.5 638.9,102.6 639.1,102.6 639.3,102.6 639.4,102.6 639.6,102.6 639.8,102.6 640.0,102.6 640.2,102.6 640.4,102.6 640.6,102.6 640.8,102.6 641.0,102.6 641.2,102.6 641.4,102.6 641.6,102.6 641.8,102.6 642.0,102.6 642.2,102.5 642.4,102.5 642.6,102.5 642.8,102.5 643.0,102.5 643.2,102.4 643.3,102.4 643.5,102.4 643.7,102.3 643.9,102.3 644.1,102.3 644.3,102.2 644.5,102.2 644.7,102.2 644.9,102.1 645.1,102.1 645.3,102.1 645.5,102.0 645.7,102.0 645.9,101.9 646.1,101.9 646.3,101.9 646.5,101.8 646.7,101.8 646.9,101.7 647.1,101.7 647.2,101.7 647.4,101.6 647.6,101.6 647.8,101.6 648.0,101.6 648.2,101.5 648.4,101.5 648.6,101.5 648.8,101.5 649.0,101.4 649.2,101.4 649.4,101.4 649.6,101.4 649.8,101.4 650.0,101.4 650.2,101.4 650.4,101.4 650.6,101.4 650.8,101.4 651.0,101.4 651.1,101.4 651.3,101.4 651.5,101.4 651.7,101.4 651.9,101.4 652.1,101.4 652.3,101.4 652.5,101.4 652.7,101.4 652.9,101.5 653.1,101.5 653.3,101.5 653.5,101.5 653.7,101.5 653.9,101.6 654.1,101.6 654.3,101.6 654.5,101.6 654.7,101.6 654.9,101.7 655.0,101.7 655.2,101.7 655.4,101.7 655.6,101.7 655.8,101.7 656.0,101.8 656.2,101.8 656.4,101.8 656.6,101.8 656.8,101.8 657.0,101.8 657.2,101.9 657.4,101.9 657.6,101.9 657.8,101.9 658.0,101.9 658.2,101.9 658.4,101.9 658.6,101.9 658.8,101.9 658.9,101.9 659.1,101.9 659.3,101.9 659.5,101.9 659.7,101.9 659.9,101.9 660.1,101.9 660.3,101.9 660.5,102.0 660.7,102.0 660.9,102.0 661.1,102.0 661.3,102.0 661.5,102.0 661.7,102.0 661.9,102.0 662.1,102.0 662.3,102.0 662.5,102.0 662.7,102.0 662.8,102.0 663.0,102.0 663.2,102.0 663.4,102.0 663.6,102.0 663.8,102.0 664.0,102.0 664.2,102.1 664.4,102.1 664.6,102.1 664.8,102.1 665.0,102.1 665.2,102.1 665.4,102.2 665.6,102.2 665.8,102.2 666.0,102.2 666.2,102.2 666.4,102.3 666.6,102.3 666.8,102.3 666.9,102.3 667.1,102.4 667.3,102.4 667.5,102.4 667.7,102.4 667.9,102.5 668.1,102.5 668.3,102.5 668.5,102.5 668.7,102.6 668.9,102.6 669.1,102.6 669.3,102.6 669.5,102.7 669.7,102.7 669.9,102.7 670.1,102.7 670.3,102.7 670.5,102.8 670.7,102.8 670.8,102.8 671.0,102.8 671.2,102.8 671.4,102.8 671.6,102.9 671.8,102.9 672.0,102.9 672.2,102.9 672.4,102.9 672.6,102.9 672.8,102.9 673.0,102.9 673.2,102.9 673.4,102.9 673.6,102.9 673.8,102.9 674.0,102.9 674.2,102.9 674.4,102.9 674.6,102.9 674.7,102.8 674.9,102.8 675.1,102.8 675.3,102.8 675.5,102.8 675.7,102.8 675.9,102.8 676.1,102.7 676.3,102.7 676.5,102.7 676.7,102.7 676.9,102.7 677.1,102.7 677.3,102.6 677.5,102.6 677.7,102.6 677.9,102.6 678.1,102.6 678.3,102.5 678.5,102.5 678.6,102.5 678.8,102.5 679.0,102.5 679.2,102.4 679.4,102.4 679.6,102.4 679.8,102.4 680.0,102.4 680.2,102.4 680.4,102.3 680.6,102.3 680.8,102.3 681.0,102.3 681.2,102.3 681.4,102.3 681.6,102.3 681.8,102.2 682.0,102.2 682.2,102.2 682.4,102.2 682.5,102.2 682.7,102.2 682.9,102.2 683.1,102.2 683.3,102.2 683.5,102.2 683.7,102.1 683.9,102.1 684.1,102.1 684.3,102.1 684.5,102.1 684.7,102.1 684.9,102.1 685.1,102.1 685.3,102.1 685.5,102.1 685.7,102.0 685.9,102.0 686.1,102.0 686.3,102.0 686.4,102.0 686.6,102.0 686.8,102.0 687.0,102.0 687.2,101.9 687.4,101.9 687.6,101.9 687.8,101.9 688.0,101.9 688.2,101.9 688.4,101.9 688.6,101.8 688.8,101.8 689.0,101.8 689.2,101.8 689.4,101.8 689.6,101.8 689.8,101.8 690.0,101.7 690.2,101.7 690.3,101.7 690.5,101.7 690.7,101.7 690.9,101.7 691.1,101.6 691.3,101.6 691.5,101.6 691.7,101.6 691.9,101.6 692.1,101.6 692.3,101.6 692.5,101.5 692.7,101.5 692.9,101.5 693.1,101.5 693.3,101.5 693.5,101.5 693.7,101.5 693.9,101.5 694.1,101.5 694.2,101.5 694.4,101.5 694.6,101.5 694.8,101.5 695.0,101.5 695.2,101.5 695.4,101.5 695.6,101.5 695.8,101.5 696.0,101.5 696.2,101.5 696.4,101.5 696.6,101.5 696.8,101.5 697.0,101.5 697.2,101.5 697.4,101.6 697.6,101.6 697.8,101.6 698.0,101.6 698.1,101.6" fill="none" stroke="#1410ec" stroke-width="2.5" stroke-linejoin="round" stroke-linecap="round"/>
</g>
<g clip-path="url(#clipc)">
<polyline points="240.1,225.6 240.3,226.5 240.5,228.1 240.7,230.2 240.9,232.8 241.0,236.1 241.2,239.8 241.4,244.0 241.6,248.6 241.8,253.7 242.0,259.2 242.2,265.0 242.4,271.1 242.6,277.5 242.8,284.0 242.9,290.8 243.1,297.7 243.3,304.6 243.5,311.6 243.7,318.6 243.9,325.6 244.1,332.4 244.3,339.1 244.5,345.6 244.6,351.9 244.8,357.9 245.0,363.7 245.2,369.1 245.4,374.1 245.6,378.8 245.8,383.0 246.0,386.8 246.2,390.1 246.4,392.9 246.5,395.3 246.7,397.2 246.9,398.5 247.1,399.3 247.3,399.6 247.5,399.4 247.7,398.7 247.9,397.6 248.1,395.9 248.2,393.7 248.4,391.1 248.6,388.1 248.8,384.7 249.0,380.9 249.2,376.7 249.4,372.3 249.6,367.5 249.8,362.5 250.0,357.2 250.1,351.8 250.3,346.2 250.5,340.6 250.7,334.8 250.9,329.0 251.1,323.2 251.3,317.5 251.5,311.8 251.7,306.3 251.8,300.9 252.0,295.6 252.2,290.6 252.4,285.9 252.6,281.4 252.8,277.2 253.0,273.3 253.2,269.8 253.4,266.6 253.5,263.8 253.7,261.4 253.9,259.4 254.1,257.8 254.3,256.7 254.5,256.0 254.7,255.7 254.9,255.8 255.1,256.4 255.3,257.3 255.4,258.7 255.6,260.4 255.8,262.6 256.0,265.1 256.2,267.9 256.4,271.0 256.6,274.5 256.8,278.2 257.0,282.1 257.1,286.3 257.3,290.6 257.5,295.1 257.7,299.8 257.9,304.5 258.1,309.3 258.3,314.1 258.5,318.9 258.7,323.7 258.9,328.5 259.0,333.1 259.2,337.6 259.4,342.0 259.6,346.2 259.8,350.2 260.0,354.0 260.2,357.6 260.4,360.8 260.6,363.8 260.7,366.5 260.9,368.9 261.1,371.0 261.3,372.7 261.5,374.0 261.7,375.1 261.9,375.7 262.1,376.0 262.3,376.0 262.5,375.6 262.6,374.9 262.8,373.8 263.0,372.4 263.2,370.7 263.4,368.7 263.6,366.4 263.8,363.8 264.0,361.0 264.2,357.9 264.3,354.7 264.5,351.3 264.7,347.7 264.9,344.0 265.1,340.2 265.3,336.2 265.5,332.3 265.7,328.3 265.9,324.3 266.1,320.3 266.2,316.3 266.4,312.5 266.6,308.7 266.8,305.0 267.0,301.5 267.2,298.2 267.4,295.0 267.6,292.0 267.8,289.2 267.9,286.7 268.1,284.4 268.3,282.4 268.5,280.7 268.7,279.2 268.9,278.0 269.1,277.1 269.3,276.5 269.5,276.2 269.7,276.2 269.8,276.4 270.0,277.0 270.2,277.8 270.4,278.9 270.6,280.3 270.8,281.9 271.0,283.8 271.2,285.9 271.4,288.1 271.5,290.6 271.7,293.3 271.9,296.1 272.1,299.0 272.3,302.0 272.5,305.2 272.7,308.4 272.9,311.7 273.1,315.0 273.2,318.3 273.4,321.5 273.6,324.7 273.8,327.9 274.0,331.0 274.2,334.0 274.4,336.9 274.6,339.7 274.8,342.3 275.0,344.8 275.1,347.0 275.3,349.1 275.5,351.0 275.7,352.7 275.9,354.2 276.1,355.4 276.3,356.4 276.5,357.2 276.7,357.8 276.8,358.1 277.0,358.1 277.2,357.9 277.4,357.5 277.6,356.9 277.8,356.0 278.0,354.9 278.2,353.6 278.4,352.1 278.6,350.5 278.7,348.6 278.9,346.6 279.1,344.5 279.3,342.2 279.5,339.8 279.7,337.3 279.9,334.7 280.1,332.1 280.3,329.4 280.4,326.7 280.6,323.9 280.8,321.2 281.0,318.5 281.2,315.8 281.4,313.2 281.6,310.6 281.8,308.2 282.0,305.8 282.2,303.6 282.3,301.5 282.5,299.5 282.7,297.7 282.9,296.0 283.1,294.5 283.3,293.2 283.5,292.1 283.7,291.2 283.9,290.4 284.0,289.9 284.2,289.6 284.4,289.4 284.6,289.5 284.8,289.7 285.0,290.2 285.2,290.8 285.4,291.6 285.6,292.6 285.8,293.8 285.9,295.1 286.1,296.6 286.3,298.2 286.5,299.9 286.7,301.8 286.9,303.7 287.1,305.8 287.3,307.9 287.5,310.1 287.6,312.3 287.8,314.6 288.0,316.9 288.2,319.1 288.4,321.4 288.6,323.7 288.8,325.9 289.0,328.0 289.2,330.1 289.4,332.1 289.5,334.0 289.7,335.8 289.9,337.5 290.1,339.1 290.3,340.6 290.5,341.9 290.7,343.1 290.9,344.1 291.1,344.9 291.2,345.6 291.4,346.2 291.6,346.6 291.8,346.8 292.0,346.8 292.2,346.7 292.4,346.4 292.6,346.0 292.8,345.4 292.9,344.7 293.1,343.8 293.3,342.8 293.5,341.6 293.7,340.4 293.9,339.0 294.1,337.5 294.3,335.9 294.5,334.3 294.7,332.6 294.8,330.8 295.0,329.0 295.2,327.2 295.4,325.3 295.6,323.5 295.8,321.6 296.0,319.8 296.2,317.9 296.4,316.2 296.5,314.4 296.7,312.8 296.9,311.2 297.1,309.6 297.3,308.2 297.5,306.9 297.7,305.7 297.9,304.5 298.1,303.5 298.3,302.7 298.4,301.9 298.6,301.3 298.8,300.8 299.0,300.5 299.2,300.3 299.4,300.2 299.6,300.2 299.8,300.4 300.0,300.8 300.1,301.2 300.3,301.8 300.5,302.5 300.7,303.3 300.9,304.2 301.1,305.3 301.3,306.4 301.5,307.6 301.7,308.9 301.9,310.2 302.0,311.6 302.2,313.1 302.4,314.6 302.6,316.1 302.8,317.6 303.0,319.2 303.2,320.8 303.4,322.3 303.6,323.8 303.7,325.3 303.9,326.8 304.1,328.2 304.3,329.6 304.5,330.9 304.7,332.1 304.9,333.2 305.1,334.3 305.3,335.3 305.5,336.1 305.6,336.9 305.8,337.6 306.0,338.1 306.2,338.6 306.4,338.9 306.6,339.1 306.8,339.2 307.0,339.2 307.2,339.1 307.3,338.9 307.5,338.5 307.7,338.1 307.9,337.5 308.1,336.9 308.3,336.1 308.5,335.3 308.7,334.4 308.9,333.4 309.1,332.4 309.2,331.3 309.4,330.1 309.6,328.9 309.8,327.7 310.0,326.4 310.2,325.1 310.4,323.8 310.6,322.5 310.8,321.2 310.9,319.9 311.1,318.6 311.3,317.3 311.5,316.1 311.7,314.9 311.9,313.8 312.1,312.7 312.3,311.7 312.5,310.8 312.7,309.9 312.8,309.1 313.0,308.4 313.2,307.8 313.4,307.3 313.6,306.9 313.8,306.5 314.0,306.3 314.2,306.1 314.4,306.1 314.5,306.1 314.7,306.3 314.9,306.5 315.1,306.8 315.3,307.2 315.5,307.7 315.7,308.3 315.9,309.0 316.1,309.7 316.2,310.5 316.4,311.3 316.6,312.2 316.8,313.1 317.0,314.1 317.2,315.1 317.4,316.1 317.6,317.2 317.8,318.3 318.0,319.3 318.1,320.4 318.3,321.5 318.5,322.5 318.7,323.5 318.9,324.5 319.1,325.5 319.3,326.4 319.5,327.3 319.7,328.1 319.8,328.9 320.0,329.6 320.2,330.2 320.4,330.8 320.6,331.3 320.8,331.7 321.0,332.1 321.2,332.3 321.4,332.5 321.6,332.7 321.7,332.7 321.9,332.6 322.1,332.5 322.3,332.3 322.5,332.1 322.7,331.7 322.9,331.3 323.1,330.8 323.3,330.3 323.4,329.7 323.6,329.1 323.8,328.4 324.0,327.6 324.2,326.9 324.4,326.0 324.6,325.2 324.8,324.3 325.0,323.5 325.2,322.6 325.3,321.7 325.5,320.8 325.7,319.9 325.9,319.1 326.1,318.2 326.3,317.4 326.5,316.6 326.7,315.8 326.9,315.1 327.0,314.4 327.2,313.8 327.4,313.2 327.6,312.7 327.8,312.2 328.0,311.8 328.2,311.4 328.4,311.2 328.6,310.9 328.8,310.8 328.9,310.7 329.1,310.7 329.3,310.7 329.5,310.8 329.7,311.0 329.9,311.2 330.1,311.5 330.3,311.9 330.5,312.3 330.6,312.7 330.8,313.2 331.0,313.8 331.2,314.4 331.4,315.0 331.6,315.7 331.8,316.4 332.0,317.1 332.2,317.8 332.4,318.6 332.5,319.3 332.7,320.1 332.9,320.8 333.1,321.6 333.3,322.3 333.5,323.1 333.7,323.8 333.9,324.5 334.1,325.1 334.2,325.8 334.4,326.4 334.6,326.9 334.8,327.4 335.0,327.9 335.2,328.3 335.4,328.7 335.6,329.0 335.8,329.3 335.9,329.5 336.1,329.7 336.3,329.8 336.5,329.9 336.7,329.9 336.9,329.8 337.1,329.7 337.3,329.5 337.5,329.3 337.7,329.1 337.8,328.8 338.0,328.4 338.2,328.0 338.4,327.6 338.6,327.1 338.8,326.6 339.0,326.1 339.2,325.6 339.4,325.0 339.5,324.4 339.7,323.8 339.9,323.2 340.1,322.6 340.3,322.0 340.5,321.4 340.7,320.8 340.9,320.2 341.1,319.6 341.3,319.0 341.4,318.5 341.6,318.0 341.8,317.5 342.0,317.0 342.2,316.6 342.4,316.2 342.6,315.9 342.8,315.6 343.0,315.3 343.1,315.1 343.3,314.9 343.5,314.8 343.7,314.7 343.9,314.6 344.1,314.6 344.3,314.7 344.5,314.8 344.7,314.9 344.9,315.1 345.0,315.3 345.2,315.6 345.4,315.9 345.6,316.2 345.8,316.6 346.0,316.9 346.2,317.3 346.4,317.8 346.6,318.2 346.7,318.7 346.9,319.1 347.1,319.6 347.3,320.1 347.5,320.6 347.7,321.1 347.9,321.5 348.1,322.0 348.3,322.5 348.5,322.9 348.6,323.3 348.8,323.7 349.0,324.1 349.2,324.5 349.4,324.8 349.6,325.1 349.8,325.4 350.0,325.7 350.2,325.9 350.3,326.1 350.5,326.2 350.7,326.4 350.9,326.5 351.1,326.5 351.3,326.5 351.5,326.5 351.7,326.4 351.9,326.4 352.1,326.2 352.2,326.1 352.4,325.9 352.6,325.7 352.8,325.4 353.0,325.2 353.2,324.9 353.4,324.6 353.6,324.2 353.8,323.9 353.9,323.5 354.1,323.1 354.3,322.7 354.5,322.3 354.7,321.9 354.9,321.5 355.1,321.1 355.3,320.7 355.5,320.3 355.7,319.8 355.8,319.5 356.0,319.1 356.2,318.7 356.4,318.3 356.6,318.0 356.8,317.7 357.0,317.4 357.2,317.1 357.4,316.8 357.5,316.6 357.7,316.4 357.9,316.2 358.1,316.1 358.3,315.9 358.5,315.9 358.7,315.8 358.9,315.8 359.1,315.8 359.2,315.8 359.4,315.9 359.6,316.0 359.8,316.1 360.0,316.2 360.2,316.4 360.4,316.6 360.6,316.8 360.8,317.1 361.0,317.4 361.1,317.7 361.3,318.0 361.5,318.3 361.7,318.6 361.9,319.0 362.1,319.4 362.3,319.7 362.5,320.1 362.7,320.5 362.8,320.9 363.0,321.2 363.2,321.6 363.4,322.0 363.6,322.3 363.8,322.7 364.0,323.0 364.2,323.3 364.4,323.6 364.6,323.9 364.7,324.1 364.9,324.4 365.1,324.6 365.3,324.8 365.5,324.9 365.7,325.0 365.9,325.1 366.1,325.2 366.3,325.3 366.4,325.3 366.6,325.2 366.8,325.2 367.0,325.1 367.2,325.0 367.4,324.9 367.6,324.7 367.8,324.5 368.0,324.3 368.2,324.1 368.3,323.9 368.5,323.6 368.7,323.3 368.9,323.0 369.1,322.7 369.3,322.3 369.5,322.0 369.7,321.7 369.9,321.3 370.0,321.0 370.2,320.6 370.4,320.3 370.6,319.9 370.8,319.6 371.0,319.3 371.2,319.0 371.4,318.7 371.6,318.4 371.8,318.1 371.9,317.9 372.1,317.6 372.3,317.5 372.5,317.3 372.7,317.1 372.9,317.0 373.1,316.9 373.3,316.9 373.5,316.8 373.6,316.8 373.8,316.8 374.0,316.9 374.2,317.0 374.4,317.1 374.6,317.2 374.8,317.4 375.0,317.6 375.2,317.8 375.4,318.0 375.5,318.2 375.7,318.5 375.9,318.8 376.1,319.1 376.3,319.4 376.5,319.7 376.7,320.1 376.9,320.4 377.1,320.8 377.2,321.1 377.4,321.4 377.6,321.8 377.8,322.1 378.0,322.4 378.2,322.8 378.4,323.1 378.6,323.4 378.8,323.7 378.9,323.9 379.1,324.2 379.3,324.4 379.5,324.6 379.7,324.8 379.9,324.9 380.1,325.1 380.3,325.2 380.5,325.2 380.7,325.3 380.8,325.3 381.0,325.3 381.2,325.3 381.4,325.3 381.6,325.2 381.8,325.1 382.0,325.0 382.2,324.9 382.4,324.7 382.5,324.6 382.7,324.4 382.9,324.2 383.1,324.0 383.3,323.7 383.5,323.5 383.7,323.2 383.9,323.0 384.1,322.7 384.3,322.4 384.4,322.2 384.6,321.9 384.8,321.7 385.0,321.4 385.2,321.1 385.4,320.9 385.6,320.7 385.8,320.4 386.0,320.2 386.1,320.0 386.3,319.8 386.5,319.6 386.7,319.5 386.9,319.3 387.1,319.2 387.3,319.1 387.5,319.0 387.7,318.9 387.9,318.9 388.0,318.8 388.2,318.8 388.4,318.8 388.6,318.8 388.8,318.8 389.0,318.9 389.2,318.9 389.4,319.0 389.6,319.1 389.7,319.2 389.9,319.3 390.1,319.4 390.3,319.5 390.5,319.6 390.7,319.8 390.9,319.9 391.1,320.0 391.3,320.2 391.5,320.3 391.6,320.5 391.8,320.6 392.0,320.8 392.2,320.9 392.4,321.0 392.6,321.1 392.8,321.3 393.0,321.4 393.2,321.5 393.3,321.6 393.5,321.7 393.7,321.7 393.9,321.8 394.1,321.9 394.3,321.9 394.5,322.0 394.7,322.0 394.9,322.0 395.1,322.0 395.2,322.0 395.4,322.0 395.6,322.0 395.8,322.0 396.0,322.0 396.2,321.9 396.4,321.9 396.6,321.8 396.8,321.8 396.9,321.7 397.1,321.6 397.3,321.6 397.5,321.5 397.7,321.4 397.9,321.3 398.1,321.2 398.3,321.1 398.5,321.1 398.6,321.0 398.8,320.9 399.0,320.8 399.2,320.7 399.4,320.6 399.6,320.5 399.8,320.5 400.0,320.4 400.2,320.3 400.4,320.2 400.5,320.2 400.7,320.1 400.9,320.0 401.1,320.0 401.3,319.9 401.5,319.9 401.7,319.9 401.9,319.8 402.1,319.8 402.2,319.8 402.4,319.8 402.6,319.8 402.8,319.8 403.0,319.8 403.2,319.8 403.4,319.8 403.6,319.8 403.8,319.8 404.0,319.8 404.1,319.9 404.3,319.9 404.5,319.9 404.7,320.0 404.9,320.0 405.1,320.1 405.3,320.1 405.5,320.2 405.7,320.2 405.8,320.3 406.0,320.3 406.2,320.4 406.4,320.5 406.6,320.5 406.8,320.6 407.0,320.6 407.2,320.7 407.4,320.8 407.6,320.8 407.7,320.9 407.9,321.0 408.1,321.0 408.3,321.1 408.5,321.2 408.7,321.2 408.9,321.3 409.1,321.3 409.3,321.4 409.4,321.4 409.6,321.5 409.8,321.5 410.0,321.6 410.2,321.6 410.4,321.6 410.6,321.7 410.8,321.7 411.0,321.7 411.2,321.7 411.3,321.7 411.5,321.8 411.7,321.8 411.9,321.8 412.1,321.8 412.3,321.7 412.5,321.7 412.7,321.7 412.9,321.7 413.0,321.7 413.2,321.6 413.4,321.6 413.6,321.6 413.8,321.5 414.0,321.5 414.2,321.4 414.4,321.4 414.6,321.4 414.8,321.3 414.9,321.3 415.1,321.2 415.3,321.2 415.5,321.1 415.7,321.1 415.9,321.0 416.1,321.0 416.3,320.9 416.5,320.9 416.6,320.8 416.8,320.8 417.0,320.8 417.2,320.7 417.4,320.7 417.6,320.7 417.8,320.7 418.0,320.7 418.2,320.7 418.4,320.7 418.5,320.7 418.7,320.7 418.9,320.7 419.1,320.7 419.3,320.8 419.5,320.8 419.7,320.8 419.9,320.9 420.1,320.9 420.2,321.0 420.4,321.0 420.6,321.1 420.8,321.2 421.0,321.2 421.2,321.3 421.4,321.4 421.6,321.5 421.8,321.5 421.9,321.6 422.1,321.7 422.3,321.8 422.5,321.9 422.7,321.9 422.9,322.0 423.1,322.1 423.3,322.2 423.5,322.2 423.7,322.3 423.8,322.4 424.0,322.4 424.2,322.5 424.4,322.5 424.6,322.5 424.8,322.6 425.0,322.6 425.2,322.6 425.4,322.6 425.5,322.6 425.7,322.6 425.9,322.6 426.1,322.6 426.3,322.5 426.5,322.5 426.7,322.4 426.9,322.4 427.1,322.3 427.3,322.3 427.4,322.2 427.6,322.1 427.8,322.0 428.0,321.9 428.2,321.8 428.4,321.7 428.6,321.6 428.8,321.5 429.0,321.4 429.1,321.3 429.3,321.2 429.5,321.1 429.7,321.0 429.9,320.9 430.1,320.8 430.3,320.7 430.5,320.6 430.7,320.5 430.9,320.4 431.0,320.3 431.2,320.2 431.4,320.1 431.6,320.1 431.8,320.0 432.0,319.9 432.2,319.9 432.4,319.8 432.6,319.8 432.7,319.8 432.9,319.7 433.1,319.7 433.3,319.7 433.5,319.7 433.7,319.7 433.9,319.7 434.1,319.8 434.3,319.8 434.5,319.8 434.6,319.9 434.8,319.9 435.0,319.9 435.2,320.0 435.4,320.1 435.6,320.1 435.8,320.2 436.0,320.3 436.2,320.3 436.3,320.4 436.5,320.5 436.7,320.6 436.9,320.6 437.1,320.7 437.3,320.8 437.5,320.8 437.7,320.9 437.9,321.0 438.1,321.0 438.2,321.1 438.4,321.1 438.6,321.2 438.8,321.2 439.0,321.3 439.2,321.3 439.4,321.3 439.6,321.4 439.8,321.4 439.9,321.4 440.1,321.4 440.3,321.4 440.5,321.4 440.7,321.4 440.9,321.4 441.1,321.3 441.3,321.3 441.5,321.3 441.6,321.2 441.8,321.2 442.0,321.2 442.2,321.1 442.4,321.1 442.6,321.0 442.8,321.0 443.0,320.9 443.2,320.9 443.4,320.8 443.5,320.7 443.7,320.7 443.9,320.6 444.1,320.6 444.3,320.5 444.5,320.5 444.7,320.4 444.9,320.4 445.1,320.3 445.2,320.3 445.4,320.2 445.6,320.2 445.8,320.2 446.0,320.2 446.2,320.1 446.4,320.1 446.6,320.1 446.8,320.1 447.0,320.1 447.1,320.1 447.3,320.1 447.5,320.1 447.7,320.1 447.9,320.2 448.1,320.2 448.3,320.2 448.5,320.3 448.7,320.3 448.8,320.3 449.0,320.4 449.2,320.4 449.4,320.5 449.6,320.5 449.8,320.6 450.0,320.6 450.2,320.7 450.4,320.7 450.6,320.8 450.7,320.9 450.9,320.9 451.1,321.0 451.3,321.0 451.5,321.1 451.7,321.1 451.9,321.2 452.1,321.3 452.3,321.3 452.4,321.4 452.6,321.4 452.8,321.4 453.0,321.5 453.2,321.5 453.4,321.6 453.6,321.6 453.8,321.6 454.0,321.7 454.2,321.7 454.3,321.7 454.5,321.7 454.7,321.7 454.9,321.8 455.1,321.8 455.3,321.8 455.5,321.8 455.7,321.8 455.9,321.8 456.0,321.8 456.2,321.8 456.4,321.8 456.6,321.8 456.8,321.8 457.0,321.8 457.2,321.8 457.4,321.7 457.6,321.7 457.8,321.7 457.9,321.7 458.1,321.7 458.3,321.7 458.5,321.7 458.7,321.6 458.9,321.6 459.1,321.6 459.3,321.6 459.5,321.6 459.6,321.6 459.8,321.6 460.0,321.5 460.2,321.5 460.4,321.5 460.6,321.5 460.8,321.5 461.0,321.5 461.2,321.5 461.3,321.5 461.5,321.5 461.7,321.5 461.9,321.4 462.1,321.4 462.3,321.4 462.5,321.4 462.7,321.4 462.9,321.4 463.1,321.4 463.2,321.4 463.4,321.4 463.6,321.4 463.8,321.4 464.0,321.4 464.2,321.4 464.4,321.4 464.6,321.4 464.8,321.4 464.9,321.4 465.1,321.4 465.3,321.4 465.5,321.4 465.7,321.4 465.9,321.4 466.1,321.4 466.3,321.4 466.5,321.4 466.7,321.4 466.8,321.4 467.0,321.4 467.2,321.4 467.4,321.4 467.6,321.4 467.8,321.4 468.0,321.4 468.2,321.4 468.4,321.4 468.5,321.3 468.7,321.3 468.9,321.3 469.1,321.3 469.3,321.3 469.5,321.3 469.7,321.3 469.9,321.3 470.1,321.2 470.3,321.2 470.4,321.2 470.6,321.2 470.8,321.2 471.0,321.1 471.2,321.1 471.4,321.1 471.6,321.1 471.8,321.1 472.0,321.0 472.1,321.0 472.3,321.0 472.5,321.0 472.7,320.9 472.9,320.9 473.1,320.9 473.3,320.8 473.5,320.8 473.7,320.8 473.9,320.8 474.0,320.7 474.2,320.7 474.4,320.7 474.6,320.7 474.8,320.6 475.0,320.6 475.2,320.6 475.4,320.5 475.6,320.5 475.7,320.5 475.9,320.5 476.1,320.5 476.3,320.4 476.5,320.4 476.7,320.4 476.9,320.4 477.1,320.4 477.3,320.4 477.5,320.4 477.6,320.3 477.8,320.3 478.0,320.3 478.2,320.3 478.4,320.3 478.6,320.3 478.8,320.3 479.0,320.3 479.2,320.3 479.3,320.3 479.5,320.3 479.7,320.3 479.9,320.4 480.1,320.4 480.3,320.4 480.5,320.4 480.7,320.4 480.9,320.4 481.1,320.4 481.2,320.5 481.4,320.5 481.6,320.5 481.8,320.5 482.0,320.5 482.2,320.6 482.4,320.6 482.6,320.6 482.8,320.6 482.9,320.6 483.1,320.7 483.3,320.7 483.5,320.7 483.7,320.7 483.9,320.7 484.1,320.8 484.3,320.8 484.5,320.8 484.6,320.8 484.8,320.8 485.0,320.8 485.2,320.8 485.4,320.9 485.6,320.9 485.8,320.9 486.0,320.9 486.2,320.9 486.4,320.9 486.5,320.9 486.7,320.9 486.9,320.9 487.1,320.9 487.3,320.9 487.5,320.9 487.7,320.9 487.9,320.9 488.1,320.9 488.2,320.9 488.4,320.9 488.6,320.9 488.8,320.9 489.0,320.9 489.2,320.9 489.4,320.9 489.6,320.9 489.8,320.9 490.0,320.9 490.1,320.9 490.3,320.9 490.5,320.9 490.7,320.9 490.9,320.9 491.1,320.9 491.3,320.9 491.5,320.9 491.7,320.9 491.8,320.9 492.0,321.0 492.2,321.0 492.4,321.0 492.6,321.0 492.8,321.0 493.0,321.0 493.2,321.1 493.4,321.1 493.6,321.1 493.7,321.1 493.9,321.2 494.1,321.2 494.3,321.2 494.5,321.3 494.7,321.3 494.9,321.3 495.1,321.3 495.3,321.4 495.4,321.4 495.6,321.4 495.8,321.5 496.0,321.5 496.2,321.5 496.4,321.6 496.6,321.6 496.8,321.6 497.0,321.6 497.2,321.7 497.3,321.7 497.5,321.7 497.7,321.7 497.9,321.8 498.1,321.8 498.3,321.8 498.5,321.8 498.7,321.8 498.9,321.8 499.0,321.8 499.2,321.8 499.4,321.8 499.6,321.8 499.8,321.9 500.0,321.8 500.2,321.8 500.4,321.8 500.6,321.8 500.8,321.8 500.9,321.8 501.1,321.8 501.3,321.8 501.5,321.8 501.7,321.8 501.9,321.7 502.1,321.7 502.3,321.7 502.5,321.7 502.6,321.7 502.8,321.6 503.0,321.6 503.2,321.6 503.4,321.6 503.6,321.6 503.8,321.5 504.0,321.5 504.2,321.5 504.3,321.5 504.5,321.4 504.7,321.4 504.9,321.4 505.1,321.4 505.3,321.3 505.5,321.3 505.7,321.3 505.9,321.3 506.1,321.3 506.2,321.3 506.4,321.2 506.6,321.2 506.8,321.2 507.0,321.2 507.2,321.2 507.4,321.2 507.6,321.1 507.8,321.1 507.9,321.1 508.1,321.1 508.3,321.1 508.5,321.1 508.7,321.1 508.9,321.1 509.1,321.1 509.3,321.1 509.5,321.0 509.7,321.0 509.8,321.0 510.0,321.0 510.2,321.0 510.4,321.0 510.6,321.0 510.8,321.0 511.0,321.0 511.2,321.0 511.4,321.0 511.5,321.0 511.7,320.9 511.9,320.9 512.1,320.9 512.3,320.9 512.5,320.9 512.7,320.9 512.9,320.9 513.1,320.9 513.3,320.9 513.4,320.8 513.6,320.8 513.8,320.8 514.0,320.8 514.2,320.8 514.4,320.8 514.6,320.8 514.8,320.8 515.0,320.7 515.1,320.7 515.3,320.7 515.5,320.7 515.7,320.7 515.9,320.7 516.1,320.6 516.3,320.6 516.5,320.6 516.7,320.6 516.9,320.6 517.0,320.6 517.2,320.6 517.4,320.5 517.6,320.5 517.8,320.5 518.0,320.5 518.2,320.5 518.4,320.5 518.6,320.5 518.7,320.5 518.9,320.5 519.1,320.4 519.3,320.4 519.5,320.4 519.7,320.4 519.9,320.4 520.1,320.4 520.3,320.4 520.5,320.4 520.6,320.4 520.8,320.4 521.0,320.4 521.2,320.4 521.4,320.4 521.6,320.4 521.8,320.4 522.0,320.4 522.2,320.4 522.3,320.5 522.5,320.5 522.7,320.5 522.9,320.5 523.1,320.5 523.3,320.5 523.5,320.5 523.7,320.5 523.9,320.5 524.0,320.5" fill="none" stroke="#12a812" stroke-width="2.5" stroke-linejoin="round" stroke-linecap="round"/>
<polyline points="240.1,225.6 240.3,226.5 240.5,228.1 240.7,230.2 240.9,232.8 241.0,236.1 241.2,239.8 241.4,244.0 241.6,248.6 241.8,253.7 242.0,259.2 242.2,265.0 242.4,271.1 242.6,277.5 242.8,284.0 242.9,290.8 243.1,297.7 243.3,304.6 243.5,311.6 243.7,318.6 243.9,325.6 244.1,332.4 244.3,339.1 244.5,345.6 244.6,351.9 244.8,357.9 245.0,363.7 245.2,369.1 245.4,374.1 245.6,378.8 245.8,383.0 246.0,386.8 246.2,390.1 246.4,392.9 246.5,395.3 246.7,397.2 246.9,398.5 247.1,399.3 247.3,399.6 247.5,399.4 247.7,398.7 247.9,397.6 248.1,395.9 248.2,393.7 248.4,391.1 248.6,388.1 248.8,384.7 249.0,380.9 249.2,376.7 249.4,372.3 249.6,367.5 249.8,362.5 250.0,357.2 250.1,351.8 250.3,346.2 250.5,340.6 250.7,334.8 250.9,329.0 251.1,323.2 251.3,317.5 251.5,311.8 251.7,306.3 251.8,300.9 252.0,295.6 252.2,290.6 252.4,285.9 252.6,281.4 252.8,277.2 253.0,273.3 253.2,269.8 253.4,266.6 253.5,263.8 253.7,261.4 253.9,259.4 254.1,257.8 254.3,256.7 254.5,256.0 254.7,255.7 254.9,255.8 255.1,256.4 255.3,257.3 255.4,258.7 255.6,260.4 255.8,262.6 256.0,265.1 256.2,267.9 256.4,271.0 256.6,274.5 256.8,278.2 257.0,282.1 257.1,286.3 257.3,290.6 257.5,295.1 257.7,299.8 257.9,304.5 258.1,309.3 258.3,314.1 258.5,318.9 258.7,323.7 258.9,328.5 259.0,333.1 259.2,337.6 259.4,342.0 259.6,346.2 259.8,350.2 260.0,354.0 260.2,357.6 260.4,360.8 260.6,363.8 260.7,366.5 260.9,368.9 261.1,371.0 261.3,372.7 261.5,374.0 261.7,375.1 261.9,375.7 262.1,376.0 262.3,376.0 262.5,375.6 262.6,374.9 262.8,373.8 263.0,372.4 263.2,370.7 263.4,368.7 263.6,366.4 263.8,363.8 264.0,361.0 264.2,357.9 264.3,354.7 264.5,351.3 264.7,347.7 264.9,344.0 265.1,340.2 265.3,336.2 265.5,332.3 265.7,328.3 265.9,324.3 266.1,320.3 266.2,316.3 266.4,312.5 266.6,308.7 266.8,305.0 267.0,301.5 267.2,298.2 267.4,295.0 267.6,292.0 267.8,289.2 267.9,286.7 268.1,284.4 268.3,282.4 268.5,280.7 268.7,279.2 268.9,278.0 269.1,277.1 269.3,276.5 269.5,276.2 269.7,276.2 269.8,276.4 270.0,277.0 270.2,277.8 270.4,278.9 270.6,280.3 270.8,281.9 271.0,283.8 271.2,285.9 271.4,288.1 271.5,290.6 271.7,293.3 271.9,296.1 272.1,299.0 272.3,302.0 272.5,305.2 272.7,308.4 272.9,311.7 273.1,315.0 273.2,318.3 273.4,321.6 273.6,324.9 273.8,328.1 274.0,331.3 274.2,334.4 274.4,337.3 274.6,340.1 274.8,342.8 275.0,345.2 275.1,347.5 275.3,349.6 275.5,351.5 275.7,353.2 275.9,354.6 276.1,355.8 276.3,356.8 276.5,357.5 276.7,357.9 276.8,358.1 277.0,358.1 277.2,357.8 277.4,357.2 277.6,356.5 277.8,355.4 278.0,354.2 278.2,352.8 278.4,351.1 278.6,349.3 278.7,347.3 278.9,345.2 279.1,342.9 279.3,340.5 279.5,337.9 279.7,335.3 279.9,332.6 280.1,329.9 280.3,327.1 280.4,324.3 280.6,321.5 280.8,318.7 281.0,316.0 281.2,313.3 281.4,310.7 281.6,308.2 281.8,305.8 282.0,303.5 282.2,301.3 282.3,299.3 282.5,297.5 282.7,295.8 282.9,294.3 283.1,293.0 283.3,291.9 283.5,291.0 283.7,290.3 283.9,289.8 284.0,289.5 284.2,289.4 284.4,289.5 284.6,289.9 284.8,290.4 285.0,291.1 285.2,292.0 285.4,293.1 285.6,294.4 285.8,295.8 285.9,297.4 286.1,299.1 286.3,301.0 286.5,302.9 286.7,305.0 286.9,307.1 287.1,309.3 287.3,311.6 287.5,313.9 287.6,316.2 287.8,318.5 288.0,320.9 288.2,323.2 288.4,325.4 288.6,327.6 288.8,329.8 289.0,331.8 289.2,333.8 289.4,335.7 289.5,337.4 289.7,339.1 289.9,340.5 290.1,341.9 290.3,343.1 290.5,344.1 290.7,345.0 290.9,345.7 291.1,346.2 291.2,346.6 291.4,346.8 291.6,346.8 291.8,346.6 292.0,346.3 292.2,345.8 292.4,345.2 292.6,344.4 292.8,343.4 292.9,342.3 293.1,341.1 293.3,339.8 293.5,338.3 293.7,336.8 293.9,335.1 294.1,333.4 294.3,331.7 294.5,329.8 294.7,328.0 294.8,326.1 295.0,324.2 295.2,322.3 295.4,320.4 295.6,318.5 295.8,316.7 296.0,314.9 296.2,313.1 296.4,311.5 296.5,309.9 296.7,308.4 296.9,307.1 297.1,305.8 297.3,304.6 297.5,303.6 297.7,302.7 297.9,301.9 298.1,301.3 298.3,300.8 298.4,300.4 298.6,300.2 298.8,300.2 299.0,300.2 299.2,300.4 299.4,300.8 299.6,301.3 299.8,301.9 300.0,302.6 300.1,303.5 300.3,304.5 300.5,305.5 300.7,306.7 300.9,308.0 301.1,309.3 301.3,310.7 301.5,312.2 301.7,313.7 301.9,315.2 302.0,316.8 302.2,318.4 302.4,320.0 302.6,321.6 302.8,323.1 303.0,324.7 303.2,326.2 303.4,327.7 303.6,329.1 303.7,330.4 303.9,331.7 304.1,332.9 304.3,334.0 304.5,335.0 304.7,336.0 304.9,336.8 305.1,337.5 305.3,338.1 305.5,338.6 305.6,338.9 305.8,339.1 306.0,339.3 306.2,339.3 306.4,339.2 306.6,338.9 306.8,338.6 307.0,338.1 307.2,337.6 307.3,336.9 307.5,336.1 307.7,335.3 307.9,334.3 308.1,333.3 308.3,332.2 308.5,331.1 308.7,329.9 308.9,328.6 309.1,327.4 309.2,326.1 309.4,324.7 309.6,323.4 309.8,322.0 310.0,320.7 310.2,319.4 310.4,318.1 310.6,316.8 310.8,315.6 310.9,314.5 311.1,313.3 311.3,312.3 311.5,311.3 311.7,310.4 311.9,309.6 312.1,308.9 312.3,308.2 312.5,307.6 312.7,307.2 312.8,306.8 313.0,306.5 313.2,306.3 313.4,306.2 313.6,306.2 313.8,306.3 314.0,306.5 314.2,306.7 314.4,307.1 314.5,307.6 314.7,308.1 314.9,308.7 315.1,309.4 315.3,310.1 315.5,310.9 315.7,311.8 315.9,312.7 316.1,313.7 316.2,314.7 316.4,315.7 316.6,316.7 316.8,317.8 317.0,318.8 317.2,319.9 317.4,321.0 317.6,322.0 317.8,323.1 318.0,324.1 318.1,325.1 318.3,326.0 318.5,326.9 318.7,327.7 318.9,328.5 319.1,329.3 319.3,329.9 319.5,330.5 319.7,331.1 319.8,331.5 320.0,331.9 320.2,332.2 320.4,332.5 320.6,332.6 320.8,332.7 321.0,332.7 321.2,332.6 321.4,332.4 321.6,332.2 321.7,331.9 321.9,331.5 322.1,331.1 322.3,330.6 322.5,330.0 322.7,329.4 322.9,328.7 323.1,328.0 323.3,327.2 323.4,326.4 323.6,325.6 323.8,324.8 324.0,323.9 324.2,323.0 324.4,322.1 324.6,321.2 324.8,320.3 325.0,319.5 325.2,318.6 325.3,317.8 325.5,316.9 325.7,316.2 325.9,315.4 326.1,314.7 326.3,314.0 326.5,313.4 326.7,312.9 326.9,312.4 327.0,311.9 327.2,311.5 327.4,311.2 327.6,311.0 327.8,310.8 328.0,310.7 328.2,310.6 328.4,310.6 328.6,310.7 328.8,310.8 328.9,311.0 329.1,311.3 329.3,311.6 329.5,312.0 329.7,312.4 329.9,312.9 330.1,313.4 330.3,314.0 330.5,314.6 330.6,315.2 330.8,315.9 331.0,316.6 331.2,317.4 331.4,318.1 331.6,318.8 331.8,319.6 332.0,320.4 332.2,321.1 332.4,321.9 332.5,322.6 332.7,323.4 332.9,324.1 333.1,324.7 333.3,325.4 333.5,326.0 333.7,326.6 333.9,327.1 334.1,327.6 334.2,328.1 334.4,328.5 334.6,328.8 334.8,329.1 335.0,329.4 335.2,329.6 335.4,329.7 335.6,329.8 335.8,329.8 335.9,329.8 336.1,329.7 336.3,329.6 336.5,329.4 336.7,329.2 336.9,328.9 337.1,328.5 337.3,328.2 337.5,327.8 337.7,327.3 337.8,326.8 338.0,326.3 338.2,325.8 338.4,325.2 338.6,324.7 338.8,324.1 339.0,323.5 339.2,322.9 339.4,322.3 339.5,321.6 339.7,321.0 339.9,320.4 340.1,319.9 340.3,319.3 340.5,318.7 340.7,318.2 340.9,317.7 341.1,317.3 341.3,316.8 341.4,316.4 341.6,316.0 341.8,315.7 342.0,315.4 342.2,315.2 342.4,315.0 342.6,314.8 342.8,314.7 343.0,314.7 343.1,314.6 343.3,314.7 343.5,314.7 343.7,314.8 343.9,315.0 344.1,315.2 344.3,315.4 344.5,315.7 344.7,316.0 344.9,316.3 345.0,316.6 345.2,317.0 345.4,317.4 345.6,317.9 345.8,318.3 346.0,318.8 346.2,319.3 346.4,319.8 346.6,320.3 346.7,320.8 346.9,321.3 347.1,321.9 347.3,322.4 347.5,322.9 347.7,323.3 347.9,323.8 348.1,324.3 348.3,324.7 348.5,325.1 348.6,325.5 348.8,325.8 349.0,326.1 349.2,326.4 349.4,326.6 349.6,326.8 349.8,327.0 350.0,327.1 350.2,327.2 350.3,327.3 350.5,327.3 350.7,327.3 350.9,327.2 351.1,327.1 351.3,326.9 351.5,326.7 351.7,326.5 351.9,326.3 352.1,326.0 352.2,325.7 352.4,325.3 352.6,325.0 352.8,324.6 353.0,324.2 353.2,323.7 353.4,323.3 353.6,322.8 353.8,322.4 353.9,321.9 354.1,321.4 354.3,321.0 354.5,320.5 354.7,320.0 354.9,319.6 355.1,319.2 355.3,318.7 355.5,318.3 355.7,318.0 355.8,317.6 356.0,317.3 356.2,317.0 356.4,316.7 356.6,316.4 356.8,316.2 357.0,316.0 357.2,315.9 357.4,315.8 357.5,315.7 357.7,315.6 357.9,315.6 358.1,315.6 358.3,315.7 358.5,315.8 358.7,315.9 358.9,316.0 359.1,316.2 359.2,316.4 359.4,316.6 359.6,316.8 359.8,317.1 360.0,317.3 360.2,317.6 360.4,317.9 360.6,318.3 360.8,318.6 361.0,318.9 361.1,319.3 361.3,319.6 361.5,320.0 361.7,320.3 361.9,320.6 362.1,321.0 362.3,321.3 362.5,321.6 362.7,321.9 362.8,322.2 363.0,322.4 363.2,322.7 363.4,322.9 363.6,323.1 363.8,323.3 364.0,323.5 364.2,323.6 364.4,323.7 364.6,323.8 364.7,323.9 364.9,324.0 365.1,324.0 365.3,324.0 365.5,324.0 365.7,324.0 365.9,323.9 366.1,323.8 366.3,323.7 366.4,323.6 366.6,323.5 366.8,323.3 367.0,323.2 367.2,323.0 367.4,322.8 367.6,322.6 367.8,322.4 368.0,322.2 368.2,322.0 368.3,321.8 368.5,321.6 368.7,321.4 368.9,321.2 369.1,321.0 369.3,320.8 369.5,320.6 369.7,320.4 369.9,320.2 370.0,320.0 370.2,319.9 370.4,319.7 370.6,319.6 370.8,319.4 371.0,319.3 371.2,319.2 371.4,319.1 371.6,319.0 371.8,319.0 371.9,318.9 372.1,318.9 372.3,318.9 372.5,318.9 372.7,318.9 372.9,318.9 373.1,319.0 373.3,319.0 373.5,319.1 373.6,319.2 373.8,319.3 374.0,319.4 374.2,319.5 374.4,319.6 374.6,319.8 374.8,319.9 375.0,320.1 375.2,320.2 375.4,320.4 375.5,320.5 375.7,320.7 375.9,320.9 376.1,321.0 376.3,321.2 376.5,321.4 376.7,321.5 376.9,321.7 377.1,321.8 377.2,322.0 377.4,322.1 377.6,322.3 377.8,322.4 378.0,322.6 378.2,322.7 378.4,322.8 378.6,322.9 378.8,323.0 378.9,323.1 379.1,323.2 379.3,323.2 379.5,323.3 379.7,323.3 379.9,323.4 380.1,323.4 380.3,323.4 380.5,323.4 380.7,323.4 380.8,323.4 381.0,323.3 381.2,323.3 381.4,323.2 381.6,323.1 381.8,323.1 382.0,323.0 382.2,322.9 382.4,322.8 382.5,322.7 382.7,322.6 382.9,322.4 383.1,322.3 383.3,322.2 383.5,322.0 383.7,321.9 383.9,321.7 384.1,321.6 384.3,321.4 384.4,321.3 384.6,321.1 384.8,321.0 385.0,320.8 385.2,320.7 385.4,320.5 385.6,320.4 385.8,320.3 386.0,320.1 386.1,320.0 386.3,319.9 386.5,319.8 386.7,319.7 386.9,319.6 387.1,319.6 387.3,319.5 387.5,319.4 387.7,319.4 387.9,319.4 388.0,319.4 388.2,319.4 388.4,319.4 388.6,319.4 388.8,319.4 389.0,319.5 389.2,319.6 389.4,319.6 389.6,319.7 389.7,319.8 389.9,319.9 390.1,320.0 390.3,320.2 390.5,320.3 390.7,320.4 390.9,320.6 391.1,320.7 391.3,320.9 391.5,321.0 391.6,321.2 391.8,321.4 392.0,321.5 392.2,321.7 392.4,321.8 392.6,322.0 392.8,322.1 393.0,322.3 393.2,322.4 393.3,322.5 393.5,322.6 393.7,322.7 393.9,322.8 394.1,322.9 394.3,323.0 394.5,323.0 394.7,323.1 394.9,323.1 395.1,323.1 395.2,323.1 395.4,323.1 395.6,323.0 395.8,323.0 396.0,322.9 396.2,322.8 396.4,322.7 396.6,322.6 396.8,322.5 396.9,322.4 397.1,322.2 397.3,322.1 397.5,321.9 397.7,321.7 397.9,321.5 398.1,321.3 398.3,321.1 398.5,320.9 398.6,320.7 398.8,320.5 399.0,320.3 399.2,320.1 399.4,319.9 399.6,319.7 399.8,319.6 400.0,319.4 400.2,319.2 400.4,319.0 400.5,318.9 400.7,318.7 400.9,318.6 401.1,318.5 401.3,318.4 401.5,318.3 401.7,318.2 401.9,318.2 402.1,318.1 402.2,318.1 402.4,318.1 402.6,318.1 402.8,318.1 403.0,318.2 403.2,318.2 403.4,318.3 403.6,318.4 403.8,318.5 404.0,318.6 404.1,318.7 404.3,318.8 404.5,319.0 404.7,319.1 404.9,319.3 405.1,319.5 405.3,319.6 405.5,319.8 405.7,320.0 405.8,320.2 406.0,320.4 406.2,320.6 406.4,320.8 406.6,321.0 406.8,321.1 407.0,321.3 407.2,321.5 407.4,321.7 407.6,321.8 407.7,322.0 407.9,322.1 408.1,322.2 408.3,322.4 408.5,322.5 408.7,322.6 408.9,322.7 409.1,322.7 409.3,322.8 409.4,322.8 409.6,322.9 409.8,322.9 410.0,322.9 410.2,322.9 410.4,322.9 410.6,322.8 410.8,322.8 411.0,322.7 411.2,322.7 411.3,322.6 411.5,322.5 411.7,322.4 411.9,322.4 412.1,322.3 412.3,322.1 412.5,322.0 412.7,321.9 412.9,321.8 413.0,321.7 413.2,321.6 413.4,321.5 413.6,321.3 413.8,321.2 414.0,321.1 414.2,321.0 414.4,320.9 414.6,320.8 414.8,320.7 414.9,320.6 415.1,320.5 415.3,320.5 415.5,320.4 415.7,320.4 415.9,320.3 416.1,320.3 416.3,320.2 416.5,320.2 416.6,320.2 416.8,320.2 417.0,320.2 417.2,320.2 417.4,320.2 417.6,320.3 417.8,320.3 418.0,320.4 418.2,320.4 418.4,320.5 418.5,320.5 418.7,320.6 418.9,320.7 419.1,320.7 419.3,320.8 419.5,320.9 419.7,321.0 419.9,321.1 420.1,321.2 420.2,321.3 420.4,321.3 420.6,321.4 420.8,321.5 421.0,321.6 421.2,321.7 421.4,321.7 421.6,321.8 421.8,321.9 421.9,322.0 422.1,322.0 422.3,322.1 422.5,322.1 422.7,322.2 422.9,322.2 423.1,322.2 423.3,322.3 423.5,322.3 423.7,322.3 423.8,322.3 424.0,322.3 424.2,322.3 424.4,322.3 424.6,322.3 424.8,322.3 425.0,322.2 425.2,322.2 425.4,322.2 425.5,322.1 425.7,322.1 425.9,322.0 426.1,322.0 426.3,321.9 426.5,321.9 426.7,321.8 426.9,321.8 427.1,321.7 427.3,321.7 427.4,321.6 427.6,321.5 427.8,321.5 428.0,321.4 428.2,321.4 428.4,321.3 428.6,321.3 428.8,321.2 429.0,321.1 429.1,321.1 429.3,321.0 429.5,321.0 429.7,320.9 429.9,320.9 430.1,320.9 430.3,320.8 430.5,320.8 430.7,320.7 430.9,320.7 431.0,320.7 431.2,320.7 431.4,320.6 431.6,320.6 431.8,320.6 432.0,320.6 432.2,320.6 432.4,320.6 432.6,320.5 432.7,320.5 432.9,320.5 433.1,320.5 433.3,320.5 433.5,320.5 433.7,320.5 433.9,320.5 434.1,320.5 434.3,320.5 434.5,320.5 434.6,320.6 434.8,320.6 435.0,320.6 435.2,320.6 435.4,320.6 435.6,320.6 435.8,320.6 436.0,320.6 436.2,320.6 436.3,320.7 436.5,320.7 436.7,320.7 436.9,320.7 437.1,320.7 437.3,320.7 437.5,320.7 437.7,320.7 437.9,320.7 438.1,320.7 438.2,320.8 438.4,320.8 438.6,320.8 438.8,320.8 439.0,320.8 439.2,320.8 439.4,320.8 439.6,320.8 439.8,320.8 439.9,320.8 440.1,320.8 440.3,320.7 440.5,320.7 440.7,320.7 440.9,320.7 441.1,320.7 441.3,320.7 441.5,320.7 441.6,320.7 441.8,320.7 442.0,320.6 442.2,320.6 442.4,320.6 442.6,320.6 442.8,320.6 443.0,320.5 443.2,320.5 443.4,320.5 443.5,320.5 443.7,320.5 443.9,320.4 444.1,320.4 444.3,320.4 444.5,320.4 444.7,320.4 444.9,320.4 445.1,320.4 445.2,320.3 445.4,320.3 445.6,320.3 445.8,320.3 446.0,320.3 446.2,320.3 446.4,320.3 446.6,320.3 446.8,320.3 447.0,320.3 447.1,320.3 447.3,320.4 447.5,320.4 447.7,320.4 447.9,320.4 448.1,320.4 448.3,320.5 448.5,320.5 448.7,320.5 448.8,320.6 449.0,320.6 449.2,320.7 449.4,320.7 449.6,320.7 449.8,320.8 450.0,320.8 450.2,320.9 450.4,320.9 450.6,321.0 450.7,321.0 450.9,321.1 451.1,321.1 451.3,321.2 451.5,321.3 451.7,321.3 451.9,321.4 452.1,321.4 452.3,321.5 452.4,321.5 452.6,321.6 452.8,321.6 453.0,321.6 453.2,321.7 453.4,321.7 453.6,321.7 453.8,321.8 454.0,321.8 454.2,321.8 454.3,321.8 454.5,321.9 454.7,321.9 454.9,321.9 455.1,321.9 455.3,321.9 455.5,321.9 455.7,321.9 455.9,321.9 456.0,321.9 456.2,321.9 456.4,321.9 456.6,321.8 456.8,321.8 457.0,321.8 457.2,321.8 457.4,321.7 457.6,321.7 457.8,321.7 457.9,321.6 458.1,321.6 458.3,321.6 458.5,321.5 458.7,321.5 458.9,321.5 459.1,321.4 459.3,321.4 459.5,321.4 459.6,321.3 459.8,321.3 460.0,321.3 460.2,321.2 460.4,321.2 460.6,321.2 460.8,321.2 461.0,321.2 461.2,321.1 461.3,321.1 461.5,321.1 461.7,321.1 461.9,321.1 462.1,321.1 462.3,321.1 462.5,321.1 462.7,321.1 462.9,321.1 463.1,321.1 463.2,321.2 463.4,321.2 463.6,321.2 463.8,321.2 464.0,321.2 464.2,321.3 464.4,321.3 464.6,321.3 464.8,321.3 464.9,321.4 465.1,321.4 465.3,321.4 465.5,321.5 465.7,321.5 465.9,321.5 466.1,321.5 466.3,321.6 466.5,321.6 466.7,321.6 466.8,321.6 467.0,321.6 467.2,321.7 467.4,321.7 467.6,321.7 467.8,321.7 468.0,321.7 468.2,321.7 468.4,321.7 468.5,321.7 468.7,321.7 468.9,321.7 469.1,321.6 469.3,321.6 469.5,321.6 469.7,321.6 469.9,321.5 470.1,321.5 470.3,321.5 470.4,321.4 470.6,321.4 470.8,321.4 471.0,321.3 471.2,321.3 471.4,321.2 471.6,321.2 471.8,321.1 472.0,321.1 472.1,321.1 472.3,321.0 472.5,321.0 472.7,320.9 472.9,320.9 473.1,320.8 473.3,320.8 473.5,320.7 473.7,320.7 473.9,320.6 474.0,320.6 474.2,320.5 474.4,320.5 474.6,320.5 474.8,320.4 475.0,320.4 475.2,320.4 475.4,320.4 475.6,320.3 475.7,320.3 475.9,320.3 476.1,320.3 476.3,320.3 476.5,320.3 476.7,320.2 476.9,320.2 477.1,320.2 477.3,320.2 477.5,320.2 477.6,320.2 477.8,320.2 478.0,320.3 478.2,320.3 478.4,320.3 478.6,320.3 478.8,320.3 479.0,320.3 479.2,320.3 479.3,320.4 479.5,320.4 479.7,320.4 479.9,320.4 480.1,320.4 480.3,320.4 480.5,320.5 480.7,320.5 480.9,320.5 481.1,320.5 481.2,320.5 481.4,320.6 481.6,320.6 481.8,320.6 482.0,320.6 482.2,320.6 482.4,320.6 482.6,320.7 482.8,320.7 482.9,320.7 483.1,320.7 483.3,320.7 483.5,320.7 483.7,320.7 483.9,320.7 484.1,320.7 484.3,320.7 484.5,320.8 484.6,320.8 484.8,320.8 485.0,320.8 485.2,320.8 485.4,320.8 485.6,320.8 485.8,320.8 486.0,320.8 486.2,320.8 486.4,320.8 486.5,320.8 486.7,320.8 486.9,320.8 487.1,320.8 487.3,320.8 487.5,320.8 487.7,320.8 487.9,320.8 488.1,320.8 488.2,320.8 488.4,320.8 488.6,320.8 488.8,320.9 489.0,320.9 489.2,320.9 489.4,320.9 489.6,320.9 489.8,320.9 490.0,320.9 490.1,320.9 490.3,321.0 490.5,321.0 490.7,321.0 490.9,321.0 491.1,321.0 491.3,321.0 491.5,321.1 491.7,321.1 491.8,321.1 492.0,321.1 492.2,321.1 492.4,321.2 492.6,321.2 492.8,321.2 493.0,321.2 493.2,321.2 493.4,321.3 493.6,321.3 493.7,321.3 493.9,321.3 494.1,321.3 494.3,321.4 494.5,321.4 494.7,321.4 494.9,321.4 495.1,321.4 495.3,321.5 495.4,321.5 495.6,321.5 495.8,321.5 496.0,321.5 496.2,321.5 496.4,321.6 496.6,321.6 496.8,321.6 497.0,321.6 497.2,321.6 497.3,321.6 497.5,321.6 497.7,321.6 497.9,321.7 498.1,321.7 498.3,321.7 498.5,321.7 498.7,321.7 498.9,321.7 499.0,321.7 499.2,321.7 499.4,321.7 499.6,321.7 499.8,321.7 500.0,321.7 500.2,321.7 500.4,321.7 500.6,321.7 500.8,321.7 500.9,321.7 501.1,321.7 501.3,321.7 501.5,321.7 501.7,321.7 501.9,321.6 502.1,321.6 502.3,321.6 502.5,321.6 502.6,321.6 502.8,321.6 503.0,321.6 503.2,321.6 503.4,321.6 503.6,321.5 503.8,321.5 504.0,321.5 504.2,321.5 504.3,321.5 504.5,321.5 504.7,321.4 504.9,321.4 505.1,321.4 505.3,321.4 505.5,321.4 505.7,321.4 505.9,321.4 506.1,321.3 506.2,321.3 506.4,321.3 506.6,321.3 506.8,321.3 507.0,321.3 507.2,321.3 507.4,321.2 507.6,321.2 507.8,321.2 507.9,321.2 508.1,321.2 508.3,321.2 508.5,321.2 508.7,321.1 508.9,321.1 509.1,321.1 509.3,321.1 509.5,321.1 509.7,321.1 509.8,321.1 510.0,321.1 510.2,321.1 510.4,321.0 510.6,321.0 510.8,321.0 511.0,321.0 511.2,321.0 511.4,321.0 511.5,321.0 511.7,321.0 511.9,321.0 512.1,320.9 512.3,320.9 512.5,320.9 512.7,320.9 512.9,320.9 513.1,320.9 513.3,320.9 513.4,320.9 513.6,320.8 513.8,320.8 514.0,320.8 514.2,320.8 514.4,320.8 514.6,320.8 514.8,320.8 515.0,320.7 515.1,320.7 515.3,320.7 515.5,320.7 515.7,320.7 515.9,320.7 516.1,320.6 516.3,320.6 516.5,320.6 516.7,320.6 516.9,320.6 517.0,320.6 517.2,320.5 517.4,320.5 517.6,320.5 517.8,320.5 518.0,320.5 518.2,320.5 518.4,320.4 518.6,320.4 518.7,320.4 518.9,320.4 519.1,320.4 519.3,320.4 519.5,320.4 519.7,320.4 519.9,320.4 520.1,320.4 520.3,320.4 520.5,320.4 520.6,320.4 520.8,320.4 521.0,320.4 521.2,320.4 521.4,320.4 521.6,320.4 521.8,320.4 522.0,320.4 522.2,320.4 522.3,320.4 522.5,320.4 522.7,320.4 522.9,320.4 523.1,320.4 523.3,320.5 523.5,320.5 523.7,320.5 523.9,320.5 524.0,320.5" fill="none" stroke="#f90808" stroke-width="2.5" stroke-linejoin="round" stroke-linecap="round"/>
<polyline points="240.1,225.6 240.3,226.5 240.5,228.1 240.7,230.2 240.9,232.8 241.0,236.1 241.2,239.8 241.4,244.0 241.6,248.6 241.8,253.7 242.0,259.2 242.2,265.0 242.4,271.1 242.6,277.5 242.8,284.0 242.9,290.8 243.1,297.7 243.3,304.6 243.5,311.6 243.7,318.6 243.9,325.6 244.1,332.4 244.3,339.1 244.5,345.6 244.6,351.9 244.8,357.9 245.0,363.7 245.2,369.1 245.4,374.1 245.6,378.8 245.8,383.0 246.0,386.8 246.2,390.1 246.4,392.9 246.5,395.3 246.7,397.2 246.9,398.5 247.1,399.3 247.3,399.6 247.5,399.4 247.7,398.7 247.9,397.6 248.1,395.9 248.2,393.7 248.4,391.1 248.6,388.1 248.8,384.7 249.0,380.9 249.2,376.7 249.4,372.3 249.6,367.5 249.8,362.5 250.0,357.2 250.1,351.8 250.3,346.2 250.5,340.6 250.7,334.8 250.9,329.0 251.1,323.2 251.3,317.5 251.5,311.8 251.7,306.3 251.8,300.9 252.0,295.6 252.2,290.6 252.4,285.9 252.6,281.4 252.8,277.2 253.0,273.3 253.2,269.8 253.4,266.6 253.5,263.8 253.7,261.4 253.9,259.4 254.1,257.8 254.3,256.7 254.5,256.0 254.7,255.7 254.9,255.8 255.1,256.4 255.3,257.3 255.4,258.7 255.6,260.4 255.8,262.6 256.0,265.1 256.2,267.9 256.4,271.0 256.6,274.5 256.8,278.2 257.0,282.1 257.1,286.3 257.3,290.6 257.5,295.1 257.7,299.8 257.9,304.5 258.1,309.3 258.3,314.1 258.5,318.9 258.7,323.7 258.9,328.5 259.0,333.1 259.2,337.6 259.4,342.0 259.6,346.2 259.8,350.2 260.0,354.0 260.2,357.6 260.4,360.8 260.6,363.8 260.7,366.5 260.9,368.9 261.1,371.0 261.3,372.7 261.5,374.0 261.7,375.1 261.9,375.7 262.1,376.0 262.3,376.0 262.5,375.6 262.6,374.9 262.8,373.8 263.0,372.4 263.2,370.7 263.4,368.7 263.6,366.4 263.8,363.8 264.0,361.0 264.2,357.9 264.3,354.7 264.5,351.3 264.7,347.7 264.9,344.0 265.1,340.2 265.3,336.2 265.5,332.3 265.7,328.3 265.9,324.3 266.1,320.3 266.2,316.3 266.4,312.5 266.6,308.7 266.8,305.0 267.0,301.5 267.2,298.2 267.4,295.0 267.6,292.0 267.8,289.2 267.9,286.7 268.1,284.4 268.3,282.4 268.5,280.7 268.7,279.2 268.9,278.0 269.1,277.1 269.3,276.5 269.5,276.2 269.7,276.2 269.8,276.4 270.0,277.0 270.2,277.8 270.4,278.9 270.6,280.3 270.8,281.9 271.0,283.8 271.2,285.9 271.4,288.1 271.5,290.6 271.7,293.3 271.9,296.1 272.1,299.0 272.3,302.0 272.5,305.2 272.7,308.4 272.9,311.7 273.1,315.0 273.2,318.3 273.4,321.5 273.6,324.8 273.8,328.0 274.0,331.1 274.2,334.1 274.4,337.0 274.6,339.8 274.8,342.5 275.0,344.9 275.1,347.2 275.3,349.3 275.5,351.2 275.7,352.9 275.9,354.3 276.1,355.6 276.3,356.6 276.5,357.3 276.7,357.8 276.8,358.1 277.0,358.1 277.2,357.9 277.4,357.4 277.6,356.7 277.8,355.8 278.0,354.7 278.2,353.4 278.4,351.8 278.6,350.1 278.7,348.2 278.9,346.1 279.1,343.9 279.3,341.6 279.5,339.2 279.7,336.6 279.9,334.0 280.1,331.3 280.3,328.6 280.4,325.9 280.6,323.1 280.8,320.4 281.0,317.6 281.2,315.0 281.4,312.3 281.6,309.8 281.8,307.4 282.0,305.0 282.2,302.8 282.3,300.7 282.5,298.8 282.7,297.0 282.9,295.4 283.1,294.0 283.3,292.7 283.5,291.7 283.7,290.8 283.9,290.2 284.0,289.7 284.2,289.5 284.4,289.4 284.6,289.6 284.8,289.9 285.0,290.4 285.2,291.2 285.4,292.1 285.6,293.2 285.8,294.4 285.9,295.8 286.1,297.4 286.3,299.1 286.5,300.9 286.7,302.8 286.9,304.8 287.1,306.9 287.3,309.1 287.5,311.3 287.6,313.6 287.8,315.9 288.0,318.2 288.2,320.5 288.4,322.8 288.6,325.0 288.8,327.2 289.0,329.3 289.2,331.4 289.4,333.3 289.5,335.2 289.7,337.0 289.9,338.6 290.1,340.1 290.3,341.5 290.5,342.7 290.7,343.8 290.9,344.7 291.1,345.5 291.2,346.0 291.4,346.5 291.6,346.7 291.8,346.8 292.0,346.7 292.2,346.5 292.4,346.1 292.6,345.5 292.8,344.8 292.9,344.0 293.1,343.0 293.3,341.8 293.5,340.6 293.7,339.2 293.9,337.8 294.1,336.2 294.3,334.6 294.5,332.9 294.7,331.1 294.8,329.3 295.0,327.4 295.2,325.6 295.4,323.7 295.6,321.8 295.8,319.9 296.0,318.1 296.2,316.3 296.4,314.6 296.5,312.9 296.7,311.2 296.9,309.7 297.1,308.3 297.3,306.9 297.5,305.7 297.7,304.6 297.9,303.5 298.1,302.7 298.3,301.9 298.4,301.3 298.6,300.8 298.8,300.5 299.0,300.2 299.2,300.2 299.4,300.2 299.6,300.4 299.8,300.8 300.0,301.3 300.1,301.8 300.3,302.6 300.5,303.4 300.7,304.3 300.9,305.4 301.1,306.5 301.3,307.7 301.5,309.0 301.7,310.4 301.9,311.8 302.0,313.3 302.2,314.8 302.4,316.3 302.6,317.9 302.8,319.5 303.0,321.1 303.2,322.6 303.4,324.1 303.6,325.6 303.7,327.1 303.9,328.5 304.1,329.9 304.3,331.2 304.5,332.4 304.7,333.5 304.9,334.6 305.1,335.5 305.3,336.4 305.5,337.1 305.6,337.8 305.8,338.3 306.0,338.7 306.2,339.0 306.4,339.2 306.6,339.3 306.8,339.2 307.0,339.0 307.2,338.8 307.3,338.4 307.5,337.9 307.7,337.3 307.9,336.6 308.1,335.9 308.3,335.0 308.5,334.0 308.7,333.0 308.9,331.9 309.1,330.8 309.2,329.6 309.4,328.4 309.6,327.1 309.8,325.8 310.0,324.5 310.2,323.2 310.4,321.9 310.6,320.6 310.8,319.3 310.9,318.0 311.1,316.7 311.3,315.5 311.5,314.4 311.7,313.3 311.9,312.2 312.1,311.3 312.3,310.4 312.5,309.5 312.7,308.8 312.8,308.1 313.0,307.6 313.2,307.1 313.4,306.7 313.6,306.4 313.8,306.2 314.0,306.1 314.2,306.1 314.4,306.2 314.5,306.4 314.7,306.7 314.9,307.1 315.1,307.5 315.3,308.0 315.5,308.6 315.7,309.3 315.9,310.1 316.1,310.9 316.2,311.7 316.4,312.7 316.6,313.6 316.8,314.6 317.0,315.6 317.2,316.7 317.4,317.7 317.6,318.8 317.8,319.9 318.0,321.0 318.1,322.0 318.3,323.0 318.5,324.0 318.7,325.0 318.9,326.0 319.1,326.9 319.3,327.7 319.5,328.5 319.7,329.2 319.8,329.9 320.0,330.5 320.2,331.1 320.4,331.5 320.6,331.9 320.8,332.2 321.0,332.5 321.2,332.6 321.4,332.7 321.6,332.7 321.7,332.6 321.9,332.4 322.1,332.2 322.3,331.9 322.5,331.5 322.7,331.1 322.9,330.6 323.1,330.0 323.3,329.4 323.4,328.7 323.6,328.0 323.8,327.2 324.0,326.4 324.2,325.6 324.4,324.8 324.6,323.9 324.8,323.0 325.0,322.1 325.2,321.2 325.3,320.4 325.5,319.5 325.7,318.6 325.9,317.8 326.1,317.0 326.3,316.2 326.5,315.4 326.7,314.7 326.9,314.1 327.0,313.5 327.2,312.9 327.4,312.4 327.6,312.0 327.8,311.6 328.0,311.3 328.2,311.0 328.4,310.8 328.6,310.7 328.8,310.6 328.9,310.6 329.1,310.7 329.3,310.9 329.5,311.1 329.7,311.3 329.9,311.6 330.1,312.0 330.3,312.5 330.5,312.9 330.6,313.5 330.8,314.0 331.0,314.7 331.2,315.3 331.4,316.0 331.6,316.7 331.8,317.4 332.0,318.1 332.2,318.9 332.4,319.7 332.5,320.4 332.7,321.2 332.9,321.9 333.1,322.7 333.3,323.4 333.5,324.1 333.7,324.8 333.9,325.4 334.1,326.1 334.2,326.6 334.4,327.2 334.6,327.7 334.8,328.1 335.0,328.5 335.2,328.9 335.4,329.2 335.6,329.4 335.8,329.6 335.9,329.7 336.1,329.8 336.3,329.9 336.5,329.8 336.7,329.7 336.9,329.6 337.1,329.4 337.3,329.2 337.5,328.9 337.7,328.6 337.8,328.2 338.0,327.8 338.2,327.4 338.4,326.9 338.6,326.4 338.8,325.8 339.0,325.3 339.2,324.7 339.4,324.1 339.5,323.5 339.7,322.9 339.9,322.3 340.1,321.7 340.3,321.1 340.5,320.5 340.7,319.9 340.9,319.3 341.1,318.7 341.3,318.2 341.4,317.7 341.6,317.3 341.8,316.8 342.0,316.4 342.2,316.0 342.4,315.7 342.6,315.4 342.8,315.2 343.0,315.0 343.1,314.8 343.3,314.7 343.5,314.6 343.7,314.6 343.9,314.6 344.1,314.7 344.3,314.8 344.5,315.0 344.7,315.2 344.9,315.4 345.0,315.7 345.2,316.0 345.4,316.3 345.6,316.7 345.8,317.1 346.0,317.5 346.2,317.9 346.4,318.4 346.6,318.8 346.7,319.3 346.9,319.8 347.1,320.3 347.3,320.8 347.5,321.3 347.7,321.8 347.9,322.3 348.1,322.8 348.3,323.2 348.5,323.7 348.6,324.1 348.8,324.5 349.0,324.9 349.2,325.2 349.4,325.5 349.6,325.8 349.8,326.1 350.0,326.3 350.2,326.5 350.3,326.7 350.5,326.8 350.7,326.9 350.9,326.9 351.1,326.9 351.3,326.9 351.5,326.8 351.7,326.7 351.9,326.5 352.1,326.4 352.2,326.2 352.4,325.9 352.6,325.6 352.8,325.3 353.0,325.0 353.2,324.7 353.4,324.3 353.6,323.9 353.8,323.5 353.9,323.1 354.1,322.7 354.3,322.2 354.5,321.8 354.7,321.3 354.9,320.9 355.1,320.5 355.3,320.0 355.5,319.6 355.7,319.2 355.8,318.8 356.0,318.4 356.2,318.1 356.4,317.7 356.6,317.4 356.8,317.1 357.0,316.8 357.2,316.6 357.4,316.4 357.5,316.2 357.7,316.0 357.9,315.9 358.1,315.8 358.3,315.7 358.5,315.7 358.7,315.7 358.9,315.8 359.1,315.8 359.2,315.9 359.4,316.0 359.6,316.2 359.8,316.4 360.0,316.6 360.2,316.8 360.4,317.0 360.6,317.3 360.8,317.6 361.0,317.9 361.1,318.2 361.3,318.5 361.5,318.9 361.7,319.2 361.9,319.6 362.1,319.9 362.3,320.3 362.5,320.6 362.7,321.0 362.8,321.3 363.0,321.7 363.2,322.0 363.4,322.3 363.6,322.6 363.8,322.9 364.0,323.2 364.2,323.4 364.4,323.6 364.6,323.8 364.7,324.0 364.9,324.2 365.1,324.3 365.3,324.4 365.5,324.5 365.7,324.6 365.9,324.6 366.1,324.6 366.3,324.6 366.4,324.5 366.6,324.5 366.8,324.4 367.0,324.3 367.2,324.1 367.4,324.0 367.6,323.8 367.8,323.6 368.0,323.4 368.2,323.2 368.3,322.9 368.5,322.7 368.7,322.4 368.9,322.2 369.1,321.9 369.3,321.6 369.5,321.3 369.7,321.1 369.9,320.8 370.0,320.5 370.2,320.3 370.4,320.0 370.6,319.7 370.8,319.5 371.0,319.3 371.2,319.1 371.4,318.9 371.6,318.7 371.8,318.5 371.9,318.4 372.1,318.2 372.3,318.1 372.5,318.0 372.7,318.0 372.9,317.9 373.1,317.9 373.3,317.9 373.5,317.9 373.6,318.0 373.8,318.0 374.0,318.1 374.2,318.2 374.4,318.3 374.6,318.5 374.8,318.6 375.0,318.8 375.2,319.0 375.4,319.2 375.5,319.4 375.7,319.6 375.9,319.8 376.1,320.1 376.3,320.3 376.5,320.6 376.7,320.8 376.9,321.1 377.1,321.3 377.2,321.6 377.4,321.8 377.6,322.1 377.8,322.3 378.0,322.5 378.2,322.8 378.4,323.0 378.6,323.2 378.8,323.4 378.9,323.5 379.1,323.7 379.3,323.8 379.5,324.0 379.7,324.1 379.9,324.2 380.1,324.3 380.3,324.3 380.5,324.4 380.7,324.4 380.8,324.4 381.0,324.4 381.2,324.3 381.4,324.3 381.6,324.2 381.8,324.1 382.0,324.0 382.2,323.9 382.4,323.8 382.5,323.6 382.7,323.5 382.9,323.3 383.1,323.2 383.3,323.0 383.5,322.8 383.7,322.6 383.9,322.4 384.1,322.2 384.3,322.0 384.4,321.8 384.6,321.5 384.8,321.3 385.0,321.1 385.2,320.9 385.4,320.7 385.6,320.5 385.8,320.4 386.0,320.2 386.1,320.0 386.3,319.9 386.5,319.7 386.7,319.6 386.9,319.5 387.1,319.4 387.3,319.3 387.5,319.2 387.7,319.1 387.9,319.1 388.0,319.1 388.2,319.0 388.4,319.0 388.6,319.1 388.8,319.1 389.0,319.1 389.2,319.2 389.4,319.2 389.6,319.3 389.7,319.4 389.9,319.5 390.1,319.6 390.3,319.7 390.5,319.8 390.7,320.0 390.9,320.1 391.1,320.2 391.3,320.4 391.5,320.5 391.6,320.7 391.8,320.8 392.0,321.0 392.2,321.1 392.4,321.3 392.6,321.4 392.8,321.6 393.0,321.7 393.2,321.8 393.3,321.9 393.5,322.0 393.7,322.1 393.9,322.2 394.1,322.3 394.3,322.4 394.5,322.4 394.7,322.5 394.9,322.5 395.1,322.6 395.2,322.6 395.4,322.6 395.6,322.6 395.8,322.5 396.0,322.5 396.2,322.5 396.4,322.4 396.6,322.3 396.8,322.3 396.9,322.2 397.1,322.1 397.3,322.0 397.5,321.9 397.7,321.8 397.9,321.6 398.1,321.5 398.3,321.4 398.5,321.2 398.6,321.1 398.8,320.9 399.0,320.8 399.2,320.7 399.4,320.5 399.6,320.4 399.8,320.2 400.0,320.1 400.2,320.0 400.4,319.8 400.5,319.7 400.7,319.6 400.9,319.5 401.1,319.4 401.3,319.3 401.5,319.2 401.7,319.1 401.9,319.1 402.1,319.0 402.2,319.0 402.4,318.9 402.6,318.9 402.8,318.9 403.0,318.9 403.2,318.9 403.4,318.9 403.6,319.0 403.8,319.0 404.0,319.1 404.1,319.1 404.3,319.2 404.5,319.3 404.7,319.4 404.9,319.5 405.1,319.6 405.3,319.7 405.5,319.8 405.7,319.9 405.8,320.0 406.0,320.1 406.2,320.3 406.4,320.4 406.6,320.5 406.8,320.6 407.0,320.8 407.2,320.9 407.4,321.0 407.6,321.1 407.7,321.3 407.9,321.4 408.1,321.5 408.3,321.6 408.5,321.7 408.7,321.8 408.9,321.9 409.1,322.0 409.3,322.0 409.4,322.1 409.6,322.1 409.8,322.2 410.0,322.2 410.2,322.3 410.4,322.3 410.6,322.3 410.8,322.3 411.0,322.3 411.2,322.3 411.3,322.3 411.5,322.3 411.7,322.2 411.9,322.2 412.1,322.1 412.3,322.1 412.5,322.0 412.7,322.0 412.9,321.9 413.0,321.8 413.2,321.8 413.4,321.7 413.6,321.6 413.8,321.5 414.0,321.4 414.2,321.4 414.4,321.3 414.6,321.2 414.8,321.1 414.9,321.1 415.1,321.0 415.3,320.9 415.5,320.9 415.7,320.8 415.9,320.7 416.1,320.7 416.3,320.6 416.5,320.6 416.6,320.6 416.8,320.5 417.0,320.5 417.2,320.5 417.4,320.5 417.6,320.5 417.8,320.5 418.0,320.5 418.2,320.5 418.4,320.5 418.5,320.6 418.7,320.6 418.9,320.6 419.1,320.7 419.3,320.7 419.5,320.8 419.7,320.8 419.9,320.9 420.1,321.0 420.2,321.1 420.4,321.1 420.6,321.2 420.8,321.3 421.0,321.4 421.2,321.4 421.4,321.5 421.6,321.6 421.8,321.7 421.9,321.7 422.1,321.8 422.3,321.9 422.5,322.0 422.7,322.0 422.9,322.1 423.1,322.1 423.3,322.2 423.5,322.2 423.7,322.3 423.8,322.3 424.0,322.4 424.2,322.4 424.4,322.4 424.6,322.4 424.8,322.4 425.0,322.4 425.2,322.4 425.4,322.4 425.5,322.4 425.7,322.4 425.9,322.3 426.1,322.3 426.3,322.3 426.5,322.2 426.7,322.2 426.9,322.1 427.1,322.0 427.3,322.0 427.4,321.9 427.6,321.8 427.8,321.8 428.0,321.7 428.2,321.6 428.4,321.5 428.6,321.4 428.8,321.4 429.0,321.3 429.1,321.2 429.3,321.1 429.5,321.0 429.7,321.0 429.9,320.9 430.1,320.8 430.3,320.7 430.5,320.7 430.7,320.6 430.9,320.5 431.0,320.5 431.2,320.4 431.4,320.4 431.6,320.3 431.8,320.3 432.0,320.2 432.2,320.2 432.4,320.2 432.6,320.2 432.7,320.1 432.9,320.1 433.1,320.1 433.3,320.1 433.5,320.1 433.7,320.1 433.9,320.1 434.1,320.2 434.3,320.2 434.5,320.2 434.6,320.2 434.8,320.2 435.0,320.3 435.2,320.3 435.4,320.4 435.6,320.4 435.8,320.4 436.0,320.5 436.2,320.5 436.3,320.6 436.5,320.6 436.7,320.6 436.9,320.7 437.1,320.7 437.3,320.8 437.5,320.8 437.7,320.8 437.9,320.9 438.1,320.9 438.2,320.9 438.4,321.0 438.6,321.0 438.8,321.0 439.0,321.0 439.2,321.1 439.4,321.1 439.6,321.1 439.8,321.1 439.9,321.1 440.1,321.1 440.3,321.1 440.5,321.1 440.7,321.1 440.9,321.0 441.1,321.0 441.3,321.0 441.5,321.0 441.6,321.0 441.8,320.9 442.0,320.9 442.2,320.9 442.4,320.8 442.6,320.8 442.8,320.8 443.0,320.7 443.2,320.7 443.4,320.6 443.5,320.6 443.7,320.6 443.9,320.5 444.1,320.5 444.3,320.5 444.5,320.4 444.7,320.4 444.9,320.4 445.1,320.3 445.2,320.3 445.4,320.3 445.6,320.3 445.8,320.2 446.0,320.2 446.2,320.2 446.4,320.2 446.6,320.2 446.8,320.2 447.0,320.2 447.1,320.2 447.3,320.2 447.5,320.2 447.7,320.3 447.9,320.3 448.1,320.3 448.3,320.3 448.5,320.4 448.7,320.4 448.8,320.4 449.0,320.5 449.2,320.5 449.4,320.6 449.6,320.6 449.8,320.7 450.0,320.7 450.2,320.8 450.4,320.8 450.6,320.9 450.7,320.9 450.9,321.0 451.1,321.0 451.3,321.1 451.5,321.1 451.7,321.2 451.9,321.3 452.1,321.3 452.3,321.4 452.4,321.4 452.6,321.5 452.8,321.5 453.0,321.5 453.2,321.6 453.4,321.6 453.6,321.7 453.8,321.7 454.0,321.7 454.2,321.8 454.3,321.8 454.5,321.8 454.7,321.8 454.9,321.8 455.1,321.8 455.3,321.9 455.5,321.9 455.7,321.9 455.9,321.9 456.0,321.9 456.2,321.9 456.4,321.9 456.6,321.8 456.8,321.8 457.0,321.8 457.2,321.8 457.4,321.8 457.6,321.8 457.8,321.7 457.9,321.7 458.1,321.7 458.3,321.7 458.5,321.6 458.7,321.6 458.9,321.6 459.1,321.6 459.3,321.5 459.5,321.5 459.6,321.5 459.8,321.5 460.0,321.4 460.2,321.4 460.4,321.4 460.6,321.4 460.8,321.4 461.0,321.3 461.2,321.3 461.3,321.3 461.5,321.3 461.7,321.3 461.9,321.3 462.1,321.3 462.3,321.3 462.5,321.3 462.7,321.3 462.9,321.3 463.1,321.3 463.2,321.3 463.4,321.3 463.6,321.3 463.8,321.3 464.0,321.3 464.2,321.3 464.4,321.3 464.6,321.3 464.8,321.3 464.9,321.3 465.1,321.4 465.3,321.4 465.5,321.4 465.7,321.4 465.9,321.4 466.1,321.4 466.3,321.4 466.5,321.4 466.7,321.5 466.8,321.5 467.0,321.5 467.2,321.5 467.4,321.5 467.6,321.5 467.8,321.5 468.0,321.5 468.2,321.5 468.4,321.5 468.5,321.5 468.7,321.5 468.9,321.5 469.1,321.5 469.3,321.5 469.5,321.4 469.7,321.4 469.9,321.4 470.1,321.4 470.3,321.4 470.4,321.3 470.6,321.3 470.8,321.3 471.0,321.3 471.2,321.2 471.4,321.2 471.6,321.2 471.8,321.1 472.0,321.1 472.1,321.1 472.3,321.0 472.5,321.0 472.7,321.0 472.9,320.9 473.1,320.9 473.3,320.8 473.5,320.8 473.7,320.8 473.9,320.7 474.0,320.7 474.2,320.7 474.4,320.6 474.6,320.6 474.8,320.6 475.0,320.5 475.2,320.5 475.4,320.5 475.6,320.4 475.7,320.4 475.9,320.4 476.1,320.4 476.3,320.4 476.5,320.3 476.7,320.3 476.9,320.3 477.1,320.3 477.3,320.3 477.5,320.3 477.6,320.3 477.8,320.3 478.0,320.3 478.2,320.3 478.4,320.3 478.6,320.3 478.8,320.3 479.0,320.3 479.2,320.3 479.3,320.3 479.5,320.3 479.7,320.3 479.9,320.4 480.1,320.4 480.3,320.4 480.5,320.4 480.7,320.4 480.9,320.4 481.1,320.5 481.2,320.5 481.4,320.5 481.6,320.5 481.8,320.5 482.0,320.6 482.2,320.6 482.4,320.6 482.6,320.6 482.8,320.6 482.9,320.7 483.1,320.7 483.3,320.7 483.5,320.7 483.7,320.7 483.9,320.7 484.1,320.8 484.3,320.8 484.5,320.8 484.6,320.8 484.8,320.8 485.0,320.8 485.2,320.8 485.4,320.8 485.6,320.8 485.8,320.8 486.0,320.8 486.2,320.8 486.4,320.8 486.5,320.8 486.7,320.8 486.9,320.9 487.1,320.9 487.3,320.9 487.5,320.9 487.7,320.9 487.9,320.9 488.1,320.9 488.2,320.9 488.4,320.9 488.6,320.9 488.8,320.9 489.0,320.9 489.2,320.9 489.4,320.9 489.6,320.9 489.8,320.9 490.0,320.9 490.1,320.9 490.3,320.9 490.5,320.9 490.7,320.9 490.9,320.9 491.1,321.0 491.3,321.0 491.5,321.0 491.7,321.0 491.8,321.0 492.0,321.0 492.2,321.1 492.4,321.1 492.6,321.1 492.8,321.1 493.0,321.1 493.2,321.2 493.4,321.2 493.6,321.2 493.7,321.2 493.9,321.2 494.1,321.3 494.3,321.3 494.5,321.3 494.7,321.3 494.9,321.4 495.1,321.4 495.3,321.4 495.4,321.4 495.6,321.5 495.8,321.5 496.0,321.5 496.2,321.5 496.4,321.6 496.6,321.6 496.8,321.6 497.0,321.6 497.2,321.6 497.3,321.7 497.5,321.7 497.7,321.7 497.9,321.7 498.1,321.7 498.3,321.7 498.5,321.7 498.7,321.8 498.9,321.8 499.0,321.8 499.2,321.8 499.4,321.8 499.6,321.8 499.8,321.8 500.0,321.8 500.2,321.8 500.4,321.8 500.6,321.8 500.8,321.8 500.9,321.7 501.1,321.7 501.3,321.7 501.5,321.7 501.7,321.7 501.9,321.7 502.1,321.7 502.3,321.7 502.5,321.6 502.6,321.6 502.8,321.6 503.0,321.6 503.2,321.6 503.4,321.6 503.6,321.5 503.8,321.5 504.0,321.5 504.2,321.5 504.3,321.5 504.5,321.4 504.7,321.4 504.9,321.4 505.1,321.4 505.3,321.4 505.5,321.4 505.7,321.3 505.9,321.3 506.1,321.3 506.2,321.3 506.4,321.3 506.6,321.3 506.8,321.2 507.0,321.2 507.2,321.2 507.4,321.2 507.6,321.2 507.8,321.2 507.9,321.2 508.1,321.1 508.3,321.1 508.5,321.1 508.7,321.1 508.9,321.1 509.1,321.1 509.3,321.1 509.5,321.1 509.7,321.1 509.8,321.1 510.0,321.0 510.2,321.0 510.4,321.0 510.6,321.0 510.8,321.0 511.0,321.0 511.2,321.0 511.4,321.0 511.5,321.0 511.7,321.0 511.9,320.9 512.1,320.9 512.3,320.9 512.5,320.9 512.7,320.9 512.9,320.9 513.1,320.9 513.3,320.9 513.4,320.9 513.6,320.8 513.8,320.8 514.0,320.8 514.2,320.8 514.4,320.8 514.6,320.8 514.8,320.8 515.0,320.7 515.1,320.7 515.3,320.7 515.5,320.7 515.7,320.7 515.9,320.7 516.1,320.6 516.3,320.6 516.5,320.6 516.7,320.6 516.9,320.6 517.0,320.6 517.2,320.6 517.4,320.5 517.6,320.5 517.8,320.5 518.0,320.5 518.2,320.5 518.4,320.5 518.6,320.5 518.7,320.5 518.9,320.4 519.1,320.4 519.3,320.4 519.5,320.4 519.7,320.4 519.9,320.4 520.1,320.4 520.3,320.4 520.5,320.4 520.6,320.4 520.8,320.4 521.0,320.4 521.2,320.4 521.4,320.4 521.6,320.4 521.8,320.4 522.0,320.4 522.2,320.4 522.3,320.4 522.5,320.4 522.7,320.4 522.9,320.4 523.1,320.5 523.3,320.5 523.5,320.5 523.7,320.5 523.9,320.5 524.0,320.5" fill="none" stroke="#1410ec" stroke-width="2.5" stroke-linejoin="round" stroke-linecap="round"/>
</g>
<g stroke="#000" stroke-width="1.2" fill="none">
<line x1="53.0" y1="170.5" x2="53.0" y2="168.3" stroke-width="1.9"/>
<line x1="53.0" y1="3.5" x2="53.0" y2="5.7" stroke-width="1.9"/>
<line x1="62.0" y1="170.5" x2="62.0" y2="169.0" stroke-width="1.5"/>
<line x1="62.0" y1="3.5" x2="62.0" y2="5.0" stroke-width="1.5"/>
<line x1="71.1" y1="170.5" x2="71.1" y2="169.0" stroke-width="1.5"/>
<line x1="71.1" y1="3.5" x2="71.1" y2="5.0" stroke-width="1.5"/>
<line x1="80.2" y1="170.5" x2="80.2" y2="169.0" stroke-width="1.5"/>
<line x1="80.2" y1="3.5" x2="80.2" y2="5.0" stroke-width="1.5"/>
<line x1="89.3" y1="170.5" x2="89.3" y2="169.0" stroke-width="1.5"/>
<line x1="89.3" y1="3.5" x2="89.3" y2="5.0" stroke-width="1.5"/>
<line x1="98.4" y1="170.5" x2="98.4" y2="168.3" stroke-width="1.9"/>
<line x1="98.4" y1="3.5" x2="98.4" y2="5.7" stroke-width="1.9"/>
<line x1="107.5" y1="170.5" x2="107.5" y2="169.0" stroke-width="1.5"/>
<line x1="107.5" y1="3.5" x2="107.5" y2="5.0" stroke-width="1.5"/>
<line x1="116.6" y1="170.5" x2="116.6" y2="169.0" stroke-width="1.5"/>
<line x1="116.6" y1="3.5" x2="116.6" y2="5.0" stroke-width="1.5"/>
<line x1="125.6" y1="170.5" x2="125.6" y2="169.0" stroke-width="1.5"/>
<line x1="125.6" y1="3.5" x2="125.6" y2="5.0" stroke-width="1.5"/>
<line x1="134.7" y1="170.5" x2="134.7" y2="169.0" stroke-width="1.5"/>
<line x1="134.7" y1="3.5" x2="134.7" y2="5.0" stroke-width="1.5"/>
<line x1="143.8" y1="170.5" x2="143.8" y2="168.3" stroke-width="1.9"/>
<line x1="143.8" y1="3.5" x2="143.8" y2="5.7" stroke-width="1.9"/>
<line x1="152.9" y1="170.5" x2="152.9" y2="169.0" stroke-width="1.5"/>
<line x1="152.9" y1="3.5" x2="152.9" y2="5.0" stroke-width="1.5"/>
<line x1="162.0" y1="170.5" x2="162.0" y2="169.0" stroke-width="1.5"/>
<line x1="162.0" y1="3.5" x2="162.0" y2="5.0" stroke-width="1.5"/>
<line x1="171.1" y1="170.5" x2="171.1" y2="169.0" stroke-width="1.5"/>
<line x1="171.1" y1="3.5" x2="171.1" y2="5.0" stroke-width="1.5"/>
<line x1="180.2" y1="170.5" x2="180.2" y2="169.0" stroke-width="1.5"/>
<line x1="180.2" y1="3.5" x2="180.2" y2="5.0" stroke-width="1.5"/>
<line x1="189.3" y1="170.5" x2="189.3" y2="168.3" stroke-width="1.9"/>
<line x1="189.3" y1="3.5" x2="189.3" y2="5.7" stroke-width="1.9"/>
<line x1="198.3" y1="170.5" x2="198.3" y2="169.0" stroke-width="1.5"/>
<line x1="198.3" y1="3.5" x2="198.3" y2="5.0" stroke-width="1.5"/>
<line x1="207.4" y1="170.5" x2="207.4" y2="169.0" stroke-width="1.5"/>
<line x1="207.4" y1="3.5" x2="207.4" y2="5.0" stroke-width="1.5"/>
<line x1="216.5" y1="170.5" x2="216.5" y2="169.0" stroke-width="1.5"/>
<line x1="216.5" y1="3.5" x2="216.5" y2="5.0" stroke-width="1.5"/>
<line x1="225.6" y1="170.5" x2="225.6" y2="169.0" stroke-width="1.5"/>
<line x1="225.6" y1="3.5" x2="225.6" y2="5.0" stroke-width="1.5"/>
<line x1="234.7" y1="170.5" x2="234.7" y2="168.3" stroke-width="1.9"/>
<line x1="234.7" y1="3.5" x2="234.7" y2="5.7" stroke-width="1.9"/>
<line x1="243.8" y1="170.5" x2="243.8" y2="169.0" stroke-width="1.5"/>
<line x1="243.8" y1="3.5" x2="243.8" y2="5.0" stroke-width="1.5"/>
<line x1="252.9" y1="170.5" x2="252.9" y2="169.0" stroke-width="1.5"/>
<line x1="252.9" y1="3.5" x2="252.9" y2="5.0" stroke-width="1.5"/>
<line x1="262.0" y1="170.5" x2="262.0" y2="169.0" stroke-width="1.5"/>
<line x1="262.0" y1="3.5" x2="262.0" y2="5.0" stroke-width="1.5"/>
<line x1="271.0" y1="170.5" x2="271.0" y2="169.0" stroke-width="1.5"/>
<line x1="271.0" y1="3.5" x2="271.0" y2="5.0" stroke-width="1.5"/>
<line x1="280.1" y1="170.5" x2="280.1" y2="168.3" stroke-width="1.9"/>
<line x1="280.1" y1="3.5" x2="280.1" y2="5.7" stroke-width="1.9"/>
<line x1="289.2" y1="170.5" x2="289.2" y2="169.0" stroke-width="1.5"/>
<line x1="289.2" y1="3.5" x2="289.2" y2="5.0" stroke-width="1.5"/>
<line x1="298.3" y1="170.5" x2="298.3" y2="169.0" stroke-width="1.5"/>
<line x1="298.3" y1="3.5" x2="298.3" y2="5.0" stroke-width="1.5"/>
<line x1="307.4" y1="170.5" x2="307.4" y2="169.0" stroke-width="1.5"/>
<line x1="307.4" y1="3.5" x2="307.4" y2="5.0" stroke-width="1.5"/>
<line x1="316.5" y1="170.5" x2="316.5" y2="169.0" stroke-width="1.5"/>
<line x1="316.5" y1="3.5" x2="316.5" y2="5.0" stroke-width="1.5"/>
<line x1="325.6" y1="170.5" x2="325.6" y2="168.3" stroke-width="1.9"/>
<line x1="325.6" y1="3.5" x2="325.6" y2="5.7" stroke-width="1.9"/>
<line x1="47.1" y1="165.2" x2="48.800000000000004" y2="165.2" stroke-width="1.3"/>
<line x1="330.6" y1="165.2" x2="329.6" y2="165.2" stroke-width="1.3"/>
<line x1="47.1" y1="156.7" x2="50.800000000000004" y2="156.7" stroke-width="1.6"/>
<line x1="330.6" y1="156.7" x2="328.3" y2="156.7" stroke-width="1.6"/>
<line x1="47.1" y1="148.2" x2="48.800000000000004" y2="148.2" stroke-width="1.3"/>
<line x1="330.6" y1="148.2" x2="329.6" y2="148.2" stroke-width="1.3"/>
<line x1="47.1" y1="139.7" x2="48.800000000000004" y2="139.7" stroke-width="1.3"/>
<line x1="330.6" y1="139.7" x2="329.6" y2="139.7" stroke-width="1.3"/>
<line x1="47.1" y1="131.2" x2="48.800000000000004" y2="131.2" stroke-width="1.3"/>
<line x1="330.6" y1="131.2" x2="329.6" y2="131.2" stroke-width="1.3"/>
<line x1="47.1" y1="122.7" x2="50.800000000000004" y2="122.7" stroke-width="1.6"/>
<line x1="330.6" y1="122.7" x2="328.3" y2="122.7" stroke-width="1.6"/>
<line x1="47.1" y1="114.2" x2="48.800000000000004" y2="114.2" stroke-width="1.3"/>
<line x1="330.6" y1="114.2" x2="329.6" y2="114.2" stroke-width="1.3"/>
<line x1="47.1" y1="105.7" x2="48.800000000000004" y2="105.7" stroke-width="1.3"/>
<line x1="330.6" y1="105.7" x2="329.6" y2="105.7" stroke-width="1.3"/>
<line x1="47.1" y1="97.2" x2="48.800000000000004" y2="97.2" stroke-width="1.3"/>
<line x1="330.6" y1="97.2" x2="329.6" y2="97.2" stroke-width="1.3"/>
<line x1="47.1" y1="88.7" x2="50.800000000000004" y2="88.7" stroke-width="1.6"/>
<line x1="330.6" y1="88.7" x2="328.3" y2="88.7" stroke-width="1.6"/>
<line x1="47.1" y1="80.2" x2="48.800000000000004" y2="80.2" stroke-width="1.3"/>
<line x1="330.6" y1="80.2" x2="329.6" y2="80.2" stroke-width="1.3"/>
<line x1="47.1" y1="71.7" x2="48.800000000000004" y2="71.7" stroke-width="1.3"/>
<line x1="330.6" y1="71.7" x2="329.6" y2="71.7" stroke-width="1.3"/>
<line x1="47.1" y1="63.2" x2="48.800000000000004" y2="63.2" stroke-width="1.3"/>
<line x1="330.6" y1="63.2" x2="329.6" y2="63.2" stroke-width="1.3"/>
<line x1="47.1" y1="54.7" x2="50.800000000000004" y2="54.7" stroke-width="1.6"/>
<line x1="330.6" y1="54.7" x2="328.3" y2="54.7" stroke-width="1.6"/>
<line x1="47.1" y1="46.2" x2="48.800000000000004" y2="46.2" stroke-width="1.3"/>
<line x1="330.6" y1="46.2" x2="329.6" y2="46.2" stroke-width="1.3"/>
<line x1="47.1" y1="37.7" x2="48.800000000000004" y2="37.7" stroke-width="1.3"/>
<line x1="330.6" y1="37.7" x2="329.6" y2="37.7" stroke-width="1.3"/>
<line x1="47.1" y1="29.2" x2="48.800000000000004" y2="29.2" stroke-width="1.3"/>
<line x1="330.6" y1="29.2" x2="329.6" y2="29.2" stroke-width="1.3"/>
<line x1="47.1" y1="20.7" x2="50.800000000000004" y2="20.7" stroke-width="1.6"/>
<line x1="330.6" y1="20.7" x2="328.3" y2="20.7" stroke-width="1.6"/>
<line x1="47.1" y1="12.2" x2="48.800000000000004" y2="12.2" stroke-width="1.3"/>
<line x1="330.6" y1="12.2" x2="329.6" y2="12.2" stroke-width="1.3"/>
<line x1="47.1" y1="3.7" x2="48.800000000000004" y2="3.7" stroke-width="1.3"/>
<line x1="330.6" y1="3.7" x2="329.6" y2="3.7" stroke-width="1.3"/>
<line x1="405.8" y1="183.8" x2="405.8" y2="181.60000000000002" stroke-width="1.9"/>
<line x1="405.8" y1="3.5" x2="405.8" y2="5.7" stroke-width="1.9"/>
<line x1="415.5" y1="183.8" x2="415.5" y2="182.3" stroke-width="1.5"/>
<line x1="415.5" y1="3.5" x2="415.5" y2="5.0" stroke-width="1.5"/>
<line x1="425.3" y1="183.8" x2="425.3" y2="182.3" stroke-width="1.5"/>
<line x1="425.3" y1="3.5" x2="425.3" y2="5.0" stroke-width="1.5"/>
<line x1="435.0" y1="183.8" x2="435.0" y2="182.3" stroke-width="1.5"/>
<line x1="435.0" y1="3.5" x2="435.0" y2="5.0" stroke-width="1.5"/>
<line x1="444.8" y1="183.8" x2="444.8" y2="182.3" stroke-width="1.5"/>
<line x1="444.8" y1="3.5" x2="444.8" y2="5.0" stroke-width="1.5"/>
<line x1="454.5" y1="183.8" x2="454.5" y2="181.60000000000002" stroke-width="1.9"/>
<line x1="454.5" y1="3.5" x2="454.5" y2="5.7" stroke-width="1.9"/>
<line x1="464.3" y1="183.8" x2="464.3" y2="182.3" stroke-width="1.5"/>
<line x1="464.3" y1="3.5" x2="464.3" y2="5.0" stroke-width="1.5"/>
<line x1="474.0" y1="183.8" x2="474.0" y2="182.3" stroke-width="1.5"/>
<line x1="474.0" y1="3.5" x2="474.0" y2="5.0" stroke-width="1.5"/>
<line x1="483.8" y1="183.8" x2="483.8" y2="182.3" stroke-width="1.5"/>
<line x1="483.8" y1="3.5" x2="483.8" y2="5.0" stroke-width="1.5"/>
<line x1="493.5" y1="183.8" x2="493.5" y2="182.3" stroke-width="1.5"/>
<line x1="493.5" y1="3.5" x2="493.5" y2="5.0" stroke-width="1.5"/>
<line x1="503.2" y1="183.8" x2="503.2" y2="181.60000000000002" stroke-width="1.9"/>
<line x1="503.2" y1="3.5" x2="503.2" y2="5.7" stroke-width="1.9"/>
<line x1="513.0" y1="183.8" x2="513.0" y2="182.3" stroke-width="1.5"/>
<line x1="513.0" y1="3.5" x2="513.0" y2="5.0" stroke-width="1.5"/>
<line x1="522.7" y1="183.8" x2="522.7" y2="182.3" stroke-width="1.5"/>
<line x1="522.7" y1="3.5" x2="522.7" y2="5.0" stroke-width="1.5"/>
<line x1="532.5" y1="183.8" x2="532.5" y2="182.3" stroke-width="1.5"/>
<line x1="532.5" y1="3.5" x2="532.5" y2="5.0" stroke-width="1.5"/>
<line x1="542.2" y1="183.8" x2="542.2" y2="182.3" stroke-width="1.5"/>
<line x1="542.2" y1="3.5" x2="542.2" y2="5.0" stroke-width="1.5"/>
<line x1="552.0" y1="183.8" x2="552.0" y2="181.60000000000002" stroke-width="1.9"/>
<line x1="552.0" y1="3.5" x2="552.0" y2="5.7" stroke-width="1.9"/>
<line x1="561.7" y1="183.8" x2="561.7" y2="182.3" stroke-width="1.5"/>
<line x1="561.7" y1="3.5" x2="561.7" y2="5.0" stroke-width="1.5"/>
<line x1="571.5" y1="183.8" x2="571.5" y2="182.3" stroke-width="1.5"/>
<line x1="571.5" y1="3.5" x2="571.5" y2="5.0" stroke-width="1.5"/>
<line x1="581.2" y1="183.8" x2="581.2" y2="182.3" stroke-width="1.5"/>
<line x1="581.2" y1="3.5" x2="581.2" y2="5.0" stroke-width="1.5"/>
<line x1="591.0" y1="183.8" x2="591.0" y2="182.3" stroke-width="1.5"/>
<line x1="591.0" y1="3.5" x2="591.0" y2="5.0" stroke-width="1.5"/>
<line x1="600.7" y1="183.8" x2="600.7" y2="181.60000000000002" stroke-width="1.9"/>
<line x1="600.7" y1="3.5" x2="600.7" y2="5.7" stroke-width="1.9"/>
<line x1="610.4" y1="183.8" x2="610.4" y2="182.3" stroke-width="1.5"/>
<line x1="610.4" y1="3.5" x2="610.4" y2="5.0" stroke-width="1.5"/>
<line x1="620.2" y1="183.8" x2="620.2" y2="182.3" stroke-width="1.5"/>
<line x1="620.2" y1="3.5" x2="620.2" y2="5.0" stroke-width="1.5"/>
<line x1="629.9" y1="183.8" x2="629.9" y2="182.3" stroke-width="1.5"/>
<line x1="629.9" y1="3.5" x2="629.9" y2="5.0" stroke-width="1.5"/>
<line x1="639.7" y1="183.8" x2="639.7" y2="182.3" stroke-width="1.5"/>
<line x1="639.7" y1="3.5" x2="639.7" y2="5.0" stroke-width="1.5"/>
<line x1="649.4" y1="183.8" x2="649.4" y2="181.60000000000002" stroke-width="1.9"/>
<line x1="649.4" y1="3.5" x2="649.4" y2="5.7" stroke-width="1.9"/>
<line x1="659.2" y1="183.8" x2="659.2" y2="182.3" stroke-width="1.5"/>
<line x1="659.2" y1="3.5" x2="659.2" y2="5.0" stroke-width="1.5"/>
<line x1="668.9" y1="183.8" x2="668.9" y2="182.3" stroke-width="1.5"/>
<line x1="668.9" y1="3.5" x2="668.9" y2="5.0" stroke-width="1.5"/>
<line x1="678.7" y1="183.8" x2="678.7" y2="182.3" stroke-width="1.5"/>
<line x1="678.7" y1="3.5" x2="678.7" y2="5.0" stroke-width="1.5"/>
<line x1="688.4" y1="183.8" x2="688.4" y2="182.3" stroke-width="1.5"/>
<line x1="688.4" y1="3.5" x2="688.4" y2="5.0" stroke-width="1.5"/>
<line x1="698.1" y1="183.8" x2="698.1" y2="181.60000000000002" stroke-width="1.9"/>
<line x1="698.1" y1="3.5" x2="698.1" y2="5.7" stroke-width="1.9"/>
<line x1="399.2" y1="180.9" x2="402.9" y2="180.9" stroke-width="1.6"/>
<line x1="704.8" y1="180.9" x2="702.5" y2="180.9" stroke-width="1.6"/>
<line x1="399.2" y1="171.1" x2="400.9" y2="171.1" stroke-width="1.3"/>
<line x1="704.8" y1="171.1" x2="703.8" y2="171.1" stroke-width="1.3"/>
<line x1="399.2" y1="161.2" x2="400.9" y2="161.2" stroke-width="1.3"/>
<line x1="704.8" y1="161.2" x2="703.8" y2="161.2" stroke-width="1.3"/>
<line x1="399.2" y1="151.4" x2="400.9" y2="151.4" stroke-width="1.3"/>
<line x1="704.8" y1="151.4" x2="703.8" y2="151.4" stroke-width="1.3"/>
<line x1="399.2" y1="141.5" x2="402.9" y2="141.5" stroke-width="1.6"/>
<line x1="704.8" y1="141.5" x2="702.5" y2="141.5" stroke-width="1.6"/>
<line x1="399.2" y1="131.7" x2="400.9" y2="131.7" stroke-width="1.3"/>
<line x1="704.8" y1="131.7" x2="703.8" y2="131.7" stroke-width="1.3"/>
<line x1="399.2" y1="121.8" x2="400.9" y2="121.8" stroke-width="1.3"/>
<line x1="704.8" y1="121.8" x2="703.8" y2="121.8" stroke-width="1.3"/>
<line x1="399.2" y1="112.0" x2="400.9" y2="112.0" stroke-width="1.3"/>
<line x1="704.8" y1="112.0" x2="703.8" y2="112.0" stroke-width="1.3"/>
<line x1="399.2" y1="102.2" x2="402.9" y2="102.2" stroke-width="1.6"/>
<line x1="704.8" y1="102.2" x2="702.5" y2="102.2" stroke-width="1.6"/>
<line x1="399.2" y1="92.3" x2="400.9" y2="92.3" stroke-width="1.3"/>
<line x1="704.8" y1="92.3" x2="703.8" y2="92.3" stroke-width="1.3"/>
<line x1="399.2" y1="82.5" x2="400.9" y2="82.5" stroke-width="1.3"/>
<line x1="704.8" y1="82.5" x2="703.8" y2="82.5" stroke-width="1.3"/>
<line x1="399.2" y1="72.6" x2="400.9" y2="72.6" stroke-width="1.3"/>
<line x1="704.8" y1="72.6" x2="703.8" y2="72.6" stroke-width="1.3"/>
<line x1="399.2" y1="62.8" x2="402.9" y2="62.8" stroke-width="1.6"/>
<line x1="704.8" y1="62.8" x2="702.5" y2="62.8" stroke-width="1.6"/>
<line x1="399.2" y1="52.9" x2="400.9" y2="52.9" stroke-width="1.3"/>
<line x1="704.8" y1="52.9" x2="703.8" y2="52.9" stroke-width="1.3"/>
<line x1="399.2" y1="43.1" x2="400.9" y2="43.1" stroke-width="1.3"/>
<line x1="704.8" y1="43.1" x2="703.8" y2="43.1" stroke-width="1.3"/>
<line x1="399.2" y1="33.2" x2="400.9" y2="33.2" stroke-width="1.3"/>
<line x1="704.8" y1="33.2" x2="703.8" y2="33.2" stroke-width="1.3"/>
<line x1="399.2" y1="23.4" x2="402.9" y2="23.4" stroke-width="1.6"/>
<line x1="704.8" y1="23.4" x2="702.5" y2="23.4" stroke-width="1.6"/>
<line x1="399.2" y1="13.5" x2="400.9" y2="13.5" stroke-width="1.3"/>
<line x1="704.8" y1="13.5" x2="703.8" y2="13.5" stroke-width="1.3"/>
<line x1="399.2" y1="3.7" x2="400.9" y2="3.7" stroke-width="1.3"/>
<line x1="704.8" y1="3.7" x2="703.8" y2="3.7" stroke-width="1.3"/>
<line x1="240.1" y1="400.6" x2="240.1" y2="398.40000000000003" stroke-width="1.9"/>
<line x1="240.1" y1="225.3" x2="240.1" y2="227.5" stroke-width="1.9"/>
<line x1="249.6" y1="400.6" x2="249.6" y2="399.1" stroke-width="1.5"/>
<line x1="249.6" y1="225.3" x2="249.6" y2="226.8" stroke-width="1.5"/>
<line x1="259.0" y1="400.6" x2="259.0" y2="399.1" stroke-width="1.5"/>
<line x1="259.0" y1="225.3" x2="259.0" y2="226.8" stroke-width="1.5"/>
<line x1="268.5" y1="400.6" x2="268.5" y2="399.1" stroke-width="1.5"/>
<line x1="268.5" y1="225.3" x2="268.5" y2="226.8" stroke-width="1.5"/>
<line x1="278.0" y1="400.6" x2="278.0" y2="399.1" stroke-width="1.5"/>
<line x1="278.0" y1="225.3" x2="278.0" y2="226.8" stroke-width="1.5"/>
<line x1="287.4" y1="400.6" x2="287.4" y2="398.40000000000003" stroke-width="1.9"/>
<line x1="287.4" y1="225.3" x2="287.4" y2="227.5" stroke-width="1.9"/>
<line x1="296.9" y1="400.6" x2="296.9" y2="399.1" stroke-width="1.5"/>
<line x1="296.9" y1="225.3" x2="296.9" y2="226.8" stroke-width="1.5"/>
<line x1="306.4" y1="400.6" x2="306.4" y2="399.1" stroke-width="1.5"/>
<line x1="306.4" y1="225.3" x2="306.4" y2="226.8" stroke-width="1.5"/>
<line x1="315.8" y1="400.6" x2="315.8" y2="399.1" stroke-width="1.5"/>
<line x1="315.8" y1="225.3" x2="315.8" y2="226.8" stroke-width="1.5"/>
<line x1="325.3" y1="400.6" x2="325.3" y2="399.1" stroke-width="1.5"/>
<line x1="325.3" y1="225.3" x2="325.3" y2="226.8" stroke-width="1.5"/>
<line x1="334.8" y1="400.6" x2="334.8" y2="398.40000000000003" stroke-width="1.9"/>
<line x1="334.8" y1="225.3" x2="334.8" y2="227.5" stroke-width="1.9"/>
<line x1="344.2" y1="400.6" x2="344.2" y2="399.1" stroke-width="1.5"/>
<line x1="344.2" y1="225.3" x2="344.2" y2="226.8" stroke-width="1.5"/>
<line x1="353.7" y1="400.6" x2="353.7" y2="399.1" stroke-width="1.5"/>
<line x1="353.7" y1="225.3" x2="353.7" y2="226.8" stroke-width="1.5"/>
<line x1="363.1" y1="400.6" x2="363.1" y2="399.1" stroke-width="1.5"/>
<line x1="363.1" y1="225.3" x2="363.1" y2="226.8" stroke-width="1.5"/>
<line x1="372.6" y1="400.6" x2="372.6" y2="399.1" stroke-width="1.5"/>
<line x1="372.6" y1="225.3" x2="372.6" y2="226.8" stroke-width="1.5"/>
<line x1="382.1" y1="400.6" x2="382.1" y2="398.40000000000003" stroke-width="1.9"/>
<line x1="382.1" y1="225.3" x2="382.1" y2="227.5" stroke-width="1.9"/>
<line x1="391.5" y1="400.6" x2="391.5" y2="399.1" stroke-width="1.5"/>
<line x1="391.5" y1="225.3" x2="391.5" y2="226.8" stroke-width="1.5"/>
<line x1="401.0" y1="400.6" x2="401.0" y2="399.1" stroke-width="1.5"/>
<line x1="401.0" y1="225.3" x2="401.0" y2="226.8" stroke-width="1.5"/>
<line x1="410.5" y1="400.6" x2="410.5" y2="399.1" stroke-width="1.5"/>
<line x1="410.5" y1="225.3" x2="410.5" y2="226.8" stroke-width="1.5"/>
<line x1="419.9" y1="400.6" x2="419.9" y2="399.1" stroke-width="1.5"/>
<line x1="419.9" y1="225.3" x2="419.9" y2="226.8" stroke-width="1.5"/>
<line x1="429.4" y1="400.6" x2="429.4" y2="398.40000000000003" stroke-width="1.9"/>
<line x1="429.4" y1="225.3" x2="429.4" y2="227.5" stroke-width="1.9"/>
<line x1="438.9" y1="400.6" x2="438.9" y2="399.1" stroke-width="1.5"/>
<line x1="438.9" y1="225.3" x2="438.9" y2="226.8" stroke-width="1.5"/>
<line x1="448.3" y1="400.6" x2="448.3" y2="399.1" stroke-width="1.5"/>
<line x1="448.3" y1="225.3" x2="448.3" y2="226.8" stroke-width="1.5"/>
<line x1="457.8" y1="400.6" x2="457.8" y2="399.1" stroke-width="1.5"/>
<line x1="457.8" y1="225.3" x2="457.8" y2="226.8" stroke-width="1.5"/>
<line x1="467.3" y1="400.6" x2="467.3" y2="399.1" stroke-width="1.5"/>
<line x1="467.3" y1="225.3" x2="467.3" y2="226.8" stroke-width="1.5"/>
<line x1="476.7" y1="400.6" x2="476.7" y2="398.40000000000003" stroke-width="1.9"/>
<line x1="476.7" y1="225.3" x2="476.7" y2="227.5" stroke-width="1.9"/>
<line x1="486.2" y1="400.6" x2="486.2" y2="399.1" stroke-width="1.5"/>
<line x1="486.2" y1="225.3" x2="486.2" y2="226.8" stroke-width="1.5"/>
<line x1="495.7" y1="400.6" x2="495.7" y2="399.1" stroke-width="1.5"/>
<line x1="495.7" y1="225.3" x2="495.7" y2="226.8" stroke-width="1.5"/>
<line x1="505.1" y1="400.6" x2="505.1" y2="399.1" stroke-width="1.5"/>
<line x1="505.1" y1="225.3" x2="505.1" y2="226.8" stroke-width="1.5"/>
<line x1="514.6" y1="400.6" x2="514.6" y2="399.1" stroke-width="1.5"/>
<line x1="514.6" y1="225.3" x2="514.6" y2="226.8" stroke-width="1.5"/>
<line x1="524.0" y1="400.6" x2="524.0" y2="398.40000000000003" stroke-width="1.9"/>
<line x1="524.0" y1="225.3" x2="524.0" y2="227.5" stroke-width="1.9"/>
<line x1="233.95" y1="397.4" x2="237.64999999999998" y2="397.4" stroke-width="1.6"/>
<line x1="529.65" y1="397.4" x2="527.35" y2="397.4" stroke-width="1.6"/>
<line x1="233.95" y1="387.9" x2="235.64999999999998" y2="387.9" stroke-width="1.3"/>
<line x1="529.65" y1="387.9" x2="528.65" y2="387.9" stroke-width="1.3"/>
<line x1="233.95" y1="378.3" x2="235.64999999999998" y2="378.3" stroke-width="1.3"/>
<line x1="529.65" y1="378.3" x2="528.65" y2="378.3" stroke-width="1.3"/>
<line x1="233.95" y1="368.8" x2="235.64999999999998" y2="368.8" stroke-width="1.3"/>
<line x1="529.65" y1="368.8" x2="528.65" y2="368.8" stroke-width="1.3"/>
<line x1="233.95" y1="359.2" x2="237.64999999999998" y2="359.2" stroke-width="1.6"/>
<line x1="529.65" y1="359.2" x2="527.35" y2="359.2" stroke-width="1.6"/>
<line x1="233.95" y1="349.7" x2="235.64999999999998" y2="349.7" stroke-width="1.3"/>
<line x1="529.65" y1="349.7" x2="528.65" y2="349.7" stroke-width="1.3"/>
<line x1="233.95" y1="340.1" x2="235.64999999999998" y2="340.1" stroke-width="1.3"/>
<line x1="529.65" y1="340.1" x2="528.65" y2="340.1" stroke-width="1.3"/>
<line x1="233.95" y1="330.6" x2="235.64999999999998" y2="330.6" stroke-width="1.3"/>
<line x1="529.65" y1="330.6" x2="528.65" y2="330.6" stroke-width="1.3"/>
<line x1="233.95" y1="321.1" x2="237.64999999999998" y2="321.1" stroke-width="1.6"/>
<line x1="529.65" y1="321.1" x2="527.35" y2="321.1" stroke-width="1.6"/>
<line x1="233.95" y1="311.5" x2="235.64999999999998" y2="311.5" stroke-width="1.3"/>
<line x1="529.65" y1="311.5" x2="528.65" y2="311.5" stroke-width="1.3"/>
<line x1="233.95" y1="302.0" x2="235.64999999999998" y2="302.0" stroke-width="1.3"/>
<line x1="529.65" y1="302.0" x2="528.65" y2="302.0" stroke-width="1.3"/>
<line x1="233.95" y1="292.4" x2="235.64999999999998" y2="292.4" stroke-width="1.3"/>
<line x1="529.65" y1="292.4" x2="528.65" y2="292.4" stroke-width="1.3"/>
<line x1="233.95" y1="282.9" x2="237.64999999999998" y2="282.9" stroke-width="1.6"/>
<line x1="529.65" y1="282.9" x2="527.35" y2="282.9" stroke-width="1.6"/>
<line x1="233.95" y1="273.3" x2="235.64999999999998" y2="273.3" stroke-width="1.3"/>
<line x1="529.65" y1="273.3" x2="528.65" y2="273.3" stroke-width="1.3"/>
<line x1="233.95" y1="263.8" x2="235.64999999999998" y2="263.8" stroke-width="1.3"/>
<line x1="529.65" y1="263.8" x2="528.65" y2="263.8" stroke-width="1.3"/>
<line x1="233.95" y1="254.2" x2="235.64999999999998" y2="254.2" stroke-width="1.3"/>
<line x1="529.65" y1="254.2" x2="528.65" y2="254.2" stroke-width="1.3"/>
<line x1="233.95" y1="244.7" x2="237.64999999999998" y2="244.7" stroke-width="1.6"/>
<line x1="529.65" y1="244.7" x2="527.35" y2="244.7" stroke-width="1.6"/>
<line x1="233.95" y1="235.1" x2="235.64999999999998" y2="235.1" stroke-width="1.3"/>
<line x1="529.65" y1="235.1" x2="528.65" y2="235.1" stroke-width="1.3"/>
<line x1="233.95" y1="225.6" x2="235.64999999999998" y2="225.6" stroke-width="1.3"/>
<line x1="529.65" y1="225.6" x2="528.65" y2="225.6" stroke-width="1.3"/>
</g>
<g stroke="#000" stroke-width="2" fill="none">
<rect x="47.1" y="3.5" width="283.5" height="167.0"/>
<rect x="399.2" y="3.5" width="305.6" height="180.3"/>
<rect x="233.95" y="225.3" width="295.7" height="175.3"/>
</g>
<g font-family="Liberation Serif" font-weight="bold" fill="#000" style="font-kerning:none">
<text font-size="16.5" transform="translate(24.45,26.01) scale(0.977,1)">0.4</text>
<text font-size="16.5" transform="translate(24.84,60.03) scale(0.977,1)">0.2</text>
<text font-size="16.5" transform="translate(24.76,94.05) scale(0.977,1)">0.0</text>
<text font-size="16.5" transform="translate(24.84,128.07) scale(0.977,1)">0.2</text>
<rect x="14.16" y="122.57" width="9" height="1.8"/>
<text font-size="16.5" transform="translate(24.45,162.09) scale(0.977,1)">0.4</text>
<rect x="13.76" y="156.59" width="9" height="1.8"/>
<text font-size="16.5" transform="translate(48.62,186.85) scale(0.977,1)">0</text>
<text font-size="16.5" transform="translate(94.03,186.85) scale(0.977,1)">5</text>
<text font-size="16.5" transform="translate(135.12,186.85) scale(0.977,1)">10</text>
<text font-size="16.5" transform="translate(180.54,186.85) scale(0.977,1)">15</text>
<text font-size="16.5" transform="translate(226.30,186.85) scale(0.977,1)">20</text>
<text font-size="16.5" transform="translate(271.72,186.85) scale(0.977,1)">25</text>
<text font-size="16.5" transform="translate(316.50,186.85) scale(0.977,1)">30</text>
<text font-size="16.5" transform="translate(376.15,28.74) scale(0.977,1)">0.4</text>
<text font-size="16.5" transform="translate(376.54,68.12) scale(0.977,1)">0.2</text>
<text font-size="16.5" transform="translate(376.46,107.5) scale(0.977,1)">0.0</text>
<text font-size="16.5" transform="translate(376.54,146.88) scale(0.977,1)">0.2</text>
<rect x="365.86" y="141.38" width="9" height="1.8"/>
<text font-size="16.5" transform="translate(376.15,186.26) scale(0.977,1)">0.4</text>
<rect x="365.46" y="180.76" width="9" height="1.8"/>
<text font-size="16.5" transform="translate(401.47,199.95) scale(0.977,1)">0</text>
<text font-size="16.5" transform="translate(450.17,199.95) scale(0.977,1)">5</text>
<text font-size="16.5" transform="translate(494.55,199.95) scale(0.977,1)">10</text>
<text font-size="16.5" transform="translate(543.26,199.95) scale(0.977,1)">15</text>
<text font-size="16.5" transform="translate(592.31,199.95) scale(0.977,1)">20</text>
<text font-size="16.5" transform="translate(641.02,199.95) scale(0.977,1)">25</text>
<text font-size="16.5" transform="translate(689.79,199.95) scale(0.977,1)">30</text>
<text font-size="16.5" transform="translate(210.75,250.04) scale(0.977,1)">0.4</text>
<text font-size="16.5" transform="translate(211.14,288.22) scale(0.977,1)">0.2</text>
<text font-size="16.5" transform="translate(211.06,326.4) scale(0.977,1)">0.0</text>
<text font-size="16.5" transform="translate(211.14,364.58) scale(0.977,1)">0.2</text>
<rect x="200.46" y="359.08" width="9" height="1.8"/>
<text font-size="16.5" transform="translate(210.75,402.76) scale(0.977,1)">0.4</text>
<rect x="200.06" y="397.26" width="9" height="1.8"/>
<text font-size="16.5" transform="translate(235.77,416.75) scale(0.977,1)">0</text>
<text font-size="16.5" transform="translate(283.07,416.75) scale(0.977,1)">5</text>
<text font-size="16.5" transform="translate(326.05,416.75) scale(0.977,1)">10</text>
<text font-size="16.5" transform="translate(373.36,416.75) scale(0.977,1)">15</text>
<text font-size="16.5" transform="translate(421.01,416.75) scale(0.977,1)">20</text>
<text font-size="16.5" transform="translate(468.32,416.75) scale(0.977,1)">25</text>
<text font-size="16.5" transform="translate(515.69,416.75) scale(0.977,1)">30</text>
<text font-size="17.5" font-style="italic" transform="translate(10.4,91.0) rotate(-90) skewX(-10)">u</text>
<text font-size="17.5" font-style="italic" transform="translate(360.5,105.7) rotate(-90) skewX(-10)">u</text>
<text font-size="16.8" font-style="italic" transform="translate(198.9,324.6) rotate(-90) skewX(-10)">u</text>
<text font-size="17.2" font-style="italic" transform="translate(185.79,202.9) scale(0.982,1)">t</text>
<text font-size="17.2" font-style="italic" transform="translate(548.52,215.5) scale(0.918,1)">t</text>
<text font-size="17.2" font-style="italic" transform="translate(378.78,431.6) scale(1.003,1)">t</text>
<text font-size="14.3" transform="translate(125.88,19.9) scale(1.148,1)">(a)</text>
<text font-size="14.3" transform="translate(479.91,20.4) scale(1.104,1)">(b)</text>
<text font-size="14.3" transform="translate(325.04,244.0) scale(1.204,1)">(c)</text>
<line x1="248.0" y1="15.6" x2="262.9" y2="15.6" stroke="#12a812" stroke-width="2"/>
<line x1="248.0" y1="31.5" x2="262.9" y2="31.5" stroke="#f90808" stroke-width="2"/>
<line x1="248.0" y1="46.6" x2="262.9" y2="46.6" stroke="#1410ec" stroke-width="2"/>
<text font-size="14.5" font-style="italic" transform="translate(266.45,18.9) scale(1.219,1)">μ</text>
<rect x="278.60" y="13.80" width="8.50" height="1.4"/><rect x="278.60" y="16.60" width="8.50" height="1.4"/>
<rect x="289.7" y="14.30" width="4.80" height="1.6"/>
<text font-size="13.5" transform="translate(294.95,18.9) scale(1.068,1)">0.08</text>
<text font-size="14.5" font-style="italic" transform="translate(267.37,33.0) scale(1.085,1)">μ</text>
<rect x="279.40" y="27.90" width="8.40" height="1.4"/><rect x="279.40" y="30.70" width="8.40" height="1.4"/>
<rect x="290.4" y="28.40" width="4.20" height="1.6"/>
<text font-size="13.5" transform="translate(295.37,33.0) scale(1.028,1)">0.1</text>
<text font-size="14.5" font-style="italic" transform="translate(267.37,47.4) scale(1.085,1)">μ</text>
<rect x="279.40" y="42.30" width="8.40" height="1.4"/><rect x="279.40" y="45.10" width="8.40" height="1.4"/>
<rect x="290.8" y="42.80" width="4.70" height="1.6"/>
<text font-size="13.5" transform="translate(297.04,47.4) scale(1.097,1)">0.5</text>
<line x1="640.3" y1="19.95" x2="654.8" y2="19.95" stroke="#12a812" stroke-width="2"/>
<line x1="640.3" y1="33.5" x2="654.8" y2="33.5" stroke="#f90808" stroke-width="2"/>
<line x1="640.3" y1="46.5" x2="654.8" y2="46.5" stroke="#1410ec" stroke-width="2"/>
<text font-size="12.0" font-style="italic" transform="translate(658.04,22.7) scale(1.430,1)">ω</text>
<rect x="673.00" y="17.60" width="8.40" height="1.4"/><rect x="673.00" y="20.40" width="8.40" height="1.4"/>
<text font-size="12.8" transform="translate(683.65,22.7) scale(1.125,1)">1</text>
<text font-size="12.0" font-style="italic" transform="translate(658.85,36.5) scale(1.392,1)">ω</text>
<rect x="673.20" y="31.40" width="8.20" height="1.4"/><rect x="673.20" y="34.20" width="8.20" height="1.4"/>
<text font-size="12.8" transform="translate(683.66,36.5) scale(1.186,1)">2</text>
<text font-size="12.0" font-style="italic" transform="translate(658.85,49.6) scale(1.392,1)">ω</text>
<rect x="673.20" y="44.50" width="8.20" height="1.4"/><rect x="673.20" y="47.30" width="8.20" height="1.4"/>
<text font-size="12.8" transform="translate(684.10,49.6) scale(1.119,1)">4</text>
<line x1="452.1" y1="245.9" x2="466.1" y2="245.9" stroke="#1410ec" stroke-width="2"/>
<line x1="452.1" y1="260.1" x2="466.1" y2="260.1" stroke="#f90808" stroke-width="2"/>
<line x1="452.1" y1="273.9" x2="466.1" y2="273.9" stroke="#12a812" stroke-width="2"/>
<text font-size="12.5" font-style="italic" transform="translate(470.03,249.7) scale(1.589,1)">σ</text>
<rect x="484.20" y="244.60" width="9.60" height="1.4"/><rect x="484.20" y="247.40" width="9.60" height="1.4"/>
<text font-size="13.0" transform="translate(495.08,249.7) scale(1.167,1)">1.5</text>
<text font-size="12.5" font-style="italic" transform="translate(470.03,262.7) scale(1.589,1)">σ</text>
<rect x="484.20" y="257.60" width="9.60" height="1.4"/><rect x="484.20" y="260.40" width="9.60" height="1.4"/>
<text font-size="13.0" transform="translate(495.76,262.7) scale(1.096,1)">3</text>
<text font-size="12.5" font-style="italic" transform="translate(470.03,276.0) scale(1.589,1)">σ</text>
<rect x="484.20" y="270.90" width="9.60" height="1.4"/><rect x="484.20" y="273.70" width="9.60" height="1.4"/>
<text font-size="13.0" transform="translate(495.77,276.0) scale(1.093,1)">3.5</text>
</g>
</svg>
</body></html>
